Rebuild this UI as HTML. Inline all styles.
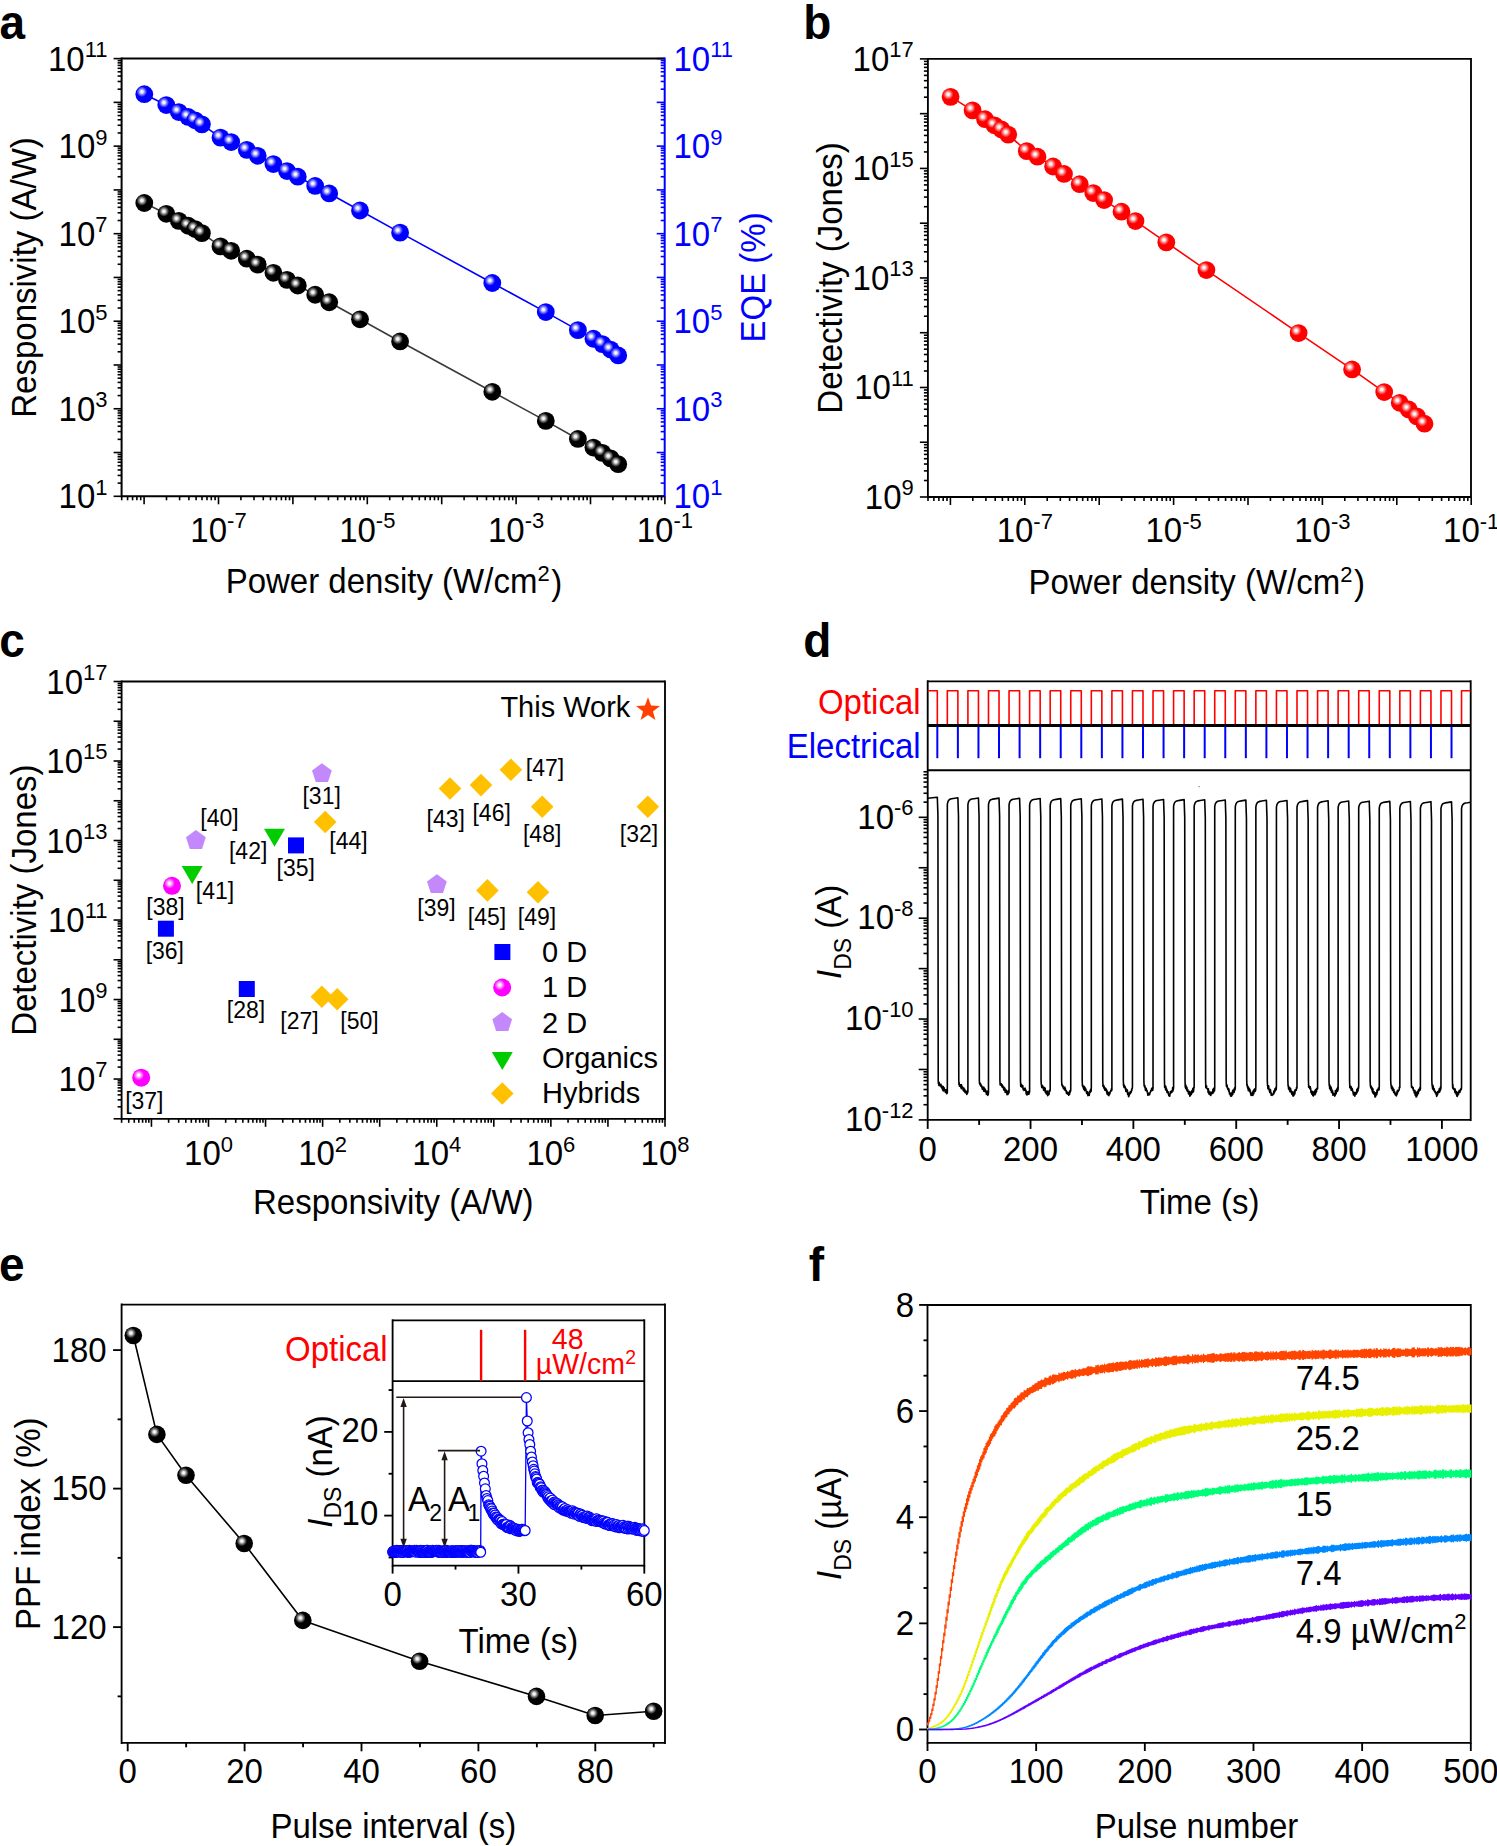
<!DOCTYPE html>
<html><head><meta charset="utf-8"><style>
html,body{margin:0;padding:0;background:#fff;}
svg{display:block;font-family:"Liberation Sans",sans-serif;}
</style></head><body>
<svg width="1497" height="1846" viewBox="0 0 1497 1846" font-size="33">
<defs>
<radialGradient id="hl"><stop offset="0" stop-color="#fff" stop-opacity="1"/><stop offset="0.25" stop-color="#fff" stop-opacity="0.92"/><stop offset="0.6" stop-color="#fff" stop-opacity="0.45"/><stop offset="1" stop-color="#fff" stop-opacity="0"/></radialGradient>
</defs>
<rect width="1497" height="1846" fill="#fff"/>
<text transform="translate(-0.5 38.6) scale(1 1.045)" font-weight="bold" font-size="46">a</text>
<line x1="121.6" y1="496.3" x2="113.6" y2="496.3" stroke="#000" stroke-width="1.6"/>
<line x1="121.6" y1="483.12" x2="117.6" y2="483.12" stroke="#000" stroke-width="1.6"/>
<line x1="121.6" y1="475.42" x2="117.6" y2="475.42" stroke="#000" stroke-width="1.6"/>
<line x1="121.6" y1="469.95" x2="117.6" y2="469.95" stroke="#000" stroke-width="1.6"/>
<line x1="121.6" y1="465.71" x2="117.6" y2="465.71" stroke="#000" stroke-width="1.6"/>
<line x1="121.6" y1="462.24" x2="117.6" y2="462.24" stroke="#000" stroke-width="1.6"/>
<line x1="121.6" y1="459.31" x2="117.6" y2="459.31" stroke="#000" stroke-width="1.6"/>
<line x1="121.6" y1="456.77" x2="117.6" y2="456.77" stroke="#000" stroke-width="1.6"/>
<line x1="121.6" y1="454.53" x2="117.6" y2="454.53" stroke="#000" stroke-width="1.6"/>
<line x1="121.6" y1="452.53" x2="113.6" y2="452.53" stroke="#000" stroke-width="1.6"/>
<line x1="121.6" y1="439.35" x2="117.6" y2="439.35" stroke="#000" stroke-width="1.6"/>
<line x1="121.6" y1="431.65" x2="117.6" y2="431.65" stroke="#000" stroke-width="1.6"/>
<line x1="121.6" y1="426.18" x2="117.6" y2="426.18" stroke="#000" stroke-width="1.6"/>
<line x1="121.6" y1="421.94" x2="117.6" y2="421.94" stroke="#000" stroke-width="1.6"/>
<line x1="121.6" y1="418.47" x2="117.6" y2="418.47" stroke="#000" stroke-width="1.6"/>
<line x1="121.6" y1="415.54" x2="117.6" y2="415.54" stroke="#000" stroke-width="1.6"/>
<line x1="121.6" y1="413" x2="117.6" y2="413" stroke="#000" stroke-width="1.6"/>
<line x1="121.6" y1="410.76" x2="117.6" y2="410.76" stroke="#000" stroke-width="1.6"/>
<line x1="121.6" y1="408.76" x2="113.6" y2="408.76" stroke="#000" stroke-width="1.6"/>
<line x1="121.6" y1="395.58" x2="117.6" y2="395.58" stroke="#000" stroke-width="1.6"/>
<line x1="121.6" y1="387.88" x2="117.6" y2="387.88" stroke="#000" stroke-width="1.6"/>
<line x1="121.6" y1="382.41" x2="117.6" y2="382.41" stroke="#000" stroke-width="1.6"/>
<line x1="121.6" y1="378.17" x2="117.6" y2="378.17" stroke="#000" stroke-width="1.6"/>
<line x1="121.6" y1="374.7" x2="117.6" y2="374.7" stroke="#000" stroke-width="1.6"/>
<line x1="121.6" y1="371.77" x2="117.6" y2="371.77" stroke="#000" stroke-width="1.6"/>
<line x1="121.6" y1="369.23" x2="117.6" y2="369.23" stroke="#000" stroke-width="1.6"/>
<line x1="121.6" y1="366.99" x2="117.6" y2="366.99" stroke="#000" stroke-width="1.6"/>
<line x1="121.6" y1="364.99" x2="113.6" y2="364.99" stroke="#000" stroke-width="1.6"/>
<line x1="121.6" y1="351.81" x2="117.6" y2="351.81" stroke="#000" stroke-width="1.6"/>
<line x1="121.6" y1="344.11" x2="117.6" y2="344.11" stroke="#000" stroke-width="1.6"/>
<line x1="121.6" y1="338.64" x2="117.6" y2="338.64" stroke="#000" stroke-width="1.6"/>
<line x1="121.6" y1="334.4" x2="117.6" y2="334.4" stroke="#000" stroke-width="1.6"/>
<line x1="121.6" y1="330.93" x2="117.6" y2="330.93" stroke="#000" stroke-width="1.6"/>
<line x1="121.6" y1="328" x2="117.6" y2="328" stroke="#000" stroke-width="1.6"/>
<line x1="121.6" y1="325.46" x2="117.6" y2="325.46" stroke="#000" stroke-width="1.6"/>
<line x1="121.6" y1="323.22" x2="117.6" y2="323.22" stroke="#000" stroke-width="1.6"/>
<line x1="121.6" y1="321.22" x2="113.6" y2="321.22" stroke="#000" stroke-width="1.6"/>
<line x1="121.6" y1="308.04" x2="117.6" y2="308.04" stroke="#000" stroke-width="1.6"/>
<line x1="121.6" y1="300.34" x2="117.6" y2="300.34" stroke="#000" stroke-width="1.6"/>
<line x1="121.6" y1="294.87" x2="117.6" y2="294.87" stroke="#000" stroke-width="1.6"/>
<line x1="121.6" y1="290.63" x2="117.6" y2="290.63" stroke="#000" stroke-width="1.6"/>
<line x1="121.6" y1="287.16" x2="117.6" y2="287.16" stroke="#000" stroke-width="1.6"/>
<line x1="121.6" y1="284.23" x2="117.6" y2="284.23" stroke="#000" stroke-width="1.6"/>
<line x1="121.6" y1="281.69" x2="117.6" y2="281.69" stroke="#000" stroke-width="1.6"/>
<line x1="121.6" y1="279.45" x2="117.6" y2="279.45" stroke="#000" stroke-width="1.6"/>
<line x1="121.6" y1="277.45" x2="113.6" y2="277.45" stroke="#000" stroke-width="1.6"/>
<line x1="121.6" y1="264.27" x2="117.6" y2="264.27" stroke="#000" stroke-width="1.6"/>
<line x1="121.6" y1="256.57" x2="117.6" y2="256.57" stroke="#000" stroke-width="1.6"/>
<line x1="121.6" y1="251.1" x2="117.6" y2="251.1" stroke="#000" stroke-width="1.6"/>
<line x1="121.6" y1="246.86" x2="117.6" y2="246.86" stroke="#000" stroke-width="1.6"/>
<line x1="121.6" y1="243.39" x2="117.6" y2="243.39" stroke="#000" stroke-width="1.6"/>
<line x1="121.6" y1="240.46" x2="117.6" y2="240.46" stroke="#000" stroke-width="1.6"/>
<line x1="121.6" y1="237.92" x2="117.6" y2="237.92" stroke="#000" stroke-width="1.6"/>
<line x1="121.6" y1="235.68" x2="117.6" y2="235.68" stroke="#000" stroke-width="1.6"/>
<line x1="121.6" y1="233.68" x2="113.6" y2="233.68" stroke="#000" stroke-width="1.6"/>
<line x1="121.6" y1="220.5" x2="117.6" y2="220.5" stroke="#000" stroke-width="1.6"/>
<line x1="121.6" y1="212.8" x2="117.6" y2="212.8" stroke="#000" stroke-width="1.6"/>
<line x1="121.6" y1="207.33" x2="117.6" y2="207.33" stroke="#000" stroke-width="1.6"/>
<line x1="121.6" y1="203.09" x2="117.6" y2="203.09" stroke="#000" stroke-width="1.6"/>
<line x1="121.6" y1="199.62" x2="117.6" y2="199.62" stroke="#000" stroke-width="1.6"/>
<line x1="121.6" y1="196.69" x2="117.6" y2="196.69" stroke="#000" stroke-width="1.6"/>
<line x1="121.6" y1="194.15" x2="117.6" y2="194.15" stroke="#000" stroke-width="1.6"/>
<line x1="121.6" y1="191.91" x2="117.6" y2="191.91" stroke="#000" stroke-width="1.6"/>
<line x1="121.6" y1="189.91" x2="113.6" y2="189.91" stroke="#000" stroke-width="1.6"/>
<line x1="121.6" y1="176.73" x2="117.6" y2="176.73" stroke="#000" stroke-width="1.6"/>
<line x1="121.6" y1="169.03" x2="117.6" y2="169.03" stroke="#000" stroke-width="1.6"/>
<line x1="121.6" y1="163.56" x2="117.6" y2="163.56" stroke="#000" stroke-width="1.6"/>
<line x1="121.6" y1="159.32" x2="117.6" y2="159.32" stroke="#000" stroke-width="1.6"/>
<line x1="121.6" y1="155.85" x2="117.6" y2="155.85" stroke="#000" stroke-width="1.6"/>
<line x1="121.6" y1="152.92" x2="117.6" y2="152.92" stroke="#000" stroke-width="1.6"/>
<line x1="121.6" y1="150.38" x2="117.6" y2="150.38" stroke="#000" stroke-width="1.6"/>
<line x1="121.6" y1="148.14" x2="117.6" y2="148.14" stroke="#000" stroke-width="1.6"/>
<line x1="121.6" y1="146.14" x2="113.6" y2="146.14" stroke="#000" stroke-width="1.6"/>
<line x1="121.6" y1="132.96" x2="117.6" y2="132.96" stroke="#000" stroke-width="1.6"/>
<line x1="121.6" y1="125.26" x2="117.6" y2="125.26" stroke="#000" stroke-width="1.6"/>
<line x1="121.6" y1="119.79" x2="117.6" y2="119.79" stroke="#000" stroke-width="1.6"/>
<line x1="121.6" y1="115.55" x2="117.6" y2="115.55" stroke="#000" stroke-width="1.6"/>
<line x1="121.6" y1="112.08" x2="117.6" y2="112.08" stroke="#000" stroke-width="1.6"/>
<line x1="121.6" y1="109.15" x2="117.6" y2="109.15" stroke="#000" stroke-width="1.6"/>
<line x1="121.6" y1="106.61" x2="117.6" y2="106.61" stroke="#000" stroke-width="1.6"/>
<line x1="121.6" y1="104.37" x2="117.6" y2="104.37" stroke="#000" stroke-width="1.6"/>
<line x1="121.6" y1="102.37" x2="113.6" y2="102.37" stroke="#000" stroke-width="1.6"/>
<line x1="121.6" y1="89.19" x2="117.6" y2="89.19" stroke="#000" stroke-width="1.6"/>
<line x1="121.6" y1="81.49" x2="117.6" y2="81.49" stroke="#000" stroke-width="1.6"/>
<line x1="121.6" y1="76.02" x2="117.6" y2="76.02" stroke="#000" stroke-width="1.6"/>
<line x1="121.6" y1="71.78" x2="117.6" y2="71.78" stroke="#000" stroke-width="1.6"/>
<line x1="121.6" y1="68.31" x2="117.6" y2="68.31" stroke="#000" stroke-width="1.6"/>
<line x1="121.6" y1="65.38" x2="117.6" y2="65.38" stroke="#000" stroke-width="1.6"/>
<line x1="121.6" y1="62.84" x2="117.6" y2="62.84" stroke="#000" stroke-width="1.6"/>
<line x1="121.6" y1="60.6" x2="117.6" y2="60.6" stroke="#000" stroke-width="1.6"/>
<line x1="121.6" y1="58.6" x2="113.6" y2="58.6" stroke="#000" stroke-width="1.6"/>
<line x1="664.7" y1="496.3" x2="656.7" y2="496.3" stroke="#00f" stroke-width="1.6"/>
<line x1="664.7" y1="483.12" x2="660.7" y2="483.12" stroke="#00f" stroke-width="1.6"/>
<line x1="664.7" y1="475.42" x2="660.7" y2="475.42" stroke="#00f" stroke-width="1.6"/>
<line x1="664.7" y1="469.95" x2="660.7" y2="469.95" stroke="#00f" stroke-width="1.6"/>
<line x1="664.7" y1="465.71" x2="660.7" y2="465.71" stroke="#00f" stroke-width="1.6"/>
<line x1="664.7" y1="462.24" x2="660.7" y2="462.24" stroke="#00f" stroke-width="1.6"/>
<line x1="664.7" y1="459.31" x2="660.7" y2="459.31" stroke="#00f" stroke-width="1.6"/>
<line x1="664.7" y1="456.77" x2="660.7" y2="456.77" stroke="#00f" stroke-width="1.6"/>
<line x1="664.7" y1="454.53" x2="660.7" y2="454.53" stroke="#00f" stroke-width="1.6"/>
<line x1="664.7" y1="452.53" x2="656.7" y2="452.53" stroke="#00f" stroke-width="1.6"/>
<line x1="664.7" y1="439.35" x2="660.7" y2="439.35" stroke="#00f" stroke-width="1.6"/>
<line x1="664.7" y1="431.65" x2="660.7" y2="431.65" stroke="#00f" stroke-width="1.6"/>
<line x1="664.7" y1="426.18" x2="660.7" y2="426.18" stroke="#00f" stroke-width="1.6"/>
<line x1="664.7" y1="421.94" x2="660.7" y2="421.94" stroke="#00f" stroke-width="1.6"/>
<line x1="664.7" y1="418.47" x2="660.7" y2="418.47" stroke="#00f" stroke-width="1.6"/>
<line x1="664.7" y1="415.54" x2="660.7" y2="415.54" stroke="#00f" stroke-width="1.6"/>
<line x1="664.7" y1="413" x2="660.7" y2="413" stroke="#00f" stroke-width="1.6"/>
<line x1="664.7" y1="410.76" x2="660.7" y2="410.76" stroke="#00f" stroke-width="1.6"/>
<line x1="664.7" y1="408.76" x2="656.7" y2="408.76" stroke="#00f" stroke-width="1.6"/>
<line x1="664.7" y1="395.58" x2="660.7" y2="395.58" stroke="#00f" stroke-width="1.6"/>
<line x1="664.7" y1="387.88" x2="660.7" y2="387.88" stroke="#00f" stroke-width="1.6"/>
<line x1="664.7" y1="382.41" x2="660.7" y2="382.41" stroke="#00f" stroke-width="1.6"/>
<line x1="664.7" y1="378.17" x2="660.7" y2="378.17" stroke="#00f" stroke-width="1.6"/>
<line x1="664.7" y1="374.7" x2="660.7" y2="374.7" stroke="#00f" stroke-width="1.6"/>
<line x1="664.7" y1="371.77" x2="660.7" y2="371.77" stroke="#00f" stroke-width="1.6"/>
<line x1="664.7" y1="369.23" x2="660.7" y2="369.23" stroke="#00f" stroke-width="1.6"/>
<line x1="664.7" y1="366.99" x2="660.7" y2="366.99" stroke="#00f" stroke-width="1.6"/>
<line x1="664.7" y1="364.99" x2="656.7" y2="364.99" stroke="#00f" stroke-width="1.6"/>
<line x1="664.7" y1="351.81" x2="660.7" y2="351.81" stroke="#00f" stroke-width="1.6"/>
<line x1="664.7" y1="344.11" x2="660.7" y2="344.11" stroke="#00f" stroke-width="1.6"/>
<line x1="664.7" y1="338.64" x2="660.7" y2="338.64" stroke="#00f" stroke-width="1.6"/>
<line x1="664.7" y1="334.4" x2="660.7" y2="334.4" stroke="#00f" stroke-width="1.6"/>
<line x1="664.7" y1="330.93" x2="660.7" y2="330.93" stroke="#00f" stroke-width="1.6"/>
<line x1="664.7" y1="328" x2="660.7" y2="328" stroke="#00f" stroke-width="1.6"/>
<line x1="664.7" y1="325.46" x2="660.7" y2="325.46" stroke="#00f" stroke-width="1.6"/>
<line x1="664.7" y1="323.22" x2="660.7" y2="323.22" stroke="#00f" stroke-width="1.6"/>
<line x1="664.7" y1="321.22" x2="656.7" y2="321.22" stroke="#00f" stroke-width="1.6"/>
<line x1="664.7" y1="308.04" x2="660.7" y2="308.04" stroke="#00f" stroke-width="1.6"/>
<line x1="664.7" y1="300.34" x2="660.7" y2="300.34" stroke="#00f" stroke-width="1.6"/>
<line x1="664.7" y1="294.87" x2="660.7" y2="294.87" stroke="#00f" stroke-width="1.6"/>
<line x1="664.7" y1="290.63" x2="660.7" y2="290.63" stroke="#00f" stroke-width="1.6"/>
<line x1="664.7" y1="287.16" x2="660.7" y2="287.16" stroke="#00f" stroke-width="1.6"/>
<line x1="664.7" y1="284.23" x2="660.7" y2="284.23" stroke="#00f" stroke-width="1.6"/>
<line x1="664.7" y1="281.69" x2="660.7" y2="281.69" stroke="#00f" stroke-width="1.6"/>
<line x1="664.7" y1="279.45" x2="660.7" y2="279.45" stroke="#00f" stroke-width="1.6"/>
<line x1="664.7" y1="277.45" x2="656.7" y2="277.45" stroke="#00f" stroke-width="1.6"/>
<line x1="664.7" y1="264.27" x2="660.7" y2="264.27" stroke="#00f" stroke-width="1.6"/>
<line x1="664.7" y1="256.57" x2="660.7" y2="256.57" stroke="#00f" stroke-width="1.6"/>
<line x1="664.7" y1="251.1" x2="660.7" y2="251.1" stroke="#00f" stroke-width="1.6"/>
<line x1="664.7" y1="246.86" x2="660.7" y2="246.86" stroke="#00f" stroke-width="1.6"/>
<line x1="664.7" y1="243.39" x2="660.7" y2="243.39" stroke="#00f" stroke-width="1.6"/>
<line x1="664.7" y1="240.46" x2="660.7" y2="240.46" stroke="#00f" stroke-width="1.6"/>
<line x1="664.7" y1="237.92" x2="660.7" y2="237.92" stroke="#00f" stroke-width="1.6"/>
<line x1="664.7" y1="235.68" x2="660.7" y2="235.68" stroke="#00f" stroke-width="1.6"/>
<line x1="664.7" y1="233.68" x2="656.7" y2="233.68" stroke="#00f" stroke-width="1.6"/>
<line x1="664.7" y1="220.5" x2="660.7" y2="220.5" stroke="#00f" stroke-width="1.6"/>
<line x1="664.7" y1="212.8" x2="660.7" y2="212.8" stroke="#00f" stroke-width="1.6"/>
<line x1="664.7" y1="207.33" x2="660.7" y2="207.33" stroke="#00f" stroke-width="1.6"/>
<line x1="664.7" y1="203.09" x2="660.7" y2="203.09" stroke="#00f" stroke-width="1.6"/>
<line x1="664.7" y1="199.62" x2="660.7" y2="199.62" stroke="#00f" stroke-width="1.6"/>
<line x1="664.7" y1="196.69" x2="660.7" y2="196.69" stroke="#00f" stroke-width="1.6"/>
<line x1="664.7" y1="194.15" x2="660.7" y2="194.15" stroke="#00f" stroke-width="1.6"/>
<line x1="664.7" y1="191.91" x2="660.7" y2="191.91" stroke="#00f" stroke-width="1.6"/>
<line x1="664.7" y1="189.91" x2="656.7" y2="189.91" stroke="#00f" stroke-width="1.6"/>
<line x1="664.7" y1="176.73" x2="660.7" y2="176.73" stroke="#00f" stroke-width="1.6"/>
<line x1="664.7" y1="169.03" x2="660.7" y2="169.03" stroke="#00f" stroke-width="1.6"/>
<line x1="664.7" y1="163.56" x2="660.7" y2="163.56" stroke="#00f" stroke-width="1.6"/>
<line x1="664.7" y1="159.32" x2="660.7" y2="159.32" stroke="#00f" stroke-width="1.6"/>
<line x1="664.7" y1="155.85" x2="660.7" y2="155.85" stroke="#00f" stroke-width="1.6"/>
<line x1="664.7" y1="152.92" x2="660.7" y2="152.92" stroke="#00f" stroke-width="1.6"/>
<line x1="664.7" y1="150.38" x2="660.7" y2="150.38" stroke="#00f" stroke-width="1.6"/>
<line x1="664.7" y1="148.14" x2="660.7" y2="148.14" stroke="#00f" stroke-width="1.6"/>
<line x1="664.7" y1="146.14" x2="656.7" y2="146.14" stroke="#00f" stroke-width="1.6"/>
<line x1="664.7" y1="132.96" x2="660.7" y2="132.96" stroke="#00f" stroke-width="1.6"/>
<line x1="664.7" y1="125.26" x2="660.7" y2="125.26" stroke="#00f" stroke-width="1.6"/>
<line x1="664.7" y1="119.79" x2="660.7" y2="119.79" stroke="#00f" stroke-width="1.6"/>
<line x1="664.7" y1="115.55" x2="660.7" y2="115.55" stroke="#00f" stroke-width="1.6"/>
<line x1="664.7" y1="112.08" x2="660.7" y2="112.08" stroke="#00f" stroke-width="1.6"/>
<line x1="664.7" y1="109.15" x2="660.7" y2="109.15" stroke="#00f" stroke-width="1.6"/>
<line x1="664.7" y1="106.61" x2="660.7" y2="106.61" stroke="#00f" stroke-width="1.6"/>
<line x1="664.7" y1="104.37" x2="660.7" y2="104.37" stroke="#00f" stroke-width="1.6"/>
<line x1="664.7" y1="102.37" x2="656.7" y2="102.37" stroke="#00f" stroke-width="1.6"/>
<line x1="664.7" y1="89.19" x2="660.7" y2="89.19" stroke="#00f" stroke-width="1.6"/>
<line x1="664.7" y1="81.49" x2="660.7" y2="81.49" stroke="#00f" stroke-width="1.6"/>
<line x1="664.7" y1="76.02" x2="660.7" y2="76.02" stroke="#00f" stroke-width="1.6"/>
<line x1="664.7" y1="71.78" x2="660.7" y2="71.78" stroke="#00f" stroke-width="1.6"/>
<line x1="664.7" y1="68.31" x2="660.7" y2="68.31" stroke="#00f" stroke-width="1.6"/>
<line x1="664.7" y1="65.38" x2="660.7" y2="65.38" stroke="#00f" stroke-width="1.6"/>
<line x1="664.7" y1="62.84" x2="660.7" y2="62.84" stroke="#00f" stroke-width="1.6"/>
<line x1="664.7" y1="60.6" x2="660.7" y2="60.6" stroke="#00f" stroke-width="1.6"/>
<line x1="664.7" y1="58.6" x2="656.7" y2="58.6" stroke="#00f" stroke-width="1.6"/>
<line x1="121.7" y1="496.3" x2="121.7" y2="500.3" stroke="#000" stroke-width="1.6"/>
<line x1="127.59" y1="496.3" x2="127.59" y2="500.3" stroke="#000" stroke-width="1.6"/>
<line x1="132.58" y1="496.3" x2="132.58" y2="500.3" stroke="#000" stroke-width="1.6"/>
<line x1="136.89" y1="496.3" x2="136.89" y2="500.3" stroke="#000" stroke-width="1.6"/>
<line x1="140.7" y1="496.3" x2="140.7" y2="500.3" stroke="#000" stroke-width="1.6"/>
<line x1="144.1" y1="496.3" x2="144.1" y2="504.3" stroke="#000" stroke-width="1.6"/>
<line x1="166.5" y1="496.3" x2="166.5" y2="500.3" stroke="#000" stroke-width="1.6"/>
<line x1="179.6" y1="496.3" x2="179.6" y2="500.3" stroke="#000" stroke-width="1.6"/>
<line x1="188.89" y1="496.3" x2="188.89" y2="500.3" stroke="#000" stroke-width="1.6"/>
<line x1="196.1" y1="496.3" x2="196.1" y2="500.3" stroke="#000" stroke-width="1.6"/>
<line x1="201.99" y1="496.3" x2="201.99" y2="500.3" stroke="#000" stroke-width="1.6"/>
<line x1="206.98" y1="496.3" x2="206.98" y2="500.3" stroke="#000" stroke-width="1.6"/>
<line x1="211.29" y1="496.3" x2="211.29" y2="500.3" stroke="#000" stroke-width="1.6"/>
<line x1="215.1" y1="496.3" x2="215.1" y2="500.3" stroke="#000" stroke-width="1.6"/>
<line x1="218.5" y1="496.3" x2="218.5" y2="504.3" stroke="#000" stroke-width="1.6"/>
<line x1="240.9" y1="496.3" x2="240.9" y2="500.3" stroke="#000" stroke-width="1.6"/>
<line x1="254" y1="496.3" x2="254" y2="500.3" stroke="#000" stroke-width="1.6"/>
<line x1="263.29" y1="496.3" x2="263.29" y2="500.3" stroke="#000" stroke-width="1.6"/>
<line x1="270.5" y1="496.3" x2="270.5" y2="500.3" stroke="#000" stroke-width="1.6"/>
<line x1="276.39" y1="496.3" x2="276.39" y2="500.3" stroke="#000" stroke-width="1.6"/>
<line x1="281.38" y1="496.3" x2="281.38" y2="500.3" stroke="#000" stroke-width="1.6"/>
<line x1="285.69" y1="496.3" x2="285.69" y2="500.3" stroke="#000" stroke-width="1.6"/>
<line x1="289.5" y1="496.3" x2="289.5" y2="500.3" stroke="#000" stroke-width="1.6"/>
<line x1="292.9" y1="496.3" x2="292.9" y2="504.3" stroke="#000" stroke-width="1.6"/>
<line x1="315.3" y1="496.3" x2="315.3" y2="500.3" stroke="#000" stroke-width="1.6"/>
<line x1="328.4" y1="496.3" x2="328.4" y2="500.3" stroke="#000" stroke-width="1.6"/>
<line x1="337.69" y1="496.3" x2="337.69" y2="500.3" stroke="#000" stroke-width="1.6"/>
<line x1="344.9" y1="496.3" x2="344.9" y2="500.3" stroke="#000" stroke-width="1.6"/>
<line x1="350.79" y1="496.3" x2="350.79" y2="500.3" stroke="#000" stroke-width="1.6"/>
<line x1="355.78" y1="496.3" x2="355.78" y2="500.3" stroke="#000" stroke-width="1.6"/>
<line x1="360.09" y1="496.3" x2="360.09" y2="500.3" stroke="#000" stroke-width="1.6"/>
<line x1="363.9" y1="496.3" x2="363.9" y2="500.3" stroke="#000" stroke-width="1.6"/>
<line x1="367.3" y1="496.3" x2="367.3" y2="504.3" stroke="#000" stroke-width="1.6"/>
<line x1="389.7" y1="496.3" x2="389.7" y2="500.3" stroke="#000" stroke-width="1.6"/>
<line x1="402.8" y1="496.3" x2="402.8" y2="500.3" stroke="#000" stroke-width="1.6"/>
<line x1="412.09" y1="496.3" x2="412.09" y2="500.3" stroke="#000" stroke-width="1.6"/>
<line x1="419.3" y1="496.3" x2="419.3" y2="500.3" stroke="#000" stroke-width="1.6"/>
<line x1="425.19" y1="496.3" x2="425.19" y2="500.3" stroke="#000" stroke-width="1.6"/>
<line x1="430.18" y1="496.3" x2="430.18" y2="500.3" stroke="#000" stroke-width="1.6"/>
<line x1="434.49" y1="496.3" x2="434.49" y2="500.3" stroke="#000" stroke-width="1.6"/>
<line x1="438.3" y1="496.3" x2="438.3" y2="500.3" stroke="#000" stroke-width="1.6"/>
<line x1="441.7" y1="496.3" x2="441.7" y2="504.3" stroke="#000" stroke-width="1.6"/>
<line x1="464.1" y1="496.3" x2="464.1" y2="500.3" stroke="#000" stroke-width="1.6"/>
<line x1="477.2" y1="496.3" x2="477.2" y2="500.3" stroke="#000" stroke-width="1.6"/>
<line x1="486.49" y1="496.3" x2="486.49" y2="500.3" stroke="#000" stroke-width="1.6"/>
<line x1="493.7" y1="496.3" x2="493.7" y2="500.3" stroke="#000" stroke-width="1.6"/>
<line x1="499.59" y1="496.3" x2="499.59" y2="500.3" stroke="#000" stroke-width="1.6"/>
<line x1="504.58" y1="496.3" x2="504.58" y2="500.3" stroke="#000" stroke-width="1.6"/>
<line x1="508.89" y1="496.3" x2="508.89" y2="500.3" stroke="#000" stroke-width="1.6"/>
<line x1="512.7" y1="496.3" x2="512.7" y2="500.3" stroke="#000" stroke-width="1.6"/>
<line x1="516.1" y1="496.3" x2="516.1" y2="504.3" stroke="#000" stroke-width="1.6"/>
<line x1="538.5" y1="496.3" x2="538.5" y2="500.3" stroke="#000" stroke-width="1.6"/>
<line x1="551.6" y1="496.3" x2="551.6" y2="500.3" stroke="#000" stroke-width="1.6"/>
<line x1="560.89" y1="496.3" x2="560.89" y2="500.3" stroke="#000" stroke-width="1.6"/>
<line x1="568.1" y1="496.3" x2="568.1" y2="500.3" stroke="#000" stroke-width="1.6"/>
<line x1="573.99" y1="496.3" x2="573.99" y2="500.3" stroke="#000" stroke-width="1.6"/>
<line x1="578.98" y1="496.3" x2="578.98" y2="500.3" stroke="#000" stroke-width="1.6"/>
<line x1="583.29" y1="496.3" x2="583.29" y2="500.3" stroke="#000" stroke-width="1.6"/>
<line x1="587.1" y1="496.3" x2="587.1" y2="500.3" stroke="#000" stroke-width="1.6"/>
<line x1="590.5" y1="496.3" x2="590.5" y2="504.3" stroke="#000" stroke-width="1.6"/>
<line x1="612.9" y1="496.3" x2="612.9" y2="500.3" stroke="#000" stroke-width="1.6"/>
<line x1="626" y1="496.3" x2="626" y2="500.3" stroke="#000" stroke-width="1.6"/>
<line x1="635.29" y1="496.3" x2="635.29" y2="500.3" stroke="#000" stroke-width="1.6"/>
<line x1="642.5" y1="496.3" x2="642.5" y2="500.3" stroke="#000" stroke-width="1.6"/>
<line x1="648.39" y1="496.3" x2="648.39" y2="500.3" stroke="#000" stroke-width="1.6"/>
<line x1="653.38" y1="496.3" x2="653.38" y2="500.3" stroke="#000" stroke-width="1.6"/>
<line x1="657.69" y1="496.3" x2="657.69" y2="500.3" stroke="#000" stroke-width="1.6"/>
<line x1="661.5" y1="496.3" x2="661.5" y2="500.3" stroke="#000" stroke-width="1.6"/>
<line x1="664.9" y1="496.3" x2="664.9" y2="504.3" stroke="#000" stroke-width="1.6"/>
<line x1="121.6" y1="58.6" x2="664.7" y2="58.6" stroke="#000" stroke-width="2"/>
<line x1="121.6" y1="496.3" x2="664.7" y2="496.3" stroke="#000" stroke-width="2"/>
<line x1="121.6" y1="57.6" x2="121.6" y2="497.3" stroke="#000" stroke-width="2"/>
<line x1="664.7" y1="57.6" x2="664.7" y2="497.3" stroke="#00f" stroke-width="2"/>
<text transform="translate(47.96 70.6) scale(1 1.045)">10</text>
<text transform="translate(84.66 57) scale(1 1.045)" font-size="22">11</text>
<text transform="translate(673.5 70.6) scale(1 1.045)" fill="#00f">10</text>
<text transform="translate(710.21 57) scale(1 1.045)" fill="#00f" font-size="22">11</text>
<text transform="translate(58.56 158.14) scale(1 1.045)">10</text>
<text transform="translate(95.26 144.54) scale(1 1.045)" font-size="22">9</text>
<text transform="translate(673.5 158.14) scale(1 1.045)" fill="#00f">10</text>
<text transform="translate(710.21 144.54) scale(1 1.045)" fill="#00f" font-size="22">9</text>
<text transform="translate(58.56 245.68) scale(1 1.045)">10</text>
<text transform="translate(95.26 232.08) scale(1 1.045)" font-size="22">7</text>
<text transform="translate(673.5 245.68) scale(1 1.045)" fill="#00f">10</text>
<text transform="translate(710.21 232.08) scale(1 1.045)" fill="#00f" font-size="22">7</text>
<text transform="translate(58.56 333.22) scale(1 1.045)">10</text>
<text transform="translate(95.26 319.62) scale(1 1.045)" font-size="22">5</text>
<text transform="translate(673.5 333.22) scale(1 1.045)" fill="#00f">10</text>
<text transform="translate(710.21 319.62) scale(1 1.045)" fill="#00f" font-size="22">5</text>
<text transform="translate(58.56 420.76) scale(1 1.045)">10</text>
<text transform="translate(95.26 407.16) scale(1 1.045)" font-size="22">3</text>
<text transform="translate(673.5 420.76) scale(1 1.045)" fill="#00f">10</text>
<text transform="translate(710.21 407.16) scale(1 1.045)" fill="#00f" font-size="22">3</text>
<text transform="translate(58.56 508.3) scale(1 1.045)">10</text>
<text transform="translate(95.26 494.7) scale(1 1.045)" font-size="22">1</text>
<text transform="translate(673.5 508.3) scale(1 1.045)" fill="#00f">10</text>
<text transform="translate(710.21 494.7) scale(1 1.045)" fill="#00f" font-size="22">1</text>
<text transform="translate(190.37 542) scale(1 1.045)">10</text>
<text transform="translate(227.07 528.4) scale(1 1.045)" font-size="22">-7</text>
<text transform="translate(339.17 542) scale(1 1.045)">10</text>
<text transform="translate(375.87 528.4) scale(1 1.045)" font-size="22">-5</text>
<text transform="translate(487.97 542) scale(1 1.045)">10</text>
<text transform="translate(524.67 528.4) scale(1 1.045)" font-size="22">-3</text>
<text transform="translate(636.77 542) scale(1 1.045)">10</text>
<text transform="translate(673.47 528.4) scale(1 1.045)" font-size="22">-1</text>
<text transform="translate(36.1 277.45) rotate(-90) scale(1 1.045)" text-anchor="middle">Responsivity (A/W)</text>
<text transform="translate(765 277.45) rotate(-90) scale(1 1.045)" text-anchor="middle" fill="#00f">EQE (%)</text>
<text transform="translate(225.67 592.9) scale(1 1.045)">Power density (W/cm</text>
<text transform="translate(537.4 581.2) scale(1 1.045)" font-size="22">2</text>
<text transform="translate(551.14 594.5) scale(1 1.045)">)</text>
<polyline points="144.3,203 166.3,213.83 178.8,220.87 188.2,225.75 195.2,229.08 201.9,233.16 220.5,246.39 231.2,250.83 246.8,258.67 257.7,264.62 273.4,272.83 287,279.87 297.8,285.51 315.2,294.77 329.2,302.27 360,319.29 400.1,341.44 492.3,391.78 545.8,420.88 577.9,438.95 593.4,447.56 602.4,452.9 610.6,458.38 618.2,464.22" fill="none" stroke="#3a3a3a" stroke-width="1.6" stroke-linejoin="round"/>
<polyline points="144.3,94.2 166.3,105.03 178.8,112.07 188.2,116.95 195.2,120.28 201.9,124.36 220.5,137.59 231.2,142.03 246.8,149.87 257.7,155.82 273.4,164.03 287,171.07 297.8,176.71 315.2,185.97 329.2,193.47 360,210.49 400.1,232.64 492.3,282.98 545.8,312.08 577.9,330.15 593.4,338.76 602.4,344.1 610.6,349.58 618.2,355.42" fill="none" stroke="#00f" stroke-width="1.6" stroke-linejoin="round"/>
<circle cx="144.3" cy="94.2" r="8.9" fill="#00f"/>
<circle cx="141.9" cy="91.7" r="5.3" fill="url(#hl)"/>
<circle cx="166.3" cy="105.03" r="8.9" fill="#00f"/>
<circle cx="163.9" cy="102.53" r="5.3" fill="url(#hl)"/>
<circle cx="178.8" cy="112.07" r="8.9" fill="#00f"/>
<circle cx="176.4" cy="109.57" r="5.3" fill="url(#hl)"/>
<circle cx="188.2" cy="116.95" r="8.9" fill="#00f"/>
<circle cx="185.8" cy="114.45" r="5.3" fill="url(#hl)"/>
<circle cx="195.2" cy="120.28" r="8.9" fill="#00f"/>
<circle cx="192.8" cy="117.78" r="5.3" fill="url(#hl)"/>
<circle cx="201.9" cy="124.36" r="8.9" fill="#00f"/>
<circle cx="199.5" cy="121.86" r="5.3" fill="url(#hl)"/>
<circle cx="220.5" cy="137.59" r="8.9" fill="#00f"/>
<circle cx="218.1" cy="135.09" r="5.3" fill="url(#hl)"/>
<circle cx="231.2" cy="142.03" r="8.9" fill="#00f"/>
<circle cx="228.8" cy="139.53" r="5.3" fill="url(#hl)"/>
<circle cx="246.8" cy="149.87" r="8.9" fill="#00f"/>
<circle cx="244.4" cy="147.37" r="5.3" fill="url(#hl)"/>
<circle cx="257.7" cy="155.82" r="8.9" fill="#00f"/>
<circle cx="255.3" cy="153.32" r="5.3" fill="url(#hl)"/>
<circle cx="273.4" cy="164.03" r="8.9" fill="#00f"/>
<circle cx="271" cy="161.53" r="5.3" fill="url(#hl)"/>
<circle cx="287" cy="171.07" r="8.9" fill="#00f"/>
<circle cx="284.6" cy="168.57" r="5.3" fill="url(#hl)"/>
<circle cx="297.8" cy="176.71" r="8.9" fill="#00f"/>
<circle cx="295.4" cy="174.21" r="5.3" fill="url(#hl)"/>
<circle cx="315.2" cy="185.97" r="8.9" fill="#00f"/>
<circle cx="312.8" cy="183.47" r="5.3" fill="url(#hl)"/>
<circle cx="329.2" cy="193.47" r="8.9" fill="#00f"/>
<circle cx="326.8" cy="190.97" r="5.3" fill="url(#hl)"/>
<circle cx="360" cy="210.49" r="8.9" fill="#00f"/>
<circle cx="357.6" cy="207.99" r="5.3" fill="url(#hl)"/>
<circle cx="400.1" cy="232.64" r="8.9" fill="#00f"/>
<circle cx="397.7" cy="230.14" r="5.3" fill="url(#hl)"/>
<circle cx="492.3" cy="282.98" r="8.9" fill="#00f"/>
<circle cx="489.9" cy="280.48" r="5.3" fill="url(#hl)"/>
<circle cx="545.8" cy="312.08" r="8.9" fill="#00f"/>
<circle cx="543.4" cy="309.58" r="5.3" fill="url(#hl)"/>
<circle cx="577.9" cy="330.15" r="8.9" fill="#00f"/>
<circle cx="575.5" cy="327.65" r="5.3" fill="url(#hl)"/>
<circle cx="593.4" cy="338.76" r="8.9" fill="#00f"/>
<circle cx="591" cy="336.26" r="5.3" fill="url(#hl)"/>
<circle cx="602.4" cy="344.1" r="8.9" fill="#00f"/>
<circle cx="600" cy="341.6" r="5.3" fill="url(#hl)"/>
<circle cx="610.6" cy="349.58" r="8.9" fill="#00f"/>
<circle cx="608.2" cy="347.08" r="5.3" fill="url(#hl)"/>
<circle cx="618.2" cy="355.42" r="8.9" fill="#00f"/>
<circle cx="615.8" cy="352.92" r="5.3" fill="url(#hl)"/>
<circle cx="144.3" cy="203" r="8.9" fill="#000"/>
<circle cx="141.9" cy="200.5" r="5.3" fill="url(#hl)"/>
<circle cx="166.3" cy="213.83" r="8.9" fill="#000"/>
<circle cx="163.9" cy="211.33" r="5.3" fill="url(#hl)"/>
<circle cx="178.8" cy="220.87" r="8.9" fill="#000"/>
<circle cx="176.4" cy="218.37" r="5.3" fill="url(#hl)"/>
<circle cx="188.2" cy="225.75" r="8.9" fill="#000"/>
<circle cx="185.8" cy="223.25" r="5.3" fill="url(#hl)"/>
<circle cx="195.2" cy="229.08" r="8.9" fill="#000"/>
<circle cx="192.8" cy="226.58" r="5.3" fill="url(#hl)"/>
<circle cx="201.9" cy="233.16" r="8.9" fill="#000"/>
<circle cx="199.5" cy="230.66" r="5.3" fill="url(#hl)"/>
<circle cx="220.5" cy="246.39" r="8.9" fill="#000"/>
<circle cx="218.1" cy="243.89" r="5.3" fill="url(#hl)"/>
<circle cx="231.2" cy="250.83" r="8.9" fill="#000"/>
<circle cx="228.8" cy="248.33" r="5.3" fill="url(#hl)"/>
<circle cx="246.8" cy="258.67" r="8.9" fill="#000"/>
<circle cx="244.4" cy="256.17" r="5.3" fill="url(#hl)"/>
<circle cx="257.7" cy="264.62" r="8.9" fill="#000"/>
<circle cx="255.3" cy="262.12" r="5.3" fill="url(#hl)"/>
<circle cx="273.4" cy="272.83" r="8.9" fill="#000"/>
<circle cx="271" cy="270.33" r="5.3" fill="url(#hl)"/>
<circle cx="287" cy="279.87" r="8.9" fill="#000"/>
<circle cx="284.6" cy="277.37" r="5.3" fill="url(#hl)"/>
<circle cx="297.8" cy="285.51" r="8.9" fill="#000"/>
<circle cx="295.4" cy="283.01" r="5.3" fill="url(#hl)"/>
<circle cx="315.2" cy="294.77" r="8.9" fill="#000"/>
<circle cx="312.8" cy="292.27" r="5.3" fill="url(#hl)"/>
<circle cx="329.2" cy="302.27" r="8.9" fill="#000"/>
<circle cx="326.8" cy="299.77" r="5.3" fill="url(#hl)"/>
<circle cx="360" cy="319.29" r="8.9" fill="#000"/>
<circle cx="357.6" cy="316.79" r="5.3" fill="url(#hl)"/>
<circle cx="400.1" cy="341.44" r="8.9" fill="#000"/>
<circle cx="397.7" cy="338.94" r="5.3" fill="url(#hl)"/>
<circle cx="492.3" cy="391.78" r="8.9" fill="#000"/>
<circle cx="489.9" cy="389.28" r="5.3" fill="url(#hl)"/>
<circle cx="545.8" cy="420.88" r="8.9" fill="#000"/>
<circle cx="543.4" cy="418.38" r="5.3" fill="url(#hl)"/>
<circle cx="577.9" cy="438.95" r="8.9" fill="#000"/>
<circle cx="575.5" cy="436.45" r="5.3" fill="url(#hl)"/>
<circle cx="593.4" cy="447.56" r="8.9" fill="#000"/>
<circle cx="591" cy="445.06" r="5.3" fill="url(#hl)"/>
<circle cx="602.4" cy="452.9" r="8.9" fill="#000"/>
<circle cx="600" cy="450.4" r="5.3" fill="url(#hl)"/>
<circle cx="610.6" cy="458.38" r="8.9" fill="#000"/>
<circle cx="608.2" cy="455.88" r="5.3" fill="url(#hl)"/>
<circle cx="618.2" cy="464.22" r="8.9" fill="#000"/>
<circle cx="615.8" cy="461.72" r="5.3" fill="url(#hl)"/>
<text transform="translate(803.3 38.8) scale(1 1.045)" font-weight="bold" font-size="46">b</text>
<line x1="927.9" y1="497" x2="919.9" y2="497" stroke="#000" stroke-width="1.6"/>
<line x1="927.9" y1="480.51" x2="923.9" y2="480.51" stroke="#000" stroke-width="1.6"/>
<line x1="927.9" y1="470.87" x2="923.9" y2="470.87" stroke="#000" stroke-width="1.6"/>
<line x1="927.9" y1="464.03" x2="923.9" y2="464.03" stroke="#000" stroke-width="1.6"/>
<line x1="927.9" y1="458.72" x2="923.9" y2="458.72" stroke="#000" stroke-width="1.6"/>
<line x1="927.9" y1="454.39" x2="923.9" y2="454.39" stroke="#000" stroke-width="1.6"/>
<line x1="927.9" y1="450.72" x2="923.9" y2="450.72" stroke="#000" stroke-width="1.6"/>
<line x1="927.9" y1="447.54" x2="923.9" y2="447.54" stroke="#000" stroke-width="1.6"/>
<line x1="927.9" y1="444.74" x2="923.9" y2="444.74" stroke="#000" stroke-width="1.6"/>
<line x1="927.9" y1="442.24" x2="919.9" y2="442.24" stroke="#000" stroke-width="1.6"/>
<line x1="927.9" y1="425.75" x2="923.9" y2="425.75" stroke="#000" stroke-width="1.6"/>
<line x1="927.9" y1="416.11" x2="923.9" y2="416.11" stroke="#000" stroke-width="1.6"/>
<line x1="927.9" y1="409.27" x2="923.9" y2="409.27" stroke="#000" stroke-width="1.6"/>
<line x1="927.9" y1="403.96" x2="923.9" y2="403.96" stroke="#000" stroke-width="1.6"/>
<line x1="927.9" y1="399.62" x2="923.9" y2="399.62" stroke="#000" stroke-width="1.6"/>
<line x1="927.9" y1="395.96" x2="923.9" y2="395.96" stroke="#000" stroke-width="1.6"/>
<line x1="927.9" y1="392.78" x2="923.9" y2="392.78" stroke="#000" stroke-width="1.6"/>
<line x1="927.9" y1="389.98" x2="923.9" y2="389.98" stroke="#000" stroke-width="1.6"/>
<line x1="927.9" y1="387.48" x2="919.9" y2="387.48" stroke="#000" stroke-width="1.6"/>
<line x1="927.9" y1="370.99" x2="923.9" y2="370.99" stroke="#000" stroke-width="1.6"/>
<line x1="927.9" y1="361.35" x2="923.9" y2="361.35" stroke="#000" stroke-width="1.6"/>
<line x1="927.9" y1="354.5" x2="923.9" y2="354.5" stroke="#000" stroke-width="1.6"/>
<line x1="927.9" y1="349.2" x2="923.9" y2="349.2" stroke="#000" stroke-width="1.6"/>
<line x1="927.9" y1="344.86" x2="923.9" y2="344.86" stroke="#000" stroke-width="1.6"/>
<line x1="927.9" y1="341.2" x2="923.9" y2="341.2" stroke="#000" stroke-width="1.6"/>
<line x1="927.9" y1="338.02" x2="923.9" y2="338.02" stroke="#000" stroke-width="1.6"/>
<line x1="927.9" y1="335.22" x2="923.9" y2="335.22" stroke="#000" stroke-width="1.6"/>
<line x1="927.9" y1="332.71" x2="919.9" y2="332.71" stroke="#000" stroke-width="1.6"/>
<line x1="927.9" y1="316.23" x2="923.9" y2="316.23" stroke="#000" stroke-width="1.6"/>
<line x1="927.9" y1="306.58" x2="923.9" y2="306.58" stroke="#000" stroke-width="1.6"/>
<line x1="927.9" y1="299.74" x2="923.9" y2="299.74" stroke="#000" stroke-width="1.6"/>
<line x1="927.9" y1="294.44" x2="923.9" y2="294.44" stroke="#000" stroke-width="1.6"/>
<line x1="927.9" y1="290.1" x2="923.9" y2="290.1" stroke="#000" stroke-width="1.6"/>
<line x1="927.9" y1="286.43" x2="923.9" y2="286.43" stroke="#000" stroke-width="1.6"/>
<line x1="927.9" y1="283.26" x2="923.9" y2="283.26" stroke="#000" stroke-width="1.6"/>
<line x1="927.9" y1="280.46" x2="923.9" y2="280.46" stroke="#000" stroke-width="1.6"/>
<line x1="927.9" y1="277.95" x2="919.9" y2="277.95" stroke="#000" stroke-width="1.6"/>
<line x1="927.9" y1="261.46" x2="923.9" y2="261.46" stroke="#000" stroke-width="1.6"/>
<line x1="927.9" y1="251.82" x2="923.9" y2="251.82" stroke="#000" stroke-width="1.6"/>
<line x1="927.9" y1="244.98" x2="923.9" y2="244.98" stroke="#000" stroke-width="1.6"/>
<line x1="927.9" y1="239.67" x2="923.9" y2="239.67" stroke="#000" stroke-width="1.6"/>
<line x1="927.9" y1="235.34" x2="923.9" y2="235.34" stroke="#000" stroke-width="1.6"/>
<line x1="927.9" y1="231.67" x2="923.9" y2="231.67" stroke="#000" stroke-width="1.6"/>
<line x1="927.9" y1="228.49" x2="923.9" y2="228.49" stroke="#000" stroke-width="1.6"/>
<line x1="927.9" y1="225.69" x2="923.9" y2="225.69" stroke="#000" stroke-width="1.6"/>
<line x1="927.9" y1="223.19" x2="919.9" y2="223.19" stroke="#000" stroke-width="1.6"/>
<line x1="927.9" y1="206.7" x2="923.9" y2="206.7" stroke="#000" stroke-width="1.6"/>
<line x1="927.9" y1="197.06" x2="923.9" y2="197.06" stroke="#000" stroke-width="1.6"/>
<line x1="927.9" y1="190.22" x2="923.9" y2="190.22" stroke="#000" stroke-width="1.6"/>
<line x1="927.9" y1="184.91" x2="923.9" y2="184.91" stroke="#000" stroke-width="1.6"/>
<line x1="927.9" y1="180.57" x2="923.9" y2="180.57" stroke="#000" stroke-width="1.6"/>
<line x1="927.9" y1="176.91" x2="923.9" y2="176.91" stroke="#000" stroke-width="1.6"/>
<line x1="927.9" y1="173.73" x2="923.9" y2="173.73" stroke="#000" stroke-width="1.6"/>
<line x1="927.9" y1="170.93" x2="923.9" y2="170.93" stroke="#000" stroke-width="1.6"/>
<line x1="927.9" y1="168.42" x2="919.9" y2="168.42" stroke="#000" stroke-width="1.6"/>
<line x1="927.9" y1="151.94" x2="923.9" y2="151.94" stroke="#000" stroke-width="1.6"/>
<line x1="927.9" y1="142.3" x2="923.9" y2="142.3" stroke="#000" stroke-width="1.6"/>
<line x1="927.9" y1="135.45" x2="923.9" y2="135.45" stroke="#000" stroke-width="1.6"/>
<line x1="927.9" y1="130.15" x2="923.9" y2="130.15" stroke="#000" stroke-width="1.6"/>
<line x1="927.9" y1="125.81" x2="923.9" y2="125.81" stroke="#000" stroke-width="1.6"/>
<line x1="927.9" y1="122.15" x2="923.9" y2="122.15" stroke="#000" stroke-width="1.6"/>
<line x1="927.9" y1="118.97" x2="923.9" y2="118.97" stroke="#000" stroke-width="1.6"/>
<line x1="927.9" y1="116.17" x2="923.9" y2="116.17" stroke="#000" stroke-width="1.6"/>
<line x1="927.9" y1="113.66" x2="919.9" y2="113.66" stroke="#000" stroke-width="1.6"/>
<line x1="927.9" y1="97.18" x2="923.9" y2="97.18" stroke="#000" stroke-width="1.6"/>
<line x1="927.9" y1="87.53" x2="923.9" y2="87.53" stroke="#000" stroke-width="1.6"/>
<line x1="927.9" y1="80.69" x2="923.9" y2="80.69" stroke="#000" stroke-width="1.6"/>
<line x1="927.9" y1="75.39" x2="923.9" y2="75.39" stroke="#000" stroke-width="1.6"/>
<line x1="927.9" y1="71.05" x2="923.9" y2="71.05" stroke="#000" stroke-width="1.6"/>
<line x1="927.9" y1="67.38" x2="923.9" y2="67.38" stroke="#000" stroke-width="1.6"/>
<line x1="927.9" y1="64.21" x2="923.9" y2="64.21" stroke="#000" stroke-width="1.6"/>
<line x1="927.9" y1="61.41" x2="923.9" y2="61.41" stroke="#000" stroke-width="1.6"/>
<line x1="927.9" y1="58.9" x2="919.9" y2="58.9" stroke="#000" stroke-width="1.6"/>
<line x1="928" y1="497" x2="928" y2="501" stroke="#000" stroke-width="1.6"/>
<line x1="933.89" y1="497" x2="933.89" y2="501" stroke="#000" stroke-width="1.6"/>
<line x1="938.88" y1="497" x2="938.88" y2="501" stroke="#000" stroke-width="1.6"/>
<line x1="943.19" y1="497" x2="943.19" y2="501" stroke="#000" stroke-width="1.6"/>
<line x1="947" y1="497" x2="947" y2="501" stroke="#000" stroke-width="1.6"/>
<line x1="950.4" y1="497" x2="950.4" y2="505" stroke="#000" stroke-width="1.6"/>
<line x1="972.8" y1="497" x2="972.8" y2="501" stroke="#000" stroke-width="1.6"/>
<line x1="985.9" y1="497" x2="985.9" y2="501" stroke="#000" stroke-width="1.6"/>
<line x1="995.19" y1="497" x2="995.19" y2="501" stroke="#000" stroke-width="1.6"/>
<line x1="1002.4" y1="497" x2="1002.4" y2="501" stroke="#000" stroke-width="1.6"/>
<line x1="1008.29" y1="497" x2="1008.29" y2="501" stroke="#000" stroke-width="1.6"/>
<line x1="1013.28" y1="497" x2="1013.28" y2="501" stroke="#000" stroke-width="1.6"/>
<line x1="1017.59" y1="497" x2="1017.59" y2="501" stroke="#000" stroke-width="1.6"/>
<line x1="1021.4" y1="497" x2="1021.4" y2="501" stroke="#000" stroke-width="1.6"/>
<line x1="1024.8" y1="497" x2="1024.8" y2="505" stroke="#000" stroke-width="1.6"/>
<line x1="1047.2" y1="497" x2="1047.2" y2="501" stroke="#000" stroke-width="1.6"/>
<line x1="1060.3" y1="497" x2="1060.3" y2="501" stroke="#000" stroke-width="1.6"/>
<line x1="1069.59" y1="497" x2="1069.59" y2="501" stroke="#000" stroke-width="1.6"/>
<line x1="1076.8" y1="497" x2="1076.8" y2="501" stroke="#000" stroke-width="1.6"/>
<line x1="1082.69" y1="497" x2="1082.69" y2="501" stroke="#000" stroke-width="1.6"/>
<line x1="1087.68" y1="497" x2="1087.68" y2="501" stroke="#000" stroke-width="1.6"/>
<line x1="1091.99" y1="497" x2="1091.99" y2="501" stroke="#000" stroke-width="1.6"/>
<line x1="1095.8" y1="497" x2="1095.8" y2="501" stroke="#000" stroke-width="1.6"/>
<line x1="1099.2" y1="497" x2="1099.2" y2="505" stroke="#000" stroke-width="1.6"/>
<line x1="1121.6" y1="497" x2="1121.6" y2="501" stroke="#000" stroke-width="1.6"/>
<line x1="1134.7" y1="497" x2="1134.7" y2="501" stroke="#000" stroke-width="1.6"/>
<line x1="1143.99" y1="497" x2="1143.99" y2="501" stroke="#000" stroke-width="1.6"/>
<line x1="1151.2" y1="497" x2="1151.2" y2="501" stroke="#000" stroke-width="1.6"/>
<line x1="1157.09" y1="497" x2="1157.09" y2="501" stroke="#000" stroke-width="1.6"/>
<line x1="1162.08" y1="497" x2="1162.08" y2="501" stroke="#000" stroke-width="1.6"/>
<line x1="1166.39" y1="497" x2="1166.39" y2="501" stroke="#000" stroke-width="1.6"/>
<line x1="1170.2" y1="497" x2="1170.2" y2="501" stroke="#000" stroke-width="1.6"/>
<line x1="1173.6" y1="497" x2="1173.6" y2="505" stroke="#000" stroke-width="1.6"/>
<line x1="1196" y1="497" x2="1196" y2="501" stroke="#000" stroke-width="1.6"/>
<line x1="1209.1" y1="497" x2="1209.1" y2="501" stroke="#000" stroke-width="1.6"/>
<line x1="1218.39" y1="497" x2="1218.39" y2="501" stroke="#000" stroke-width="1.6"/>
<line x1="1225.6" y1="497" x2="1225.6" y2="501" stroke="#000" stroke-width="1.6"/>
<line x1="1231.49" y1="497" x2="1231.49" y2="501" stroke="#000" stroke-width="1.6"/>
<line x1="1236.48" y1="497" x2="1236.48" y2="501" stroke="#000" stroke-width="1.6"/>
<line x1="1240.79" y1="497" x2="1240.79" y2="501" stroke="#000" stroke-width="1.6"/>
<line x1="1244.6" y1="497" x2="1244.6" y2="501" stroke="#000" stroke-width="1.6"/>
<line x1="1248" y1="497" x2="1248" y2="505" stroke="#000" stroke-width="1.6"/>
<line x1="1270.4" y1="497" x2="1270.4" y2="501" stroke="#000" stroke-width="1.6"/>
<line x1="1283.5" y1="497" x2="1283.5" y2="501" stroke="#000" stroke-width="1.6"/>
<line x1="1292.79" y1="497" x2="1292.79" y2="501" stroke="#000" stroke-width="1.6"/>
<line x1="1300" y1="497" x2="1300" y2="501" stroke="#000" stroke-width="1.6"/>
<line x1="1305.89" y1="497" x2="1305.89" y2="501" stroke="#000" stroke-width="1.6"/>
<line x1="1310.88" y1="497" x2="1310.88" y2="501" stroke="#000" stroke-width="1.6"/>
<line x1="1315.19" y1="497" x2="1315.19" y2="501" stroke="#000" stroke-width="1.6"/>
<line x1="1319" y1="497" x2="1319" y2="501" stroke="#000" stroke-width="1.6"/>
<line x1="1322.4" y1="497" x2="1322.4" y2="505" stroke="#000" stroke-width="1.6"/>
<line x1="1344.8" y1="497" x2="1344.8" y2="501" stroke="#000" stroke-width="1.6"/>
<line x1="1357.9" y1="497" x2="1357.9" y2="501" stroke="#000" stroke-width="1.6"/>
<line x1="1367.19" y1="497" x2="1367.19" y2="501" stroke="#000" stroke-width="1.6"/>
<line x1="1374.4" y1="497" x2="1374.4" y2="501" stroke="#000" stroke-width="1.6"/>
<line x1="1380.29" y1="497" x2="1380.29" y2="501" stroke="#000" stroke-width="1.6"/>
<line x1="1385.28" y1="497" x2="1385.28" y2="501" stroke="#000" stroke-width="1.6"/>
<line x1="1389.59" y1="497" x2="1389.59" y2="501" stroke="#000" stroke-width="1.6"/>
<line x1="1393.4" y1="497" x2="1393.4" y2="501" stroke="#000" stroke-width="1.6"/>
<line x1="1396.8" y1="497" x2="1396.8" y2="505" stroke="#000" stroke-width="1.6"/>
<line x1="1419.2" y1="497" x2="1419.2" y2="501" stroke="#000" stroke-width="1.6"/>
<line x1="1432.3" y1="497" x2="1432.3" y2="501" stroke="#000" stroke-width="1.6"/>
<line x1="1441.59" y1="497" x2="1441.59" y2="501" stroke="#000" stroke-width="1.6"/>
<line x1="1448.8" y1="497" x2="1448.8" y2="501" stroke="#000" stroke-width="1.6"/>
<line x1="1454.69" y1="497" x2="1454.69" y2="501" stroke="#000" stroke-width="1.6"/>
<line x1="1459.68" y1="497" x2="1459.68" y2="501" stroke="#000" stroke-width="1.6"/>
<line x1="1463.99" y1="497" x2="1463.99" y2="501" stroke="#000" stroke-width="1.6"/>
<line x1="1467.8" y1="497" x2="1467.8" y2="501" stroke="#000" stroke-width="1.6"/>
<line x1="1471.2" y1="497" x2="1471.2" y2="505" stroke="#000" stroke-width="1.6"/>
<line x1="927.9" y1="58.9" x2="1471" y2="58.9" stroke="#000" stroke-width="1.85"/>
<line x1="927.9" y1="497" x2="1471" y2="497" stroke="#000" stroke-width="1.85"/>
<line x1="927.9" y1="57.9" x2="927.9" y2="498" stroke="#000" stroke-width="1.85"/>
<line x1="1471" y1="57.9" x2="1471" y2="498" stroke="#000" stroke-width="1.85"/>
<text transform="translate(852.62 70.9) scale(1 1.045)">10</text>
<text transform="translate(889.33 57.3) scale(1 1.045)" font-size="22">17</text>
<text transform="translate(852.62 180.42) scale(1 1.045)">10</text>
<text transform="translate(889.33 166.82) scale(1 1.045)" font-size="22">15</text>
<text transform="translate(852.62 289.95) scale(1 1.045)">10</text>
<text transform="translate(889.33 276.35) scale(1 1.045)" font-size="22">13</text>
<text transform="translate(854.26 399.48) scale(1 1.045)">10</text>
<text transform="translate(890.96 385.88) scale(1 1.045)" font-size="22">11</text>
<text transform="translate(864.86 509) scale(1 1.045)">10</text>
<text transform="translate(901.56 495.4) scale(1 1.045)" font-size="22">9</text>
<text transform="translate(996.67 542.4) scale(1 1.045)">10</text>
<text transform="translate(1033.37 528.8) scale(1 1.045)" font-size="22">-7</text>
<text transform="translate(1145.47 542.4) scale(1 1.045)">10</text>
<text transform="translate(1182.17 528.8) scale(1 1.045)" font-size="22">-5</text>
<text transform="translate(1294.27 542.4) scale(1 1.045)">10</text>
<text transform="translate(1330.97 528.8) scale(1 1.045)" font-size="22">-3</text>
<text transform="translate(1443.07 542.4) scale(1 1.045)">10</text>
<text transform="translate(1479.77 528.8) scale(1 1.045)" font-size="22">-1</text>
<text transform="translate(842.4 277.95) rotate(-90) scale(1 1.045)" text-anchor="middle">Detectivity (Jones)</text>
<text transform="translate(1028.47 593.6) scale(1 1.045)">Power density (W/cm</text>
<text transform="translate(1340.2 581.9) scale(1 1.045)" font-size="22">2</text>
<text transform="translate(1353.94 595.2) scale(1 1.045)">)</text>
<polyline points="950.6,96.86 972.6,110.4 985.1,119.22 994.5,125.32 1001.5,129.48 1008.2,134.59 1026.8,151.14 1037.5,156.69 1053.1,166.51 1064,173.95 1079.7,184.22 1093.3,193.03 1104.1,200.08 1121.5,211.68 1135.5,221.06 1166.3,242.35 1206.4,270.06 1298.6,333.05 1352.1,369.45 1384.2,392.05 1399.7,402.83 1408.7,409.51 1416.9,416.38 1424.5,423.68" fill="none" stroke="#f00" stroke-width="1.6" stroke-linejoin="round"/>
<circle cx="950.6" cy="96.86" r="8.9" fill="#f00"/>
<circle cx="948.2" cy="94.36" r="5.3" fill="url(#hl)"/>
<circle cx="972.6" cy="110.4" r="8.9" fill="#f00"/>
<circle cx="970.2" cy="107.9" r="5.3" fill="url(#hl)"/>
<circle cx="985.1" cy="119.22" r="8.9" fill="#f00"/>
<circle cx="982.7" cy="116.72" r="5.3" fill="url(#hl)"/>
<circle cx="994.5" cy="125.32" r="8.9" fill="#f00"/>
<circle cx="992.1" cy="122.82" r="5.3" fill="url(#hl)"/>
<circle cx="1001.5" cy="129.48" r="8.9" fill="#f00"/>
<circle cx="999.1" cy="126.98" r="5.3" fill="url(#hl)"/>
<circle cx="1008.2" cy="134.59" r="8.9" fill="#f00"/>
<circle cx="1005.8" cy="132.09" r="5.3" fill="url(#hl)"/>
<circle cx="1026.8" cy="151.14" r="8.9" fill="#f00"/>
<circle cx="1024.4" cy="148.64" r="5.3" fill="url(#hl)"/>
<circle cx="1037.5" cy="156.69" r="8.9" fill="#f00"/>
<circle cx="1035.1" cy="154.19" r="5.3" fill="url(#hl)"/>
<circle cx="1053.1" cy="166.51" r="8.9" fill="#f00"/>
<circle cx="1050.7" cy="164.01" r="5.3" fill="url(#hl)"/>
<circle cx="1064" cy="173.95" r="8.9" fill="#f00"/>
<circle cx="1061.6" cy="171.45" r="5.3" fill="url(#hl)"/>
<circle cx="1079.7" cy="184.22" r="8.9" fill="#f00"/>
<circle cx="1077.3" cy="181.72" r="5.3" fill="url(#hl)"/>
<circle cx="1093.3" cy="193.03" r="8.9" fill="#f00"/>
<circle cx="1090.9" cy="190.53" r="5.3" fill="url(#hl)"/>
<circle cx="1104.1" cy="200.08" r="8.9" fill="#f00"/>
<circle cx="1101.7" cy="197.58" r="5.3" fill="url(#hl)"/>
<circle cx="1121.5" cy="211.68" r="8.9" fill="#f00"/>
<circle cx="1119.1" cy="209.18" r="5.3" fill="url(#hl)"/>
<circle cx="1135.5" cy="221.06" r="8.9" fill="#f00"/>
<circle cx="1133.1" cy="218.56" r="5.3" fill="url(#hl)"/>
<circle cx="1166.3" cy="242.35" r="8.9" fill="#f00"/>
<circle cx="1163.9" cy="239.85" r="5.3" fill="url(#hl)"/>
<circle cx="1206.4" cy="270.06" r="8.9" fill="#f00"/>
<circle cx="1204" cy="267.56" r="5.3" fill="url(#hl)"/>
<circle cx="1298.6" cy="333.05" r="8.9" fill="#f00"/>
<circle cx="1296.2" cy="330.55" r="5.3" fill="url(#hl)"/>
<circle cx="1352.1" cy="369.45" r="8.9" fill="#f00"/>
<circle cx="1349.7" cy="366.95" r="5.3" fill="url(#hl)"/>
<circle cx="1384.2" cy="392.05" r="8.9" fill="#f00"/>
<circle cx="1381.8" cy="389.55" r="5.3" fill="url(#hl)"/>
<circle cx="1399.7" cy="402.83" r="8.9" fill="#f00"/>
<circle cx="1397.3" cy="400.33" r="5.3" fill="url(#hl)"/>
<circle cx="1408.7" cy="409.51" r="8.9" fill="#f00"/>
<circle cx="1406.3" cy="407.01" r="5.3" fill="url(#hl)"/>
<circle cx="1416.9" cy="416.38" r="8.9" fill="#f00"/>
<circle cx="1414.5" cy="413.88" r="5.3" fill="url(#hl)"/>
<circle cx="1424.5" cy="423.68" r="8.9" fill="#f00"/>
<circle cx="1422.1" cy="421.18" r="5.3" fill="url(#hl)"/>
<text transform="translate(-0.8 657.2) scale(1 1.045)" font-weight="bold" font-size="46">c</text>
<line x1="121.6" y1="1118.8" x2="113.6" y2="1118.8" stroke="#000" stroke-width="1.6"/>
<line x1="121.6" y1="1106.83" x2="117.6" y2="1106.83" stroke="#000" stroke-width="1.6"/>
<line x1="121.6" y1="1099.83" x2="117.6" y2="1099.83" stroke="#000" stroke-width="1.6"/>
<line x1="121.6" y1="1094.87" x2="117.6" y2="1094.87" stroke="#000" stroke-width="1.6"/>
<line x1="121.6" y1="1091.01" x2="117.6" y2="1091.01" stroke="#000" stroke-width="1.6"/>
<line x1="121.6" y1="1087.86" x2="117.6" y2="1087.86" stroke="#000" stroke-width="1.6"/>
<line x1="121.6" y1="1085.2" x2="117.6" y2="1085.2" stroke="#000" stroke-width="1.6"/>
<line x1="121.6" y1="1082.9" x2="117.6" y2="1082.9" stroke="#000" stroke-width="1.6"/>
<line x1="121.6" y1="1080.86" x2="117.6" y2="1080.86" stroke="#000" stroke-width="1.6"/>
<line x1="121.6" y1="1079.05" x2="113.6" y2="1079.05" stroke="#000" stroke-width="1.6"/>
<line x1="121.6" y1="1067.08" x2="117.6" y2="1067.08" stroke="#000" stroke-width="1.6"/>
<line x1="121.6" y1="1060.08" x2="117.6" y2="1060.08" stroke="#000" stroke-width="1.6"/>
<line x1="121.6" y1="1055.11" x2="117.6" y2="1055.11" stroke="#000" stroke-width="1.6"/>
<line x1="121.6" y1="1051.26" x2="117.6" y2="1051.26" stroke="#000" stroke-width="1.6"/>
<line x1="121.6" y1="1048.11" x2="117.6" y2="1048.11" stroke="#000" stroke-width="1.6"/>
<line x1="121.6" y1="1045.45" x2="117.6" y2="1045.45" stroke="#000" stroke-width="1.6"/>
<line x1="121.6" y1="1043.14" x2="117.6" y2="1043.14" stroke="#000" stroke-width="1.6"/>
<line x1="121.6" y1="1041.11" x2="117.6" y2="1041.11" stroke="#000" stroke-width="1.6"/>
<line x1="121.6" y1="1039.29" x2="113.6" y2="1039.29" stroke="#000" stroke-width="1.6"/>
<line x1="121.6" y1="1027.32" x2="117.6" y2="1027.32" stroke="#000" stroke-width="1.6"/>
<line x1="121.6" y1="1020.32" x2="117.6" y2="1020.32" stroke="#000" stroke-width="1.6"/>
<line x1="121.6" y1="1015.36" x2="117.6" y2="1015.36" stroke="#000" stroke-width="1.6"/>
<line x1="121.6" y1="1011.5" x2="117.6" y2="1011.5" stroke="#000" stroke-width="1.6"/>
<line x1="121.6" y1="1008.36" x2="117.6" y2="1008.36" stroke="#000" stroke-width="1.6"/>
<line x1="121.6" y1="1005.69" x2="117.6" y2="1005.69" stroke="#000" stroke-width="1.6"/>
<line x1="121.6" y1="1003.39" x2="117.6" y2="1003.39" stroke="#000" stroke-width="1.6"/>
<line x1="121.6" y1="1001.36" x2="117.6" y2="1001.36" stroke="#000" stroke-width="1.6"/>
<line x1="121.6" y1="999.54" x2="113.6" y2="999.54" stroke="#000" stroke-width="1.6"/>
<line x1="121.6" y1="987.57" x2="117.6" y2="987.57" stroke="#000" stroke-width="1.6"/>
<line x1="121.6" y1="980.57" x2="117.6" y2="980.57" stroke="#000" stroke-width="1.6"/>
<line x1="121.6" y1="975.6" x2="117.6" y2="975.6" stroke="#000" stroke-width="1.6"/>
<line x1="121.6" y1="971.75" x2="117.6" y2="971.75" stroke="#000" stroke-width="1.6"/>
<line x1="121.6" y1="968.6" x2="117.6" y2="968.6" stroke="#000" stroke-width="1.6"/>
<line x1="121.6" y1="965.94" x2="117.6" y2="965.94" stroke="#000" stroke-width="1.6"/>
<line x1="121.6" y1="963.63" x2="117.6" y2="963.63" stroke="#000" stroke-width="1.6"/>
<line x1="121.6" y1="961.6" x2="117.6" y2="961.6" stroke="#000" stroke-width="1.6"/>
<line x1="121.6" y1="959.78" x2="113.6" y2="959.78" stroke="#000" stroke-width="1.6"/>
<line x1="121.6" y1="947.81" x2="117.6" y2="947.81" stroke="#000" stroke-width="1.6"/>
<line x1="121.6" y1="940.81" x2="117.6" y2="940.81" stroke="#000" stroke-width="1.6"/>
<line x1="121.6" y1="935.85" x2="117.6" y2="935.85" stroke="#000" stroke-width="1.6"/>
<line x1="121.6" y1="931.99" x2="117.6" y2="931.99" stroke="#000" stroke-width="1.6"/>
<line x1="121.6" y1="928.85" x2="117.6" y2="928.85" stroke="#000" stroke-width="1.6"/>
<line x1="121.6" y1="926.19" x2="117.6" y2="926.19" stroke="#000" stroke-width="1.6"/>
<line x1="121.6" y1="923.88" x2="117.6" y2="923.88" stroke="#000" stroke-width="1.6"/>
<line x1="121.6" y1="921.85" x2="117.6" y2="921.85" stroke="#000" stroke-width="1.6"/>
<line x1="121.6" y1="920.03" x2="113.6" y2="920.03" stroke="#000" stroke-width="1.6"/>
<line x1="121.6" y1="908.06" x2="117.6" y2="908.06" stroke="#000" stroke-width="1.6"/>
<line x1="121.6" y1="901.06" x2="117.6" y2="901.06" stroke="#000" stroke-width="1.6"/>
<line x1="121.6" y1="896.09" x2="117.6" y2="896.09" stroke="#000" stroke-width="1.6"/>
<line x1="121.6" y1="892.24" x2="117.6" y2="892.24" stroke="#000" stroke-width="1.6"/>
<line x1="121.6" y1="889.09" x2="117.6" y2="889.09" stroke="#000" stroke-width="1.6"/>
<line x1="121.6" y1="886.43" x2="117.6" y2="886.43" stroke="#000" stroke-width="1.6"/>
<line x1="121.6" y1="884.13" x2="117.6" y2="884.13" stroke="#000" stroke-width="1.6"/>
<line x1="121.6" y1="882.09" x2="117.6" y2="882.09" stroke="#000" stroke-width="1.6"/>
<line x1="121.6" y1="880.27" x2="113.6" y2="880.27" stroke="#000" stroke-width="1.6"/>
<line x1="121.6" y1="868.31" x2="117.6" y2="868.31" stroke="#000" stroke-width="1.6"/>
<line x1="121.6" y1="861.3" x2="117.6" y2="861.3" stroke="#000" stroke-width="1.6"/>
<line x1="121.6" y1="856.34" x2="117.6" y2="856.34" stroke="#000" stroke-width="1.6"/>
<line x1="121.6" y1="852.49" x2="117.6" y2="852.49" stroke="#000" stroke-width="1.6"/>
<line x1="121.6" y1="849.34" x2="117.6" y2="849.34" stroke="#000" stroke-width="1.6"/>
<line x1="121.6" y1="846.68" x2="117.6" y2="846.68" stroke="#000" stroke-width="1.6"/>
<line x1="121.6" y1="844.37" x2="117.6" y2="844.37" stroke="#000" stroke-width="1.6"/>
<line x1="121.6" y1="842.34" x2="117.6" y2="842.34" stroke="#000" stroke-width="1.6"/>
<line x1="121.6" y1="840.52" x2="113.6" y2="840.52" stroke="#000" stroke-width="1.6"/>
<line x1="121.6" y1="828.55" x2="117.6" y2="828.55" stroke="#000" stroke-width="1.6"/>
<line x1="121.6" y1="821.55" x2="117.6" y2="821.55" stroke="#000" stroke-width="1.6"/>
<line x1="121.6" y1="816.58" x2="117.6" y2="816.58" stroke="#000" stroke-width="1.6"/>
<line x1="121.6" y1="812.73" x2="117.6" y2="812.73" stroke="#000" stroke-width="1.6"/>
<line x1="121.6" y1="809.58" x2="117.6" y2="809.58" stroke="#000" stroke-width="1.6"/>
<line x1="121.6" y1="806.92" x2="117.6" y2="806.92" stroke="#000" stroke-width="1.6"/>
<line x1="121.6" y1="804.62" x2="117.6" y2="804.62" stroke="#000" stroke-width="1.6"/>
<line x1="121.6" y1="802.58" x2="117.6" y2="802.58" stroke="#000" stroke-width="1.6"/>
<line x1="121.6" y1="800.76" x2="113.6" y2="800.76" stroke="#000" stroke-width="1.6"/>
<line x1="121.6" y1="788.8" x2="117.6" y2="788.8" stroke="#000" stroke-width="1.6"/>
<line x1="121.6" y1="781.8" x2="117.6" y2="781.8" stroke="#000" stroke-width="1.6"/>
<line x1="121.6" y1="776.83" x2="117.6" y2="776.83" stroke="#000" stroke-width="1.6"/>
<line x1="121.6" y1="772.98" x2="117.6" y2="772.98" stroke="#000" stroke-width="1.6"/>
<line x1="121.6" y1="769.83" x2="117.6" y2="769.83" stroke="#000" stroke-width="1.6"/>
<line x1="121.6" y1="767.17" x2="117.6" y2="767.17" stroke="#000" stroke-width="1.6"/>
<line x1="121.6" y1="764.86" x2="117.6" y2="764.86" stroke="#000" stroke-width="1.6"/>
<line x1="121.6" y1="762.83" x2="117.6" y2="762.83" stroke="#000" stroke-width="1.6"/>
<line x1="121.6" y1="761.01" x2="113.6" y2="761.01" stroke="#000" stroke-width="1.6"/>
<line x1="121.6" y1="749.04" x2="117.6" y2="749.04" stroke="#000" stroke-width="1.6"/>
<line x1="121.6" y1="742.04" x2="117.6" y2="742.04" stroke="#000" stroke-width="1.6"/>
<line x1="121.6" y1="737.07" x2="117.6" y2="737.07" stroke="#000" stroke-width="1.6"/>
<line x1="121.6" y1="733.22" x2="117.6" y2="733.22" stroke="#000" stroke-width="1.6"/>
<line x1="121.6" y1="730.07" x2="117.6" y2="730.07" stroke="#000" stroke-width="1.6"/>
<line x1="121.6" y1="727.41" x2="117.6" y2="727.41" stroke="#000" stroke-width="1.6"/>
<line x1="121.6" y1="725.11" x2="117.6" y2="725.11" stroke="#000" stroke-width="1.6"/>
<line x1="121.6" y1="723.07" x2="117.6" y2="723.07" stroke="#000" stroke-width="1.6"/>
<line x1="121.6" y1="721.25" x2="113.6" y2="721.25" stroke="#000" stroke-width="1.6"/>
<line x1="121.6" y1="709.29" x2="117.6" y2="709.29" stroke="#000" stroke-width="1.6"/>
<line x1="121.6" y1="702.29" x2="117.6" y2="702.29" stroke="#000" stroke-width="1.6"/>
<line x1="121.6" y1="697.32" x2="117.6" y2="697.32" stroke="#000" stroke-width="1.6"/>
<line x1="121.6" y1="693.47" x2="117.6" y2="693.47" stroke="#000" stroke-width="1.6"/>
<line x1="121.6" y1="690.32" x2="117.6" y2="690.32" stroke="#000" stroke-width="1.6"/>
<line x1="121.6" y1="687.66" x2="117.6" y2="687.66" stroke="#000" stroke-width="1.6"/>
<line x1="121.6" y1="685.35" x2="117.6" y2="685.35" stroke="#000" stroke-width="1.6"/>
<line x1="121.6" y1="683.32" x2="117.6" y2="683.32" stroke="#000" stroke-width="1.6"/>
<line x1="121.6" y1="681.5" x2="113.6" y2="681.5" stroke="#000" stroke-width="1.6"/>
<line x1="121.6" y1="1118.8" x2="121.6" y2="1122.8" stroke="#000" stroke-width="1.6"/>
<line x1="128.73" y1="1118.8" x2="128.73" y2="1122.8" stroke="#000" stroke-width="1.6"/>
<line x1="134.26" y1="1118.8" x2="134.26" y2="1122.8" stroke="#000" stroke-width="1.6"/>
<line x1="138.78" y1="1118.8" x2="138.78" y2="1122.8" stroke="#000" stroke-width="1.6"/>
<line x1="142.6" y1="1118.8" x2="142.6" y2="1122.8" stroke="#000" stroke-width="1.6"/>
<line x1="145.91" y1="1118.8" x2="145.91" y2="1122.8" stroke="#000" stroke-width="1.6"/>
<line x1="148.83" y1="1118.8" x2="148.83" y2="1122.8" stroke="#000" stroke-width="1.6"/>
<line x1="151.44" y1="1118.8" x2="151.44" y2="1126.8" stroke="#000" stroke-width="1.6"/>
<line x1="168.61" y1="1118.8" x2="168.61" y2="1122.8" stroke="#000" stroke-width="1.6"/>
<line x1="178.66" y1="1118.8" x2="178.66" y2="1122.8" stroke="#000" stroke-width="1.6"/>
<line x1="185.79" y1="1118.8" x2="185.79" y2="1122.8" stroke="#000" stroke-width="1.6"/>
<line x1="191.32" y1="1118.8" x2="191.32" y2="1122.8" stroke="#000" stroke-width="1.6"/>
<line x1="195.84" y1="1118.8" x2="195.84" y2="1122.8" stroke="#000" stroke-width="1.6"/>
<line x1="199.66" y1="1118.8" x2="199.66" y2="1122.8" stroke="#000" stroke-width="1.6"/>
<line x1="202.97" y1="1118.8" x2="202.97" y2="1122.8" stroke="#000" stroke-width="1.6"/>
<line x1="205.89" y1="1118.8" x2="205.89" y2="1122.8" stroke="#000" stroke-width="1.6"/>
<line x1="208.5" y1="1118.8" x2="208.5" y2="1126.8" stroke="#000" stroke-width="1.6"/>
<line x1="225.68" y1="1118.8" x2="225.68" y2="1122.8" stroke="#000" stroke-width="1.6"/>
<line x1="235.73" y1="1118.8" x2="235.73" y2="1122.8" stroke="#000" stroke-width="1.6"/>
<line x1="242.85" y1="1118.8" x2="242.85" y2="1122.8" stroke="#000" stroke-width="1.6"/>
<line x1="248.38" y1="1118.8" x2="248.38" y2="1122.8" stroke="#000" stroke-width="1.6"/>
<line x1="252.9" y1="1118.8" x2="252.9" y2="1122.8" stroke="#000" stroke-width="1.6"/>
<line x1="256.72" y1="1118.8" x2="256.72" y2="1122.8" stroke="#000" stroke-width="1.6"/>
<line x1="260.03" y1="1118.8" x2="260.03" y2="1122.8" stroke="#000" stroke-width="1.6"/>
<line x1="262.95" y1="1118.8" x2="262.95" y2="1122.8" stroke="#000" stroke-width="1.6"/>
<line x1="265.56" y1="1118.8" x2="265.56" y2="1126.8" stroke="#000" stroke-width="1.6"/>
<line x1="282.74" y1="1118.8" x2="282.74" y2="1122.8" stroke="#000" stroke-width="1.6"/>
<line x1="292.79" y1="1118.8" x2="292.79" y2="1122.8" stroke="#000" stroke-width="1.6"/>
<line x1="299.92" y1="1118.8" x2="299.92" y2="1122.8" stroke="#000" stroke-width="1.6"/>
<line x1="305.45" y1="1118.8" x2="305.45" y2="1122.8" stroke="#000" stroke-width="1.6"/>
<line x1="309.97" y1="1118.8" x2="309.97" y2="1122.8" stroke="#000" stroke-width="1.6"/>
<line x1="313.79" y1="1118.8" x2="313.79" y2="1122.8" stroke="#000" stroke-width="1.6"/>
<line x1="317.09" y1="1118.8" x2="317.09" y2="1122.8" stroke="#000" stroke-width="1.6"/>
<line x1="320.01" y1="1118.8" x2="320.01" y2="1122.8" stroke="#000" stroke-width="1.6"/>
<line x1="322.62" y1="1118.8" x2="322.62" y2="1126.8" stroke="#000" stroke-width="1.6"/>
<line x1="339.8" y1="1118.8" x2="339.8" y2="1122.8" stroke="#000" stroke-width="1.6"/>
<line x1="349.85" y1="1118.8" x2="349.85" y2="1122.8" stroke="#000" stroke-width="1.6"/>
<line x1="356.98" y1="1118.8" x2="356.98" y2="1122.8" stroke="#000" stroke-width="1.6"/>
<line x1="362.51" y1="1118.8" x2="362.51" y2="1122.8" stroke="#000" stroke-width="1.6"/>
<line x1="367.03" y1="1118.8" x2="367.03" y2="1122.8" stroke="#000" stroke-width="1.6"/>
<line x1="370.85" y1="1118.8" x2="370.85" y2="1122.8" stroke="#000" stroke-width="1.6"/>
<line x1="374.16" y1="1118.8" x2="374.16" y2="1122.8" stroke="#000" stroke-width="1.6"/>
<line x1="377.08" y1="1118.8" x2="377.08" y2="1122.8" stroke="#000" stroke-width="1.6"/>
<line x1="379.69" y1="1118.8" x2="379.69" y2="1126.8" stroke="#000" stroke-width="1.6"/>
<line x1="396.86" y1="1118.8" x2="396.86" y2="1122.8" stroke="#000" stroke-width="1.6"/>
<line x1="406.91" y1="1118.8" x2="406.91" y2="1122.8" stroke="#000" stroke-width="1.6"/>
<line x1="414.04" y1="1118.8" x2="414.04" y2="1122.8" stroke="#000" stroke-width="1.6"/>
<line x1="419.57" y1="1118.8" x2="419.57" y2="1122.8" stroke="#000" stroke-width="1.6"/>
<line x1="424.09" y1="1118.8" x2="424.09" y2="1122.8" stroke="#000" stroke-width="1.6"/>
<line x1="427.91" y1="1118.8" x2="427.91" y2="1122.8" stroke="#000" stroke-width="1.6"/>
<line x1="431.22" y1="1118.8" x2="431.22" y2="1122.8" stroke="#000" stroke-width="1.6"/>
<line x1="434.14" y1="1118.8" x2="434.14" y2="1122.8" stroke="#000" stroke-width="1.6"/>
<line x1="436.75" y1="1118.8" x2="436.75" y2="1126.8" stroke="#000" stroke-width="1.6"/>
<line x1="453.93" y1="1118.8" x2="453.93" y2="1122.8" stroke="#000" stroke-width="1.6"/>
<line x1="463.98" y1="1118.8" x2="463.98" y2="1122.8" stroke="#000" stroke-width="1.6"/>
<line x1="471.1" y1="1118.8" x2="471.1" y2="1122.8" stroke="#000" stroke-width="1.6"/>
<line x1="476.63" y1="1118.8" x2="476.63" y2="1122.8" stroke="#000" stroke-width="1.6"/>
<line x1="481.15" y1="1118.8" x2="481.15" y2="1122.8" stroke="#000" stroke-width="1.6"/>
<line x1="484.97" y1="1118.8" x2="484.97" y2="1122.8" stroke="#000" stroke-width="1.6"/>
<line x1="488.28" y1="1118.8" x2="488.28" y2="1122.8" stroke="#000" stroke-width="1.6"/>
<line x1="491.2" y1="1118.8" x2="491.2" y2="1122.8" stroke="#000" stroke-width="1.6"/>
<line x1="493.81" y1="1118.8" x2="493.81" y2="1126.8" stroke="#000" stroke-width="1.6"/>
<line x1="510.99" y1="1118.8" x2="510.99" y2="1122.8" stroke="#000" stroke-width="1.6"/>
<line x1="521.04" y1="1118.8" x2="521.04" y2="1122.8" stroke="#000" stroke-width="1.6"/>
<line x1="528.17" y1="1118.8" x2="528.17" y2="1122.8" stroke="#000" stroke-width="1.6"/>
<line x1="533.7" y1="1118.8" x2="533.7" y2="1122.8" stroke="#000" stroke-width="1.6"/>
<line x1="538.22" y1="1118.8" x2="538.22" y2="1122.8" stroke="#000" stroke-width="1.6"/>
<line x1="542.04" y1="1118.8" x2="542.04" y2="1122.8" stroke="#000" stroke-width="1.6"/>
<line x1="545.34" y1="1118.8" x2="545.34" y2="1122.8" stroke="#000" stroke-width="1.6"/>
<line x1="548.26" y1="1118.8" x2="548.26" y2="1122.8" stroke="#000" stroke-width="1.6"/>
<line x1="550.87" y1="1118.8" x2="550.87" y2="1126.8" stroke="#000" stroke-width="1.6"/>
<line x1="568.05" y1="1118.8" x2="568.05" y2="1122.8" stroke="#000" stroke-width="1.6"/>
<line x1="578.1" y1="1118.8" x2="578.1" y2="1122.8" stroke="#000" stroke-width="1.6"/>
<line x1="585.23" y1="1118.8" x2="585.23" y2="1122.8" stroke="#000" stroke-width="1.6"/>
<line x1="590.76" y1="1118.8" x2="590.76" y2="1122.8" stroke="#000" stroke-width="1.6"/>
<line x1="595.28" y1="1118.8" x2="595.28" y2="1122.8" stroke="#000" stroke-width="1.6"/>
<line x1="599.1" y1="1118.8" x2="599.1" y2="1122.8" stroke="#000" stroke-width="1.6"/>
<line x1="602.41" y1="1118.8" x2="602.41" y2="1122.8" stroke="#000" stroke-width="1.6"/>
<line x1="605.33" y1="1118.8" x2="605.33" y2="1122.8" stroke="#000" stroke-width="1.6"/>
<line x1="607.94" y1="1118.8" x2="607.94" y2="1126.8" stroke="#000" stroke-width="1.6"/>
<line x1="625.11" y1="1118.8" x2="625.11" y2="1122.8" stroke="#000" stroke-width="1.6"/>
<line x1="635.16" y1="1118.8" x2="635.16" y2="1122.8" stroke="#000" stroke-width="1.6"/>
<line x1="642.29" y1="1118.8" x2="642.29" y2="1122.8" stroke="#000" stroke-width="1.6"/>
<line x1="647.82" y1="1118.8" x2="647.82" y2="1122.8" stroke="#000" stroke-width="1.6"/>
<line x1="652.34" y1="1118.8" x2="652.34" y2="1122.8" stroke="#000" stroke-width="1.6"/>
<line x1="656.16" y1="1118.8" x2="656.16" y2="1122.8" stroke="#000" stroke-width="1.6"/>
<line x1="659.47" y1="1118.8" x2="659.47" y2="1122.8" stroke="#000" stroke-width="1.6"/>
<line x1="662.39" y1="1118.8" x2="662.39" y2="1122.8" stroke="#000" stroke-width="1.6"/>
<line x1="665" y1="1118.8" x2="665" y2="1126.8" stroke="#000" stroke-width="1.6"/>
<line x1="121.6" y1="681.5" x2="665" y2="681.5" stroke="#000" stroke-width="1.85"/>
<line x1="121.6" y1="1118.8" x2="665" y2="1118.8" stroke="#000" stroke-width="1.85"/>
<line x1="121.6" y1="680.5" x2="121.6" y2="1119.8" stroke="#000" stroke-width="1.85"/>
<line x1="665" y1="680.5" x2="665" y2="1119.8" stroke="#000" stroke-width="1.85"/>
<text transform="translate(46.32 693.5) scale(1 1.045)">10</text>
<text transform="translate(83.03 679.9) scale(1 1.045)" font-size="22">17</text>
<text transform="translate(46.32 773.01) scale(1 1.045)">10</text>
<text transform="translate(83.03 759.41) scale(1 1.045)" font-size="22">15</text>
<text transform="translate(46.32 852.52) scale(1 1.045)">10</text>
<text transform="translate(83.03 838.92) scale(1 1.045)" font-size="22">13</text>
<text transform="translate(47.96 932.03) scale(1 1.045)">10</text>
<text transform="translate(84.66 918.43) scale(1 1.045)" font-size="22">11</text>
<text transform="translate(58.56 1011.54) scale(1 1.045)">10</text>
<text transform="translate(95.26 997.94) scale(1 1.045)" font-size="22">9</text>
<text transform="translate(58.56 1091.05) scale(1 1.045)">10</text>
<text transform="translate(95.26 1077.45) scale(1 1.045)" font-size="22">7</text>
<text transform="translate(184.03 1165.1) scale(1 1.045)">10</text>
<text transform="translate(220.73 1151.5) scale(1 1.045)" font-size="22">0</text>
<text transform="translate(298.15 1165.1) scale(1 1.045)">10</text>
<text transform="translate(334.86 1151.5) scale(1 1.045)" font-size="22">2</text>
<text transform="translate(412.28 1165.1) scale(1 1.045)">10</text>
<text transform="translate(448.99 1151.5) scale(1 1.045)" font-size="22">4</text>
<text transform="translate(526.4 1165.1) scale(1 1.045)">10</text>
<text transform="translate(563.11 1151.5) scale(1 1.045)" font-size="22">6</text>
<text transform="translate(640.53 1165.1) scale(1 1.045)">10</text>
<text transform="translate(677.24 1151.5) scale(1 1.045)" font-size="22">8</text>
<text transform="translate(36.1 900.15) rotate(-90) scale(1 1.045)" text-anchor="middle">Detectivity (Jones)</text>
<text transform="translate(393.3 1213.5) scale(1 1.045)" text-anchor="middle">Responsivity (A/W)</text>
<rect x="157.9" y="920.7" width="16" height="16" fill="#0000ff"/>
<rect x="288" y="837.4" width="16" height="16" fill="#0000ff"/>
<rect x="238.8" y="981" width="16" height="16" fill="#0000ff"/>
<rect x="494.4" y="944" width="16" height="16" fill="#0000ff"/>
<polygon points="321.9,763.3 331.79,770.49 328.01,782.11 315.79,782.11 312.01,770.49" fill="#c388fc"/>
<polygon points="195.9,830.1 205.79,837.29 202.01,848.91 189.79,848.91 186.01,837.29" fill="#c388fc"/>
<polygon points="436.9,874.3 446.79,881.49 443.01,893.11 430.79,893.11 427.01,881.49" fill="#c388fc"/>
<polygon points="502.2,1012.1 512.09,1019.29 508.31,1030.91 496.09,1030.91 492.31,1019.29" fill="#c388fc"/>
<polygon points="264,828.7 285,828.7 274.5,846.7" fill="#00cc00"/>
<polygon points="181.7,866.1 202.7,866.1 192.2,884.1" fill="#00cc00"/>
<polygon points="491.8,1052.1 512.8,1052.1 502.3,1070.1" fill="#00cc00"/>
<polygon points="510.9,758.5 522.2,769.8 510.9,781.1 499.6,769.8" fill="#ffc000"/>
<polygon points="450,777.2 461.3,788.5 450,799.8 438.7,788.5" fill="#ffc000"/>
<polygon points="481,773.8 492.3,785.1 481,796.4 469.7,785.1" fill="#ffc000"/>
<polygon points="542.2,795.5 553.5,806.8 542.2,818.1 530.9,806.8" fill="#ffc000"/>
<polygon points="647.8,795.5 659.1,806.8 647.8,818.1 636.5,806.8" fill="#ffc000"/>
<polygon points="325.2,810.7 336.5,822 325.2,833.3 313.9,822" fill="#ffc000"/>
<polygon points="487.4,879.1 498.7,890.4 487.4,901.7 476.1,890.4" fill="#ffc000"/>
<polygon points="538,881 549.3,892.3 538,903.6 526.7,892.3" fill="#ffc000"/>
<polygon points="321.8,985.4 333.1,996.7 321.8,1008 310.5,996.7" fill="#ffc000"/>
<polygon points="337.2,988 348.5,999.3 337.2,1010.6 325.9,999.3" fill="#ffc000"/>
<polygon points="502.3,1082.2 513.6,1093.5 502.3,1104.8 491,1093.5" fill="#ffc000"/>
<circle cx="172" cy="885.8" r="9" fill="#ff00ff"/>
<circle cx="169.57" cy="883.27" r="5.36" fill="url(#hl)"/>
<circle cx="141.2" cy="1077.7" r="9" fill="#ff00ff"/>
<circle cx="138.77" cy="1075.17" r="5.36" fill="url(#hl)"/>
<circle cx="502.2" cy="987.5" r="9" fill="#ff00ff"/>
<circle cx="499.77" cy="984.97" r="5.36" fill="url(#hl)"/>
<polygon points="648,697.2 651.06,705.59 659.98,705.91 652.95,711.41 655.41,719.99 648,715 640.59,719.99 643.05,711.41 636.02,705.91 644.94,705.59" fill="#ff4000"/>
<text transform="translate(302.45 803.6) scale(1 1.045)" font-size="23">[31]</text>
<text transform="translate(200.25 826.4) scale(1 1.045)" font-size="23">[40]</text>
<text transform="translate(228.95 858.8) scale(1 1.045)" font-size="23">[42]</text>
<text transform="translate(276.55 875.6) scale(1 1.045)" font-size="23">[35]</text>
<text transform="translate(329.35 849.4) scale(1 1.045)" font-size="23">[44]</text>
<text transform="translate(195.85 899) scale(1 1.045)" font-size="23">[41]</text>
<text transform="translate(146.25 914.9) scale(1 1.045)" font-size="23">[38]</text>
<text transform="translate(145.65 958.8) scale(1 1.045)" font-size="23">[36]</text>
<text transform="translate(525.75 775.9) scale(1 1.045)" font-size="23">[47]</text>
<text transform="translate(426.55 826.8) scale(1 1.045)" font-size="23">[43]</text>
<text transform="translate(472.45 820.7) scale(1 1.045)" font-size="23">[46]</text>
<text transform="translate(522.95 841.8) scale(1 1.045)" font-size="23">[48]</text>
<text transform="translate(619.85 841.8) scale(1 1.045)" font-size="23">[32]</text>
<text transform="translate(417.25 916.2) scale(1 1.045)" font-size="23">[39]</text>
<text transform="translate(467.75 924.7) scale(1 1.045)" font-size="23">[45]</text>
<text transform="translate(517.85 924.7) scale(1 1.045)" font-size="23">[49]</text>
<text transform="translate(226.75 1018.2) scale(1 1.045)" font-size="23">[28]</text>
<text transform="translate(280.35 1028.8) scale(1 1.045)" font-size="23">[27]</text>
<text transform="translate(340.25 1029.4) scale(1 1.045)" font-size="23">[50]</text>
<text transform="translate(125.15 1108.5) scale(1 1.045)" font-size="23">[37]</text>
<text transform="translate(500.4 716.8) scale(1 1.045)" font-size="29">This Work</text>
<text transform="translate(542 962) scale(1 1.045)" font-size="29">0 D</text>
<text transform="translate(542 997.3) scale(1 1.045)" font-size="29">1 D</text>
<text transform="translate(542 1032.5) scale(1 1.045)" font-size="29">2 D</text>
<text transform="translate(542 1067.7) scale(1 1.045)" font-size="29">Organics</text>
<text transform="translate(542 1103.2) scale(1 1.045)" font-size="29">Hybrids</text>
<text transform="translate(803.3 657.3) scale(1 1.045)" font-weight="bold" font-size="46">d</text>
<line x1="927.7" y1="681.3" x2="1470.7" y2="681.3" stroke="#000" stroke-width="1.85"/>
<line x1="927.7" y1="680.3" x2="927.7" y2="1120.9" stroke="#000" stroke-width="1.85"/>
<line x1="1470.7" y1="680.3" x2="1470.7" y2="1120.9" stroke="#000" stroke-width="1.85"/>
<line x1="927.7" y1="770.2" x2="1470.7" y2="770.2" stroke="#000" stroke-width="1.85"/>
<polyline points="927.7,690.8 937.32,690.8 937.32,725.5 947.34,725.5 947.34,690.8 957.88,690.8 957.88,725.5 967.91,725.5 967.91,690.8 978.45,690.8 978.45,725.5 988.48,725.5 988.48,690.8 999.02,690.8 999.02,725.5 1009.05,725.5 1009.05,690.8 1019.59,690.8 1019.59,725.5 1029.61,725.5 1029.61,690.8 1040.16,690.8 1040.16,725.5 1050.18,725.5 1050.18,690.8 1060.72,690.8 1060.72,725.5 1070.75,725.5 1070.75,690.8 1081.29,690.8 1081.29,725.5 1091.32,725.5 1091.32,690.8 1101.86,690.8 1101.86,725.5 1111.89,725.5 1111.89,690.8 1122.43,690.8 1122.43,725.5 1132.45,725.5 1132.45,690.8 1143,690.8 1143,725.5 1153.02,725.5 1153.02,690.8 1163.56,690.8 1163.56,725.5 1173.59,725.5 1173.59,690.8 1184.13,690.8 1184.13,725.5 1194.16,725.5 1194.16,690.8 1204.7,690.8 1204.7,725.5 1214.73,725.5 1214.73,690.8 1225.27,690.8 1225.27,725.5 1235.29,725.5 1235.29,690.8 1245.84,690.8 1245.84,725.5 1255.86,725.5 1255.86,690.8 1266.4,690.8 1266.4,725.5 1276.43,725.5 1276.43,690.8 1286.97,690.8 1286.97,725.5 1297,725.5 1297,690.8 1307.54,690.8 1307.54,725.5 1317.57,725.5 1317.57,690.8 1328.11,690.8 1328.11,725.5 1338.13,725.5 1338.13,690.8 1348.68,690.8 1348.68,725.5 1358.7,725.5 1358.7,690.8 1369.24,690.8 1369.24,725.5 1379.27,725.5 1379.27,690.8 1389.81,690.8 1389.81,725.5 1399.84,725.5 1399.84,690.8 1410.38,690.8 1410.38,725.5 1420.41,725.5 1420.41,690.8 1430.95,690.8 1430.95,725.5 1440.97,725.5 1440.97,690.8 1451.52,690.8 1451.52,725.5 1461.54,725.5 1461.54,690.8 1470.7,690.8" fill="none" stroke="#ff0000" stroke-width="1.6" stroke-linejoin="round" stroke-linejoin="miter"/>
<line x1="927.7" y1="725.5" x2="1470.7" y2="725.5" stroke="#000" stroke-width="3"/>
<line x1="937.32" y1="726.5" x2="937.32" y2="758.2" stroke="#0000ff" stroke-width="2"/>
<line x1="957.88" y1="726.5" x2="957.88" y2="758.2" stroke="#0000ff" stroke-width="2"/>
<line x1="978.45" y1="726.5" x2="978.45" y2="758.2" stroke="#0000ff" stroke-width="2"/>
<line x1="999.02" y1="726.5" x2="999.02" y2="758.2" stroke="#0000ff" stroke-width="2"/>
<line x1="1019.59" y1="726.5" x2="1019.59" y2="758.2" stroke="#0000ff" stroke-width="2"/>
<line x1="1040.16" y1="726.5" x2="1040.16" y2="758.2" stroke="#0000ff" stroke-width="2"/>
<line x1="1060.72" y1="726.5" x2="1060.72" y2="758.2" stroke="#0000ff" stroke-width="2"/>
<line x1="1081.29" y1="726.5" x2="1081.29" y2="758.2" stroke="#0000ff" stroke-width="2"/>
<line x1="1101.86" y1="726.5" x2="1101.86" y2="758.2" stroke="#0000ff" stroke-width="2"/>
<line x1="1122.43" y1="726.5" x2="1122.43" y2="758.2" stroke="#0000ff" stroke-width="2"/>
<line x1="1143" y1="726.5" x2="1143" y2="758.2" stroke="#0000ff" stroke-width="2"/>
<line x1="1163.56" y1="726.5" x2="1163.56" y2="758.2" stroke="#0000ff" stroke-width="2"/>
<line x1="1184.13" y1="726.5" x2="1184.13" y2="758.2" stroke="#0000ff" stroke-width="2"/>
<line x1="1204.7" y1="726.5" x2="1204.7" y2="758.2" stroke="#0000ff" stroke-width="2"/>
<line x1="1225.27" y1="726.5" x2="1225.27" y2="758.2" stroke="#0000ff" stroke-width="2"/>
<line x1="1245.84" y1="726.5" x2="1245.84" y2="758.2" stroke="#0000ff" stroke-width="2"/>
<line x1="1266.4" y1="726.5" x2="1266.4" y2="758.2" stroke="#0000ff" stroke-width="2"/>
<line x1="1286.97" y1="726.5" x2="1286.97" y2="758.2" stroke="#0000ff" stroke-width="2"/>
<line x1="1307.54" y1="726.5" x2="1307.54" y2="758.2" stroke="#0000ff" stroke-width="2"/>
<line x1="1328.11" y1="726.5" x2="1328.11" y2="758.2" stroke="#0000ff" stroke-width="2"/>
<line x1="1348.68" y1="726.5" x2="1348.68" y2="758.2" stroke="#0000ff" stroke-width="2"/>
<line x1="1369.24" y1="726.5" x2="1369.24" y2="758.2" stroke="#0000ff" stroke-width="2"/>
<line x1="1389.81" y1="726.5" x2="1389.81" y2="758.2" stroke="#0000ff" stroke-width="2"/>
<line x1="1410.38" y1="726.5" x2="1410.38" y2="758.2" stroke="#0000ff" stroke-width="2"/>
<line x1="1430.95" y1="726.5" x2="1430.95" y2="758.2" stroke="#0000ff" stroke-width="2"/>
<line x1="1451.52" y1="726.5" x2="1451.52" y2="758.2" stroke="#0000ff" stroke-width="2"/>
<text transform="translate(920.6 713.8) scale(1 1.045)" text-anchor="end" fill="#ff0000">Optical</text>
<text transform="translate(920.6 757.8) scale(1 1.045)" text-anchor="end" fill="#0000ff">Electrical</text>
<line x1="927.7" y1="1119.9" x2="918.7" y2="1119.9" stroke="#000" stroke-width="1.6"/>
<line x1="927.7" y1="1104.72" x2="923.5" y2="1104.72" stroke="#000" stroke-width="1.6"/>
<line x1="927.7" y1="1095.84" x2="923.5" y2="1095.84" stroke="#000" stroke-width="1.6"/>
<line x1="927.7" y1="1089.54" x2="923.5" y2="1089.54" stroke="#000" stroke-width="1.6"/>
<line x1="927.7" y1="1084.65" x2="923.5" y2="1084.65" stroke="#000" stroke-width="1.6"/>
<line x1="927.7" y1="1080.66" x2="923.5" y2="1080.66" stroke="#000" stroke-width="1.6"/>
<line x1="927.7" y1="1077.28" x2="923.5" y2="1077.28" stroke="#000" stroke-width="1.6"/>
<line x1="927.7" y1="1074.36" x2="923.5" y2="1074.36" stroke="#000" stroke-width="1.6"/>
<line x1="927.7" y1="1071.78" x2="923.5" y2="1071.78" stroke="#000" stroke-width="1.6"/>
<line x1="927.7" y1="1069.47" x2="918.7" y2="1069.47" stroke="#000" stroke-width="1.6"/>
<line x1="927.7" y1="1054.29" x2="923.5" y2="1054.29" stroke="#000" stroke-width="1.6"/>
<line x1="927.7" y1="1045.41" x2="923.5" y2="1045.41" stroke="#000" stroke-width="1.6"/>
<line x1="927.7" y1="1039.11" x2="923.5" y2="1039.11" stroke="#000" stroke-width="1.6"/>
<line x1="927.7" y1="1034.22" x2="923.5" y2="1034.22" stroke="#000" stroke-width="1.6"/>
<line x1="927.7" y1="1030.23" x2="923.5" y2="1030.23" stroke="#000" stroke-width="1.6"/>
<line x1="927.7" y1="1026.85" x2="923.5" y2="1026.85" stroke="#000" stroke-width="1.6"/>
<line x1="927.7" y1="1023.93" x2="923.5" y2="1023.93" stroke="#000" stroke-width="1.6"/>
<line x1="927.7" y1="1021.35" x2="923.5" y2="1021.35" stroke="#000" stroke-width="1.6"/>
<line x1="927.7" y1="1019.04" x2="918.7" y2="1019.04" stroke="#000" stroke-width="1.6"/>
<line x1="927.7" y1="1003.86" x2="923.5" y2="1003.86" stroke="#000" stroke-width="1.6"/>
<line x1="927.7" y1="994.98" x2="923.5" y2="994.98" stroke="#000" stroke-width="1.6"/>
<line x1="927.7" y1="988.68" x2="923.5" y2="988.68" stroke="#000" stroke-width="1.6"/>
<line x1="927.7" y1="983.79" x2="923.5" y2="983.79" stroke="#000" stroke-width="1.6"/>
<line x1="927.7" y1="979.8" x2="923.5" y2="979.8" stroke="#000" stroke-width="1.6"/>
<line x1="927.7" y1="976.42" x2="923.5" y2="976.42" stroke="#000" stroke-width="1.6"/>
<line x1="927.7" y1="973.5" x2="923.5" y2="973.5" stroke="#000" stroke-width="1.6"/>
<line x1="927.7" y1="970.92" x2="923.5" y2="970.92" stroke="#000" stroke-width="1.6"/>
<line x1="927.7" y1="968.61" x2="918.7" y2="968.61" stroke="#000" stroke-width="1.6"/>
<line x1="927.7" y1="953.43" x2="923.5" y2="953.43" stroke="#000" stroke-width="1.6"/>
<line x1="927.7" y1="944.55" x2="923.5" y2="944.55" stroke="#000" stroke-width="1.6"/>
<line x1="927.7" y1="938.25" x2="923.5" y2="938.25" stroke="#000" stroke-width="1.6"/>
<line x1="927.7" y1="933.36" x2="923.5" y2="933.36" stroke="#000" stroke-width="1.6"/>
<line x1="927.7" y1="929.37" x2="923.5" y2="929.37" stroke="#000" stroke-width="1.6"/>
<line x1="927.7" y1="925.99" x2="923.5" y2="925.99" stroke="#000" stroke-width="1.6"/>
<line x1="927.7" y1="923.07" x2="923.5" y2="923.07" stroke="#000" stroke-width="1.6"/>
<line x1="927.7" y1="920.49" x2="923.5" y2="920.49" stroke="#000" stroke-width="1.6"/>
<line x1="927.7" y1="918.18" x2="918.7" y2="918.18" stroke="#000" stroke-width="1.6"/>
<line x1="927.7" y1="903" x2="923.5" y2="903" stroke="#000" stroke-width="1.6"/>
<line x1="927.7" y1="894.12" x2="923.5" y2="894.12" stroke="#000" stroke-width="1.6"/>
<line x1="927.7" y1="887.82" x2="923.5" y2="887.82" stroke="#000" stroke-width="1.6"/>
<line x1="927.7" y1="882.93" x2="923.5" y2="882.93" stroke="#000" stroke-width="1.6"/>
<line x1="927.7" y1="878.94" x2="923.5" y2="878.94" stroke="#000" stroke-width="1.6"/>
<line x1="927.7" y1="875.56" x2="923.5" y2="875.56" stroke="#000" stroke-width="1.6"/>
<line x1="927.7" y1="872.64" x2="923.5" y2="872.64" stroke="#000" stroke-width="1.6"/>
<line x1="927.7" y1="870.06" x2="923.5" y2="870.06" stroke="#000" stroke-width="1.6"/>
<line x1="927.7" y1="867.75" x2="918.7" y2="867.75" stroke="#000" stroke-width="1.6"/>
<line x1="927.7" y1="852.57" x2="923.5" y2="852.57" stroke="#000" stroke-width="1.6"/>
<line x1="927.7" y1="843.69" x2="923.5" y2="843.69" stroke="#000" stroke-width="1.6"/>
<line x1="927.7" y1="837.39" x2="923.5" y2="837.39" stroke="#000" stroke-width="1.6"/>
<line x1="927.7" y1="832.5" x2="923.5" y2="832.5" stroke="#000" stroke-width="1.6"/>
<line x1="927.7" y1="828.51" x2="923.5" y2="828.51" stroke="#000" stroke-width="1.6"/>
<line x1="927.7" y1="825.13" x2="923.5" y2="825.13" stroke="#000" stroke-width="1.6"/>
<line x1="927.7" y1="822.21" x2="923.5" y2="822.21" stroke="#000" stroke-width="1.6"/>
<line x1="927.7" y1="819.63" x2="923.5" y2="819.63" stroke="#000" stroke-width="1.6"/>
<line x1="927.7" y1="817.32" x2="918.7" y2="817.32" stroke="#000" stroke-width="1.6"/>
<line x1="927.7" y1="802.14" x2="923.5" y2="802.14" stroke="#000" stroke-width="1.6"/>
<line x1="927.7" y1="793.26" x2="923.5" y2="793.26" stroke="#000" stroke-width="1.6"/>
<line x1="927.7" y1="786.96" x2="923.5" y2="786.96" stroke="#000" stroke-width="1.6"/>
<line x1="927.7" y1="782.07" x2="923.5" y2="782.07" stroke="#000" stroke-width="1.6"/>
<line x1="927.7" y1="778.08" x2="923.5" y2="778.08" stroke="#000" stroke-width="1.6"/>
<line x1="927.7" y1="774.7" x2="923.5" y2="774.7" stroke="#000" stroke-width="1.6"/>
<line x1="927.7" y1="771.78" x2="923.5" y2="771.78" stroke="#000" stroke-width="1.6"/>
<line x1="927.7" y1="1119.9" x2="1470.7" y2="1119.9" stroke="#000" stroke-width="1.85"/>
<line x1="927.7" y1="1119.9" x2="927.7" y2="1128.9" stroke="#000" stroke-width="1.85"/>
<line x1="979.12" y1="1119.9" x2="979.12" y2="1124.9" stroke="#000" stroke-width="1.85"/>
<line x1="1030.54" y1="1119.9" x2="1030.54" y2="1128.9" stroke="#000" stroke-width="1.85"/>
<line x1="1081.96" y1="1119.9" x2="1081.96" y2="1124.9" stroke="#000" stroke-width="1.85"/>
<line x1="1133.38" y1="1119.9" x2="1133.38" y2="1128.9" stroke="#000" stroke-width="1.85"/>
<line x1="1184.8" y1="1119.9" x2="1184.8" y2="1124.9" stroke="#000" stroke-width="1.85"/>
<line x1="1236.22" y1="1119.9" x2="1236.22" y2="1128.9" stroke="#000" stroke-width="1.85"/>
<line x1="1287.64" y1="1119.9" x2="1287.64" y2="1124.9" stroke="#000" stroke-width="1.85"/>
<line x1="1339.06" y1="1119.9" x2="1339.06" y2="1128.9" stroke="#000" stroke-width="1.85"/>
<line x1="1390.48" y1="1119.9" x2="1390.48" y2="1124.9" stroke="#000" stroke-width="1.85"/>
<line x1="1441.9" y1="1119.9" x2="1441.9" y2="1128.9" stroke="#000" stroke-width="1.85"/>
<text transform="translate(857.33 828.52) scale(1 1.045)">10</text>
<text transform="translate(894.04 814.92) scale(1 1.045)" font-size="22">-6</text>
<text transform="translate(857.33 929.38) scale(1 1.045)">10</text>
<text transform="translate(894.04 915.78) scale(1 1.045)" font-size="22">-8</text>
<text transform="translate(845.1 1030.24) scale(1 1.045)">10</text>
<text transform="translate(881.8 1016.64) scale(1 1.045)" font-size="22">-10</text>
<text transform="translate(845.1 1131.1) scale(1 1.045)">10</text>
<text transform="translate(881.8 1117.5) scale(1 1.045)" font-size="22">-12</text>
<text transform="translate(927.7 1160.8) scale(1 1.045)" text-anchor="middle">0</text>
<text transform="translate(1030.54 1160.8) scale(1 1.045)" text-anchor="middle">200</text>
<text transform="translate(1133.38 1160.8) scale(1 1.045)" text-anchor="middle">400</text>
<text transform="translate(1236.22 1160.8) scale(1 1.045)" text-anchor="middle">600</text>
<text transform="translate(1339.06 1160.8) scale(1 1.045)" text-anchor="middle">800</text>
<text transform="translate(1441.9 1160.8) scale(1 1.045)" text-anchor="middle">1000</text>
<text transform="translate(1199.7 1213.8) scale(1 1.045)" text-anchor="middle">Time (s)</text>
<text transform="translate(841.2 979) rotate(-90) scale(1 1.045)"><tspan font-style="italic">I</tspan><tspan font-size="23" dy="9.2">DS</tspan><tspan dy="-9.2"> (A)</tspan></text>
<polyline points="927.7,798.2 937.32,797.3 937.92,815.3 938.22,1080.5 938.44,1084.01 938.67,1082.14 938.9,1085.48 939.13,1082.39 939.36,1085.62 939.58,1083.75 939.81,1084.67 940.04,1084.66 940.27,1085.09 940.5,1084.93 940.73,1085.68 940.95,1084.38 941.18,1087.23 941.41,1087.08 941.64,1086.81 941.87,1085.75 942.09,1088.8 942.32,1088.41 942.55,1089.14 942.78,1087.24 943.01,1090.82 943.24,1086.67 943.46,1090.95 943.69,1087.89 943.92,1089.3 944.15,1087.86 944.38,1090.27 944.6,1090.44 944.83,1090.37 945.06,1090.22 945.29,1092.23 945.52,1090.08 945.75,1092.45 945.97,1089.63 946.2,1091.47 946.43,1090.55 946.66,1093.81 946.89,1091.7 947.11,1093.2 947.34,1092.66 947.34,804.37 947.84,801.97 948.64,800.37 949.74,799.37 951.34,798.82 953.34,798.52 957.88,797.77 958.48,815.77 958.78,1080.5 959.01,1084.61 959.24,1082.81 959.47,1086.14 959.7,1084.51 959.92,1085 960.15,1084.65 960.38,1086.35 960.61,1086.06 960.84,1087.47 961.07,1084.8 961.29,1088.73 961.52,1084.8 961.75,1087.56 961.98,1087.23 962.21,1087.26 962.43,1086.93 962.66,1087.43 962.89,1087.98 963.12,1090.12 963.35,1088.2 963.58,1090.96 963.8,1087.93 964.03,1090.93 964.26,1089.28 964.49,1091.09 964.72,1089.37 964.94,1092.38 965.17,1091.34 965.4,1091.79 965.63,1091.01 965.86,1091.05 966.09,1091.63 966.31,1093.32 966.54,1093.01 966.77,1094.35 967,1091.4 967.23,1093.55 967.45,1093.06 967.68,1092.46 967.91,1091.79 967.91,804.54 968.41,802.14 969.21,800.54 970.31,799.54 971.91,798.99 973.91,798.69 978.45,797.94 979.05,815.94 979.35,1080.5 979.58,1083.97 979.81,1082.48 980.04,1084.18 980.26,1084.97 980.49,1084.92 980.72,1083.94 980.95,1086.24 981.18,1086.35 981.41,1085.84 981.63,1085.61 981.86,1087.78 982.09,1087.45 982.32,1089.12 982.55,1087.92 982.77,1088.03 983,1087.11 983.23,1088.81 983.46,1089.05 983.69,1091.14 983.91,1087.38 984.14,1089.32 984.37,1088.16 984.6,1090.03 984.83,1089.45 985.06,1091.63 985.28,1089.32 985.51,1090.41 985.74,1090.32 985.97,1092.04 986.2,1091.29 986.42,1094.32 986.65,1092.2 986.88,1093.54 987.11,1092.51 987.34,1094.56 987.57,1091.36 987.79,1095.37 988.02,1093.02 988.25,1094.51 988.48,1092.29 988.48,804.71 988.98,802.31 989.78,800.71 990.88,799.71 992.48,799.16 994.48,798.86 999.02,798.11 999.62,816.11 999.92,1080.5 1000.15,1084.86 1000.38,1083.56 1000.6,1084.55 1000.83,1084.82 1001.06,1084.99 1001.29,1083.68 1001.52,1085.99 1001.74,1084.53 1001.97,1086.94 1002.2,1084.76 1002.43,1086.48 1002.66,1085.62 1002.89,1087.35 1003.11,1086.82 1003.34,1087.68 1003.57,1088.91 1003.8,1090.01 1004.03,1087.29 1004.25,1089.48 1004.48,1088.45 1004.71,1090.38 1004.94,1088.34 1005.17,1092.39 1005.4,1091.51 1005.62,1091.81 1005.85,1090.54 1006.08,1091.23 1006.31,1089.96 1006.54,1092.56 1006.76,1091 1006.99,1094.58 1007.22,1091.26 1007.45,1092.72 1007.68,1094.18 1007.91,1094.53 1008.13,1091.4 1008.36,1093.8 1008.59,1090.26 1008.82,1092.97 1009.05,1092.34 1009.05,804.88 1009.55,802.48 1010.35,800.88 1011.45,799.88 1013.05,799.33 1015.05,799.03 1019.59,798.28 1020.19,816.28 1020.49,1080.5 1020.72,1086.49 1020.94,1084.68 1021.17,1085.27 1021.4,1084.28 1021.63,1085.58 1021.86,1086.09 1022.08,1087.27 1022.31,1086.7 1022.54,1087.25 1022.77,1085.63 1023,1089.29 1023.23,1088.5 1023.45,1090 1023.68,1088.56 1023.91,1090.49 1024.14,1088.95 1024.37,1089.31 1024.59,1088.88 1024.82,1090.29 1025.05,1088 1025.28,1089.89 1025.51,1089.34 1025.74,1091.18 1025.96,1091.18 1026.19,1093.86 1026.42,1091.03 1026.65,1094.4 1026.88,1093.24 1027.1,1095.04 1027.33,1091.97 1027.56,1093.43 1027.79,1092.14 1028.02,1093.81 1028.25,1091.85 1028.47,1094.32 1028.7,1093.16 1028.93,1094.19 1029.16,1091.12 1029.39,1092.85 1029.61,1091.3 1029.61,805.05 1030.11,802.65 1030.91,801.05 1032.01,800.05 1033.61,799.5 1035.61,799.2 1040.16,798.45 1040.76,816.45 1041.06,1080.5 1041.28,1084.37 1041.51,1084.81 1041.74,1087.47 1041.97,1085.8 1042.2,1087.61 1042.42,1085.51 1042.65,1086.53 1042.88,1087.07 1043.11,1087.61 1043.34,1087.73 1043.57,1090.16 1043.79,1087.14 1044.02,1089.07 1044.25,1089.42 1044.48,1090.67 1044.71,1087.72 1044.93,1089.5 1045.16,1088.29 1045.39,1092.46 1045.62,1090.88 1045.85,1090.81 1046.08,1091.56 1046.3,1093.94 1046.53,1091.68 1046.76,1092.67 1046.99,1091.98 1047.22,1092.64 1047.44,1091 1047.67,1095.79 1047.9,1093.54 1048.13,1095.08 1048.36,1094.31 1048.59,1094.02 1048.81,1093.35 1049.04,1094.42 1049.27,1090.59 1049.5,1091.92 1049.73,1090.06 1049.95,1091.11 1050.18,1090.16 1050.18,805.22 1050.68,802.82 1051.48,801.22 1052.58,800.22 1054.18,799.67 1056.18,799.37 1060.72,798.62 1061.32,816.62 1061.62,1080.5 1061.85,1085.11 1062.08,1084.32 1062.31,1085.39 1062.54,1086.46 1062.76,1086.72 1062.99,1085.77 1063.22,1088.08 1063.45,1087.77 1063.68,1088.25 1063.91,1088.48 1064.13,1089.16 1064.36,1087.98 1064.59,1089.89 1064.82,1087.11 1065.05,1090.3 1065.27,1088.26 1065.5,1089.66 1065.73,1090.78 1065.96,1090.83 1066.19,1090.46 1066.42,1093.15 1066.64,1091.38 1066.87,1092.62 1067.1,1091.93 1067.33,1093.97 1067.56,1093.39 1067.78,1093.29 1068.01,1093.38 1068.24,1094.38 1068.47,1092.62 1068.7,1095.32 1068.93,1092.53 1069.15,1093.91 1069.38,1092.51 1069.61,1094.18 1069.84,1090.79 1070.07,1092.5 1070.29,1090.19 1070.52,1091.43 1070.75,1089.98 1070.75,805.39 1071.25,802.99 1072.05,801.39 1073.15,800.39 1074.75,799.84 1076.75,799.54 1081.29,798.79 1081.89,816.79 1082.19,1080.5 1082.42,1085.91 1082.65,1084.91 1082.88,1086.7 1083.1,1086.84 1083.33,1088.07 1083.56,1087.35 1083.79,1089.5 1084.02,1086.21 1084.25,1089.06 1084.47,1088.97 1084.7,1090.61 1084.93,1087.26 1085.16,1089.17 1085.39,1088.88 1085.61,1089.73 1085.84,1088.99 1086.07,1090.44 1086.3,1090.98 1086.53,1093.28 1086.75,1092.37 1086.98,1092.1 1087.21,1092.54 1087.44,1094.32 1087.67,1091.53 1087.9,1095.7 1088.12,1094.71 1088.35,1094.42 1088.58,1094.92 1088.81,1094.47 1089.04,1092.75 1089.26,1095.47 1089.49,1093.01 1089.72,1092.21 1089.95,1091.03 1090.18,1092.49 1090.41,1089.97 1090.63,1090.75 1090.86,1089.13 1091.09,1091.56 1091.32,1087.46 1091.32,805.56 1091.82,803.16 1092.62,801.56 1093.72,800.56 1095.32,800.01 1097.32,799.71 1101.86,798.96 1102.46,816.96 1102.76,1080.5 1102.99,1086.44 1103.22,1084.88 1103.44,1085.59 1103.67,1085.31 1103.9,1088.17 1104.13,1086.61 1104.36,1087.25 1104.58,1088.79 1104.81,1090.18 1105.04,1089.5 1105.27,1088.88 1105.5,1088.14 1105.73,1089.44 1105.95,1090.44 1106.18,1090.89 1106.41,1089.25 1106.64,1092.11 1106.87,1092.35 1107.09,1094.06 1107.32,1091.15 1107.55,1092.81 1107.78,1093.89 1108.01,1094.83 1108.24,1094 1108.46,1094.14 1108.69,1092.52 1108.92,1095.62 1109.15,1092.84 1109.38,1093 1109.6,1093.6 1109.83,1093.9 1110.06,1092.42 1110.29,1091.47 1110.52,1091.8 1110.75,1090.64 1110.97,1091.04 1111.2,1091.03 1111.43,1088.7 1111.66,1090.55 1111.89,1089.68 1111.89,805.73 1112.39,803.33 1113.19,801.73 1114.29,800.73 1115.89,800.18 1117.89,799.88 1122.43,799.13 1123.03,817.13 1123.33,1080.5 1123.56,1085.81 1123.78,1084.2 1124.01,1087.4 1124.24,1085.35 1124.47,1086.97 1124.7,1085.93 1124.92,1087.6 1125.15,1086.87 1125.38,1089.2 1125.61,1087.99 1125.84,1091.36 1126.07,1088.76 1126.29,1091.4 1126.52,1089.24 1126.75,1091.75 1126.98,1089.58 1127.21,1092.28 1127.43,1090.38 1127.66,1094.54 1127.89,1092.8 1128.12,1093.73 1128.35,1093.39 1128.58,1096.78 1128.8,1092.94 1129.03,1096.29 1129.26,1093.14 1129.49,1094.54 1129.72,1093.57 1129.94,1093.46 1130.17,1091.81 1130.4,1093.56 1130.63,1092.46 1130.86,1091.75 1131.09,1091.23 1131.31,1092.06 1131.54,1089.86 1131.77,1090.38 1132,1088.22 1132.23,1088.55 1132.45,1086.79 1132.45,805.9 1132.95,803.5 1133.75,801.9 1134.85,800.9 1136.45,800.35 1138.45,800.05 1143,799.3 1143.6,817.3 1143.9,1080.5 1144.12,1085.45 1144.35,1086.3 1144.58,1086.89 1144.81,1085.45 1145.04,1087.26 1145.26,1088.37 1145.49,1090.5 1145.72,1088.74 1145.95,1089.61 1146.18,1088.34 1146.41,1090.53 1146.63,1089.87 1146.86,1091 1147.09,1090.71 1147.32,1092.2 1147.55,1093.14 1147.77,1095.21 1148,1092.78 1148.23,1093.91 1148.46,1094.92 1148.69,1094.99 1148.92,1093.97 1149.14,1094.11 1149.37,1093.27 1149.6,1094.76 1149.83,1092.85 1150.06,1093.16 1150.28,1092.08 1150.51,1091.79 1150.74,1090.58 1150.97,1091.27 1151.2,1090.21 1151.43,1090.35 1151.65,1088.3 1151.88,1090.36 1152.11,1088.15 1152.34,1090.42 1152.57,1088.27 1152.79,1090.14 1153.02,1087.87 1153.02,806.07 1153.52,803.67 1154.32,802.07 1155.42,801.07 1157.02,800.52 1159.02,800.22 1163.56,799.47 1164.16,817.47 1164.46,1080.5 1164.69,1087.39 1164.92,1086.72 1165.15,1087.29 1165.38,1085.94 1165.6,1089.96 1165.83,1086.29 1166.06,1090.06 1166.29,1088.66 1166.52,1088.9 1166.75,1090.11 1166.97,1092.33 1167.2,1090.37 1167.43,1092.73 1167.66,1091.81 1167.89,1091.83 1168.11,1091.83 1168.34,1093.81 1168.57,1093.64 1168.8,1095.59 1169.03,1094.5 1169.26,1095.81 1169.48,1095.58 1169.71,1096.16 1169.94,1094.2 1170.17,1094.02 1170.4,1091.44 1170.62,1092.95 1170.85,1091.65 1171.08,1092.09 1171.31,1092.3 1171.54,1092.68 1171.77,1090.89 1171.99,1092.1 1172.22,1090.28 1172.45,1090.91 1172.68,1087.47 1172.91,1091.06 1173.13,1088.92 1173.36,1089.4 1173.59,1087.51 1173.59,806.24 1174.09,803.84 1174.89,802.24 1175.99,801.24 1177.59,800.69 1179.59,800.39 1184.13,799.64 1184.73,817.64 1185.03,1080.5 1185.26,1087.22 1185.49,1084.28 1185.72,1088.33 1185.94,1085.72 1186.17,1087.23 1186.4,1086.64 1186.63,1090.07 1186.86,1087.34 1187.09,1090.99 1187.31,1090.54 1187.54,1091.13 1187.77,1089.64 1188,1091.97 1188.23,1091.42 1188.45,1093.71 1188.68,1092.11 1188.91,1094.22 1189.14,1091.37 1189.37,1093.62 1189.59,1092.78 1189.82,1096.29 1190.05,1093.81 1190.28,1095.81 1190.51,1092.16 1190.74,1093.52 1190.96,1092.15 1191.19,1094.57 1191.42,1092.64 1191.65,1093.8 1191.88,1090.66 1192.1,1092.55 1192.33,1090.41 1192.56,1091.62 1192.79,1088.59 1193.02,1092.13 1193.25,1088.05 1193.47,1091.6 1193.7,1089.49 1193.93,1087.94 1194.16,1087.28 1194.16,806.41 1194.66,804.01 1195.46,802.41 1196.56,801.41 1198.16,800.86 1200.16,800.56 1204.7,799.81 1205.3,817.81 1205.6,1080.5 1205.83,1087.7 1206.06,1086.99 1206.28,1087.47 1206.51,1085.77 1206.74,1087.63 1206.97,1088.68 1207.2,1088.52 1207.42,1088.47 1207.65,1089.19 1207.88,1089.18 1208.11,1092.51 1208.34,1088.89 1208.57,1092.99 1208.79,1090.9 1209.02,1094.07 1209.25,1092.36 1209.48,1092.99 1209.71,1093.83 1209.93,1094.64 1210.16,1092.09 1210.39,1094.07 1210.62,1094.38 1210.85,1095.46 1211.08,1093.03 1211.3,1093.76 1211.53,1092.38 1211.76,1093.5 1211.99,1093.09 1212.22,1091.78 1212.44,1092.04 1212.67,1093.52 1212.9,1089.37 1213.13,1093 1213.36,1090.37 1213.59,1092.15 1213.81,1088.33 1214.04,1089.78 1214.27,1087.86 1214.5,1090.89 1214.73,1087.67 1214.73,806.58 1215.23,804.18 1216.03,802.58 1217.13,801.58 1218.73,801.03 1220.73,800.73 1225.27,799.98 1225.87,817.98 1226.17,1080.5 1226.4,1086.32 1226.62,1085.37 1226.85,1086.95 1227.08,1085.11 1227.31,1087.31 1227.54,1088.35 1227.76,1088.74 1227.99,1089.53 1228.22,1089.52 1228.45,1088.41 1228.68,1091.18 1228.91,1089.06 1229.13,1091.65 1229.36,1092.24 1229.59,1094.07 1229.82,1092.69 1230.05,1094.19 1230.27,1093.88 1230.5,1096 1230.73,1093.67 1230.96,1096.22 1231.19,1093.05 1231.42,1096.31 1231.64,1093.47 1231.87,1095.59 1232.1,1093.28 1232.33,1093.41 1232.56,1090.71 1232.78,1094.56 1233.01,1090.17 1233.24,1092.42 1233.47,1090.04 1233.7,1091.12 1233.93,1090.45 1234.15,1092.37 1234.38,1088.24 1234.61,1090.63 1234.84,1087.58 1235.07,1089.56 1235.29,1087.08 1235.29,806.75 1235.79,804.35 1236.59,802.75 1237.69,801.75 1239.29,801.2 1241.29,800.9 1245.84,800.15 1246.44,818.15 1246.74,1080.5 1246.96,1085.74 1247.19,1084.57 1247.42,1086.75 1247.65,1087.68 1247.88,1088.5 1248.1,1086.51 1248.33,1090.61 1248.56,1089.72 1248.79,1090.12 1249.02,1088.03 1249.25,1090.23 1249.47,1088.76 1249.7,1091.56 1249.93,1089.65 1250.16,1092.13 1250.39,1091.03 1250.61,1094 1250.84,1093.8 1251.07,1095.43 1251.3,1093.26 1251.53,1095.3 1251.76,1094.47 1251.98,1095.24 1252.21,1093.14 1252.44,1093.52 1252.67,1092.18 1252.9,1095.46 1253.12,1090.94 1253.35,1093.29 1253.58,1091.68 1253.81,1093.59 1254.04,1089.66 1254.27,1091.04 1254.49,1088.98 1254.72,1090.64 1254.95,1088.79 1255.18,1091.53 1255.41,1089.22 1255.63,1090.51 1255.86,1085.97 1255.86,806.92 1256.36,804.52 1257.16,802.92 1258.26,801.92 1259.86,801.37 1261.86,801.07 1266.4,800.32 1267,818.32 1267.3,1080.5 1267.53,1085.34 1267.76,1086.21 1267.99,1088.81 1268.22,1086.38 1268.44,1088.77 1268.67,1085.85 1268.9,1089.06 1269.13,1089.51 1269.36,1091.24 1269.59,1090.18 1269.81,1092.57 1270.04,1089.24 1270.27,1090.86 1270.5,1089.84 1270.73,1092.98 1270.95,1092.3 1271.18,1095.12 1271.41,1093.3 1271.64,1095.12 1271.87,1094.31 1272.1,1095.43 1272.32,1094.55 1272.55,1094.23 1272.78,1094.47 1273.01,1094.03 1273.24,1094.1 1273.46,1094.49 1273.69,1091.48 1273.92,1092.16 1274.15,1090.54 1274.38,1092.91 1274.61,1091.11 1274.83,1090.56 1275.06,1088.44 1275.29,1091.02 1275.52,1089.2 1275.75,1089.83 1275.97,1087.35 1276.2,1089.69 1276.43,1085.93 1276.43,807.09 1276.93,804.69 1277.73,803.09 1278.83,802.09 1280.43,801.54 1282.43,801.24 1286.97,800.49 1287.57,818.49 1287.87,1080.5 1288.1,1086.15 1288.33,1085.46 1288.56,1089 1288.78,1086.9 1289.01,1089.66 1289.24,1087.27 1289.47,1088.59 1289.7,1087.47 1289.93,1091.65 1290.15,1089.72 1290.38,1090.57 1290.61,1088.56 1290.84,1092.03 1291.07,1091.4 1291.29,1092.67 1291.52,1091.03 1291.75,1094.3 1291.98,1093.91 1292.21,1093.86 1292.43,1092.12 1292.66,1095.07 1292.89,1094.16 1293.12,1096.16 1293.35,1092.72 1293.58,1095.72 1293.8,1093.56 1294.03,1094.07 1294.26,1091.18 1294.49,1094.69 1294.72,1090.72 1294.94,1093.46 1295.17,1089.7 1295.4,1090.89 1295.63,1090.51 1295.86,1090.33 1296.09,1090.31 1296.31,1090.15 1296.54,1087.24 1296.77,1088.56 1297,1087.15 1297,807.26 1297.5,804.86 1298.3,803.26 1299.4,802.26 1301,801.71 1303,801.41 1307.54,800.66 1308.14,818.66 1308.44,1080.5 1308.67,1087.24 1308.9,1086.93 1309.12,1086.56 1309.35,1086.14 1309.58,1087.64 1309.81,1088.77 1310.04,1088.31 1310.26,1086.88 1310.49,1088.95 1310.72,1088.79 1310.95,1092.34 1311.18,1091.14 1311.41,1092.73 1311.63,1092.37 1311.86,1094.21 1312.09,1091.24 1312.32,1092.85 1312.55,1093.94 1312.77,1095.42 1313,1092.11 1313.23,1096.05 1313.46,1094.04 1313.69,1095.23 1313.92,1093.12 1314.14,1093.84 1314.37,1091.35 1314.6,1093.39 1314.83,1091.62 1315.06,1094.64 1315.28,1090.16 1315.51,1093.89 1315.74,1089.63 1315.97,1091.29 1316.2,1090.7 1316.43,1091.91 1316.65,1088.75 1316.88,1088.81 1317.11,1088.1 1317.34,1089.01 1317.57,1088.66 1317.57,807.43 1318.07,805.03 1318.87,803.43 1319.97,802.43 1321.57,801.88 1323.57,801.58 1328.11,800.83 1328.71,818.83 1329.01,1080.5 1329.24,1085.82 1329.46,1085.17 1329.69,1088.81 1329.92,1085.05 1330.15,1088.24 1330.38,1088.28 1330.6,1090.19 1330.83,1086.85 1331.06,1088.87 1331.29,1087.8 1331.52,1092.41 1331.75,1089.26 1331.97,1092.77 1332.2,1092.07 1332.43,1092.43 1332.66,1091.07 1332.89,1095.17 1333.11,1092.99 1333.34,1093.96 1333.57,1094.17 1333.8,1095.01 1334.03,1093.73 1334.26,1094.12 1334.48,1094.39 1334.71,1096.08 1334.94,1093.25 1335.17,1095.39 1335.4,1090.64 1335.62,1092.48 1335.85,1091.21 1336.08,1093.87 1336.31,1091.87 1336.54,1091.38 1336.77,1088.99 1336.99,1090.73 1337.22,1088.94 1337.45,1091.45 1337.68,1087.23 1337.91,1090.3 1338.13,1088.12 1338.13,807.6 1338.63,805.2 1339.43,803.6 1340.53,802.6 1342.13,802.05 1344.13,801.75 1348.68,801 1349.28,819 1349.58,1080.5 1349.8,1087.71 1350.03,1086.4 1350.26,1087.94 1350.49,1085.95 1350.72,1087.96 1350.94,1086.93 1351.17,1090.23 1351.4,1086.96 1351.63,1089.36 1351.86,1089.87 1352.09,1090.39 1352.31,1088.69 1352.54,1090.63 1352.77,1091.03 1353,1092.39 1353.23,1093.2 1353.45,1094.95 1353.68,1094.1 1353.91,1093.97 1354.14,1092.27 1354.37,1094.35 1354.6,1094.4 1354.82,1096.24 1355.05,1093.46 1355.28,1094.04 1355.51,1092.59 1355.74,1094.42 1355.96,1092.59 1356.19,1094.02 1356.42,1092.33 1356.65,1092.99 1356.88,1089.37 1357.11,1092.74 1357.33,1089.11 1357.56,1091.15 1357.79,1088.57 1358.02,1090.88 1358.25,1087.28 1358.47,1088.63 1358.7,1086.64 1358.7,807.77 1359.2,805.37 1360,803.77 1361.1,802.77 1362.7,802.22 1364.7,801.92 1369.24,801.17 1369.84,819.17 1370.14,1080.5 1370.37,1085.7 1370.6,1086.73 1370.83,1087.86 1371.06,1085.94 1371.28,1088.19 1371.51,1088.82 1371.74,1089.41 1371.97,1087.42 1372.2,1091.19 1372.43,1089.57 1372.65,1092.62 1372.88,1088.8 1373.11,1091.96 1373.34,1091.83 1373.57,1093.94 1373.79,1093 1374.02,1092.42 1374.25,1092.02 1374.48,1093.53 1374.71,1092.59 1374.94,1096.98 1375.16,1094.65 1375.39,1096.9 1375.62,1093.24 1375.85,1095.93 1376.08,1092.69 1376.3,1093.34 1376.53,1092.9 1376.76,1094.61 1376.99,1090.11 1377.22,1092.79 1377.45,1090.87 1377.67,1090.88 1377.9,1089.34 1378.13,1089.87 1378.36,1088.07 1378.59,1089.43 1378.81,1088.48 1379.04,1089.84 1379.27,1086.51 1379.27,807.94 1379.77,805.54 1380.57,803.94 1381.67,802.94 1383.27,802.39 1385.27,802.09 1389.81,801.34 1390.41,819.34 1390.71,1080.5 1390.94,1085.28 1391.17,1085.06 1391.4,1088.16 1391.62,1085.52 1391.85,1087.94 1392.08,1086.46 1392.31,1090.27 1392.54,1088.37 1392.77,1088.96 1392.99,1087.91 1393.22,1090.84 1393.45,1090.14 1393.68,1092.45 1393.91,1089.65 1394.13,1091.9 1394.36,1092.34 1394.59,1093.52 1394.82,1091.99 1395.05,1094.1 1395.27,1094.88 1395.5,1095 1395.73,1094.6 1395.96,1095.18 1396.19,1093.37 1396.42,1095.93 1396.64,1094.33 1396.87,1093.65 1397.1,1091.16 1397.33,1093.96 1397.56,1090.4 1397.78,1091.02 1398.01,1091.72 1398.24,1091.49 1398.47,1090.69 1398.7,1090.66 1398.93,1090.1 1399.15,1090.05 1399.38,1087.17 1399.61,1087.93 1399.84,1087.55 1399.84,808.11 1400.34,805.71 1401.14,804.11 1402.24,803.11 1403.84,802.56 1405.84,802.26 1410.38,801.51 1410.98,819.51 1411.28,1080.5 1411.51,1087.16 1411.74,1086.81 1411.96,1086.39 1412.19,1086.83 1412.42,1088.12 1412.65,1087.36 1412.88,1088.32 1413.1,1087.58 1413.33,1090.33 1413.56,1090.39 1413.79,1089.98 1414.02,1089.96 1414.25,1092.95 1414.47,1092.27 1414.7,1092.01 1414.93,1090.63 1415.16,1095.12 1415.39,1094.06 1415.61,1094.63 1415.84,1092.18 1416.07,1096.84 1416.3,1094.06 1416.53,1096.82 1416.76,1093.98 1416.98,1095.81 1417.21,1091.83 1417.44,1094.91 1417.67,1091.23 1417.9,1092.99 1418.12,1092.33 1418.35,1093.49 1418.58,1089.56 1418.81,1090.88 1419.04,1089.43 1419.27,1091 1419.49,1088.61 1419.72,1089.04 1419.95,1087.42 1420.18,1090.06 1420.41,1088.59 1420.41,808.28 1420.91,805.88 1421.71,804.28 1422.81,803.28 1424.41,802.73 1426.41,802.43 1430.95,801.68 1431.55,819.68 1431.85,1080.5 1432.08,1085.36 1432.3,1085.77 1432.53,1088.4 1432.76,1085.08 1432.99,1089.52 1433.22,1086.2 1433.44,1089.68 1433.67,1088.38 1433.9,1090.65 1434.13,1088.53 1434.36,1090.91 1434.59,1090.24 1434.81,1091.81 1435.04,1091.35 1435.27,1092.75 1435.5,1091.57 1435.73,1092.37 1435.95,1092.99 1436.18,1094.65 1436.41,1092.72 1436.64,1096.35 1436.87,1095.24 1437.1,1095.49 1437.32,1092.66 1437.55,1094.75 1437.78,1091.67 1438.01,1092.94 1438.24,1091.86 1438.46,1092.05 1438.69,1091.11 1438.92,1092.53 1439.15,1089.13 1439.38,1092.13 1439.61,1088.48 1439.83,1091.64 1440.06,1089.79 1440.29,1090.2 1440.52,1086.84 1440.75,1089.4 1440.97,1087.03 1440.97,808.45 1441.47,806.05 1442.27,804.45 1443.37,803.45 1444.97,802.9 1446.97,802.6 1451.52,801.85 1452.12,819.85 1452.42,1080.5 1452.64,1088.09 1452.87,1084.49 1453.1,1088.69 1453.33,1087.95 1453.56,1089.2 1453.78,1088.29 1454.01,1088.47 1454.24,1089.67 1454.47,1090.24 1454.7,1090.48 1454.93,1092.4 1455.15,1088.99 1455.38,1092.9 1455.61,1092.16 1455.84,1091.61 1456.07,1091.31 1456.29,1094.56 1456.52,1091.61 1456.75,1095.87 1456.98,1092.84 1457.21,1096.51 1457.44,1093.33 1457.66,1095.62 1457.89,1094.88 1458.12,1093.96 1458.35,1092.13 1458.58,1094.07 1458.8,1091.52 1459.03,1091.89 1459.26,1090.34 1459.49,1091.48 1459.72,1091.82 1459.95,1092.26 1460.17,1090.92 1460.4,1089.95 1460.63,1089.81 1460.86,1089.01 1461.09,1088.27 1461.31,1089.8 1461.54,1086.98 1461.54,808.62 1462.04,806.22 1462.84,804.62 1463.94,803.62 1465.54,803.07 1467.54,802.77 1470.7,802.22" fill="none" stroke="#000" stroke-width="1.6" stroke-linejoin="round"/>
<rect x="1198.5" y="786" width="1.2" height="1.2" fill="#777"/>
<text transform="translate(-1 1281) scale(1 1.045)" font-weight="bold" font-size="46">e</text>
<line x1="121.6" y1="1304.6" x2="665" y2="1304.6" stroke="#000" stroke-width="1.85"/>
<line x1="121.6" y1="1742.9" x2="665" y2="1742.9" stroke="#000" stroke-width="1.85"/>
<line x1="121.6" y1="1303.6" x2="121.6" y2="1743.9" stroke="#000" stroke-width="1.85"/>
<line x1="665" y1="1303.6" x2="665" y2="1743.9" stroke="#000" stroke-width="1.85"/>
<line x1="121.6" y1="1696.38" x2="117.6" y2="1696.38" stroke="#000" stroke-width="1.85"/>
<line x1="121.6" y1="1627.12" x2="113.1" y2="1627.12" stroke="#000" stroke-width="1.85"/>
<line x1="121.6" y1="1557.86" x2="117.6" y2="1557.86" stroke="#000" stroke-width="1.85"/>
<line x1="121.6" y1="1488.61" x2="113.1" y2="1488.61" stroke="#000" stroke-width="1.85"/>
<line x1="121.6" y1="1419.36" x2="117.6" y2="1419.36" stroke="#000" stroke-width="1.85"/>
<line x1="121.6" y1="1350.1" x2="113.1" y2="1350.1" stroke="#000" stroke-width="1.85"/>
<line x1="127.7" y1="1742.9" x2="127.7" y2="1751.3" stroke="#000" stroke-width="1.85"/>
<line x1="186.15" y1="1742.9" x2="186.15" y2="1747.3" stroke="#000" stroke-width="1.85"/>
<line x1="244.6" y1="1742.9" x2="244.6" y2="1751.3" stroke="#000" stroke-width="1.85"/>
<line x1="303.05" y1="1742.9" x2="303.05" y2="1747.3" stroke="#000" stroke-width="1.85"/>
<line x1="361.5" y1="1742.9" x2="361.5" y2="1751.3" stroke="#000" stroke-width="1.85"/>
<line x1="419.95" y1="1742.9" x2="419.95" y2="1747.3" stroke="#000" stroke-width="1.85"/>
<line x1="478.4" y1="1742.9" x2="478.4" y2="1751.3" stroke="#000" stroke-width="1.85"/>
<line x1="536.85" y1="1742.9" x2="536.85" y2="1747.3" stroke="#000" stroke-width="1.85"/>
<line x1="595.3" y1="1742.9" x2="595.3" y2="1751.3" stroke="#000" stroke-width="1.85"/>
<line x1="653.75" y1="1742.9" x2="653.75" y2="1747.3" stroke="#000" stroke-width="1.85"/>
<text transform="translate(106.6 1361.7) scale(1 1.045)" text-anchor="end">180</text>
<text transform="translate(106.6 1500.21) scale(1 1.045)" text-anchor="end">150</text>
<text transform="translate(106.6 1638.72) scale(1 1.045)" text-anchor="end">120</text>
<text transform="translate(127.7 1783.2) scale(1 1.045)" text-anchor="middle">0</text>
<text transform="translate(244.6 1783.2) scale(1 1.045)" text-anchor="middle">20</text>
<text transform="translate(361.5 1783.2) scale(1 1.045)" text-anchor="middle">40</text>
<text transform="translate(478.4 1783.2) scale(1 1.045)" text-anchor="middle">60</text>
<text transform="translate(595.3 1783.2) scale(1 1.045)" text-anchor="middle">80</text>
<text transform="translate(40 1523.75) rotate(-90) scale(1 1.045)" text-anchor="middle">PPF index (%)</text>
<text transform="translate(393.3 1838) scale(1 1.045)" text-anchor="middle">Pulse interval (s)</text>
<polyline points="133.3,1335.5 156.9,1434.4 186,1475.3 244.2,1543.5 302.8,1620.4 419.6,1661.3 536.5,1696.4 595.2,1715.5 653.6,1711.3" fill="none" stroke="#000" stroke-width="1.6" stroke-linejoin="round"/>
<circle cx="133.3" cy="1335.5" r="8.8" fill="#000"/>
<circle cx="130.93" cy="1333.03" r="5.24" fill="url(#hl)"/>
<circle cx="156.9" cy="1434.4" r="8.8" fill="#000"/>
<circle cx="154.53" cy="1431.93" r="5.24" fill="url(#hl)"/>
<circle cx="186" cy="1475.3" r="8.8" fill="#000"/>
<circle cx="183.63" cy="1472.83" r="5.24" fill="url(#hl)"/>
<circle cx="244.2" cy="1543.5" r="8.8" fill="#000"/>
<circle cx="241.83" cy="1541.03" r="5.24" fill="url(#hl)"/>
<circle cx="302.8" cy="1620.4" r="8.8" fill="#000"/>
<circle cx="300.43" cy="1617.93" r="5.24" fill="url(#hl)"/>
<circle cx="419.6" cy="1661.3" r="8.8" fill="#000"/>
<circle cx="417.23" cy="1658.83" r="5.24" fill="url(#hl)"/>
<circle cx="536.5" cy="1696.4" r="8.8" fill="#000"/>
<circle cx="534.13" cy="1693.93" r="5.24" fill="url(#hl)"/>
<circle cx="595.2" cy="1715.5" r="8.8" fill="#000"/>
<circle cx="592.83" cy="1713.03" r="5.24" fill="url(#hl)"/>
<circle cx="653.6" cy="1711.3" r="8.8" fill="#000"/>
<circle cx="651.23" cy="1708.83" r="5.24" fill="url(#hl)"/>
<rect x="392.6" y="1320.3" width="251.69999999999993" height="245.29999999999995" fill="#fff"/>
<line x1="392.6" y1="1320.3" x2="644.3" y2="1320.3" stroke="#000" stroke-width="1.85"/>
<line x1="392.6" y1="1381.1" x2="644.3" y2="1381.1" stroke="#000" stroke-width="1.85"/>
<line x1="392.6" y1="1565.6" x2="644.3" y2="1565.6" stroke="#000" stroke-width="1.85"/>
<line x1="392.6" y1="1319.3" x2="392.6" y2="1566.6" stroke="#000" stroke-width="1.85"/>
<line x1="644.3" y1="1319.3" x2="644.3" y2="1566.6" stroke="#000" stroke-width="1.85"/>
<line x1="392.6" y1="1557.45" x2="388.6" y2="1557.45" stroke="#000" stroke-width="1.85"/>
<line x1="392.6" y1="1515.6" x2="384.2" y2="1515.6" stroke="#000" stroke-width="1.85"/>
<line x1="392.6" y1="1473.75" x2="388.6" y2="1473.75" stroke="#000" stroke-width="1.85"/>
<line x1="392.6" y1="1431.9" x2="384.2" y2="1431.9" stroke="#000" stroke-width="1.85"/>
<line x1="392.6" y1="1390.05" x2="388.6" y2="1390.05" stroke="#000" stroke-width="1.85"/>
<line x1="392.6" y1="1565.6" x2="392.6" y2="1573.6" stroke="#000" stroke-width="1.85"/>
<line x1="455.52" y1="1565.6" x2="455.52" y2="1569.6" stroke="#000" stroke-width="1.85"/>
<line x1="518.45" y1="1565.6" x2="518.45" y2="1573.6" stroke="#000" stroke-width="1.85"/>
<line x1="581.38" y1="1565.6" x2="581.38" y2="1569.6" stroke="#000" stroke-width="1.85"/>
<line x1="644.3" y1="1565.6" x2="644.3" y2="1573.6" stroke="#000" stroke-width="1.85"/>
<text transform="translate(378.3 1441.5) scale(1 1.045)" text-anchor="end">20</text>
<text transform="translate(378.3 1525.2) scale(1 1.045)" text-anchor="end">10</text>
<text transform="translate(392.6 1606.1) scale(1 1.045)" text-anchor="middle">0</text>
<text transform="translate(518.45 1606.1) scale(1 1.045)" text-anchor="middle">30</text>
<text transform="translate(644.3 1606.1) scale(1 1.045)" text-anchor="middle">60</text>
<text transform="translate(518.45 1652.6) scale(1 1.045)" text-anchor="middle">Time (s)</text>
<text transform="translate(331.8 1527.8) rotate(-90) scale(1 1.045)"><tspan font-style="italic">I</tspan><tspan font-size="23" dy="9.2">DS</tspan><tspan dy="-9.2"> (nA)</tspan></text>
<line x1="481.1" y1="1329.8" x2="481.1" y2="1381.1" stroke="#ff0000" stroke-width="2.4"/>
<line x1="525.1" y1="1329.8" x2="525.1" y2="1381.1" stroke="#ff0000" stroke-width="2.4"/>
<text transform="translate(387.7 1361) scale(1 1.045)" text-anchor="end" fill="#ff0000">Optical</text>
<text transform="translate(551.8 1348.6) scale(1 1.045)" fill="#ff0000" font-size="28.5">48</text>
<text transform="translate(535.8 1374.3) scale(1 1.045)" fill="#ff0000" font-size="28.5">µW/cm</text>
<text transform="translate(625.33 1364.3) scale(1 1.045)" fill="#ff0000" font-size="19.5">2</text>
<polyline points="392.6,1552.04 393.02,1551.32 393.44,1551.73 393.86,1551.18 394.28,1551.13 394.7,1552.44 395.12,1552.56 395.54,1550.63 395.96,1551.99 396.38,1552.05 396.8,1550.26 397.21,1551.49 397.63,1550.64 398.05,1551.48 398.47,1551.1 398.89,1552.24 399.31,1551.11 399.73,1550.56 400.15,1551.37 400.57,1550.86 400.99,1551.02 401.41,1552.45 401.83,1550.82 402.25,1551.21 402.67,1551.89 403.09,1552.52 403.51,1550.57 403.93,1551.49 404.35,1550.91 404.77,1550.54 405.19,1550.92 405.6,1550.44 406.02,1551.67 406.44,1550.72 406.86,1551.55 407.28,1550.4 407.7,1550.54 408.12,1552.37 408.54,1552.28 408.96,1552.09 409.38,1550.33 409.8,1551.57 410.22,1551.13 410.64,1551.89 411.06,1551.41 411.48,1551.69 411.9,1551.77 412.32,1551.22 412.74,1551.23 413.16,1550.48 413.57,1551 413.99,1550.42 414.41,1550.59 414.83,1550.27 415.25,1551.02 415.67,1552.21 416.09,1550.58 416.51,1550.33 416.93,1550.48 417.35,1551.26 417.77,1550.92 418.19,1552.1 418.61,1550.65 419.03,1551.25 419.45,1551.93 419.87,1552.45 420.29,1550.59 420.71,1550.28 421.13,1552.39 421.55,1550.72 421.96,1551.63 422.38,1552.24 422.8,1551.91 423.22,1550.79 423.64,1550.55 424.06,1552.49 424.48,1551.16 424.9,1552.49 425.32,1550.91 425.74,1551.82 426.16,1550.53 426.58,1550.3 427,1551.41 427.42,1550.26 427.84,1551.87 428.26,1552.42 428.68,1551.19 429.1,1552.52 429.52,1552.13 429.94,1551.64 430.35,1551.16 430.77,1552.23 431.19,1552.5 431.61,1550.56 432.03,1551.86 432.45,1550.35 432.87,1550.49 433.29,1551.71 433.71,1551.52 434.13,1551.38 434.55,1551.09 434.97,1551.2 435.39,1551.28 435.81,1551.14 436.23,1550.39 436.65,1551.41 437.07,1551.58 437.49,1550.91 437.91,1552.04 438.33,1551.89 438.74,1550.3 439.16,1551.37 439.58,1551.31 440,1552.57 440.42,1551.62 440.84,1551.24 441.26,1552.55 441.68,1551.15 442.1,1551.11 442.52,1552.45 442.94,1551.13 443.36,1551.5 443.78,1551 444.2,1551.77 444.62,1550.94 445.04,1550.87 445.46,1552.54 445.88,1552.45 446.3,1551.01 446.72,1550.34 447.13,1552.01 447.55,1551.53 447.97,1551.21 448.39,1551.85 448.81,1551.74 449.23,1551.86 449.65,1551.73 450.07,1551.2 450.49,1551.89 450.91,1551.71 451.33,1550.79 451.75,1552.53 452.17,1551.26 452.59,1550.87 453.01,1551.87 453.43,1552.07 453.85,1550.71 454.27,1552.04 454.69,1552.16 455.11,1551.58 455.52,1550.96 455.94,1552.36 456.36,1551.84 456.78,1551.81 457.2,1550.64 457.62,1551.57 458.04,1550.59 458.46,1552.2 458.88,1551.81 459.3,1551.07 459.72,1550.52 460.14,1551.54 460.56,1552.07 460.98,1552.31 461.4,1551.35 461.82,1552.15 462.24,1550.7 462.66,1550.63 463.08,1552.17 463.5,1551.94 463.91,1550.7 464.33,1551.09 464.75,1550.71 465.17,1551.79 465.59,1552.29 466.01,1551.91 466.43,1550.73 466.85,1551.96 467.27,1551.78 467.69,1551.62 468.11,1551.61 468.53,1551.64 468.95,1550.44 469.37,1552.23 469.79,1552.58 470.21,1550.38 470.63,1550.53 471.05,1550.28 471.47,1551.58 471.89,1550.37 472.31,1550.42 472.72,1552.07 473.14,1550.85 473.56,1550.63 473.98,1551.04 474.4,1551.38 474.82,1551.92 475.24,1551.8 475.66,1552.06 476.08,1552.44 476.5,1551.22 476.92,1551.92 477.34,1550.7 477.76,1552.49 478.18,1550.48 478.6,1550.97 479.02,1550.43 479.44,1550.49 479.86,1550.49 480.28,1551.24 480.69,1552.26 481.11,1451.15 481.95,1463.71 482.79,1470.4 483.63,1476.26 484.47,1482.96 485.31,1488.82 486.15,1495.51 486.99,1498.44 487.83,1500.55 488.67,1504.7 489.25,1505.84 489.84,1506.18 490.43,1508.13 491.01,1509.55 491.6,1508.83 492.19,1510.97 492.78,1512.91 493.36,1514.25 493.95,1513.25 494.54,1515.33 495.13,1514.99 495.71,1517.11 496.3,1518.32 496.89,1517.87 497.48,1517.61 498.06,1520.45 498.65,1519.06 499.24,1519.27 499.82,1520.04 500.41,1520.38 501,1523.5 501.59,1521.81 502.17,1521.42 502.76,1524.53 503.35,1524.18 503.94,1524.58 504.52,1524.1 505.11,1524.84 505.7,1525.07 506.28,1524.44 506.87,1527.38 507.46,1527.44 508.05,1527.43 508.63,1527.67 509.22,1528.09 509.81,1525.29 510.4,1525.93 510.98,1528.74 511.57,1527.58 512.16,1528.44 512.74,1528.68 513.33,1528.79 513.92,1528.03 514.51,1528.47 515.09,1529.46 515.68,1530.26 516.27,1530.03 516.86,1530.95 517.44,1529.66 518.03,1529.17 518.62,1530.33 519.21,1531.38 519.79,1531.1 520.38,1530.49 520.97,1529.76 521.55,1529.2 522.14,1530.59 522.73,1529.23 523.32,1529.87 523.9,1530.55 524.49,1530.79 525.16,1530.41 526.42,1397.58 527.26,1421.02 528.1,1432.74 528.94,1439.43 529.78,1444.46 530.62,1451.15 531.45,1457.01 532.29,1462.03 533.13,1465.75 533.72,1469.33 534.31,1471.05 534.89,1473.88 535.48,1476.56 536.07,1477.54 536.66,1478.96 537.24,1482.55 537.83,1482.54 538.42,1483.71 539.01,1483.36 539.59,1484.34 540.18,1487.4 540.77,1486.75 541.35,1487.81 541.94,1490.28 542.53,1490.31 543.12,1492.15 543.7,1490.55 544.29,1491.75 544.88,1491.7 545.47,1492.72 546.05,1493.85 546.64,1494.33 547.23,1495.56 547.82,1497.73 548.4,1496.72 548.99,1499.3 549.58,1499.45 550.16,1497.96 550.75,1501.03 551.34,1501.49 551.93,1502.08 552.51,1500.09 553.1,1503.06 553.69,1504.2 554.28,1502.01 554.86,1504.78 555.45,1502.73 556.04,1503.67 556.62,1503.49 557.21,1503.47 557.8,1505.08 558.39,1504.71 558.97,1507.63 559.56,1505.55 560.15,1506.77 560.74,1506.46 561.32,1508.86 561.91,1507.08 562.5,1506.82 563.08,1510.11 563.67,1509.6 564.26,1509.14 564.85,1508.47 565.43,1510.65 566.02,1511.07 566.61,1511.05 567.2,1510.04 567.78,1509.8 568.37,1511.22 568.96,1511.52 569.55,1511.64 570.13,1512.01 570.72,1511.99 571.31,1513.33 571.89,1512.15 572.48,1510.78 573.07,1512.87 573.66,1511.97 574.24,1514.15 574.83,1512.59 575.42,1512.59 576.01,1513.08 576.59,1513.82 577.18,1514.14 577.77,1513.82 578.35,1513.19 578.94,1515.91 579.53,1516.3 580.12,1514.33 580.7,1513.98 581.29,1515.54 581.88,1516 582.47,1515.29 583.05,1517.29 583.64,1517.23 584.23,1517.68 584.81,1516.59 585.4,1517.68 585.99,1518.13 586.58,1516.77 587.16,1516.07 587.75,1518.45 588.34,1517.26 588.93,1518.42 589.51,1517.12 590.1,1518.2 590.69,1519.44 591.28,1519.78 591.86,1520.61 592.45,1519.26 593.04,1519.76 593.62,1520.64 594.21,1520.19 594.8,1520.5 595.39,1519.16 595.97,1521.45 596.56,1518.79 597.15,1520.68 597.74,1520.46 598.32,1521.08 598.91,1520.03 599.5,1520.25 600.08,1521.31 600.67,1521.74 601.26,1521.12 601.85,1520.84 602.43,1522.55 603.02,1521.61 603.61,1521.03 604.2,1522.85 604.78,1523.83 605.37,1523.99 605.96,1522.55 606.55,1522.87 607.13,1522.1 607.72,1522.63 608.31,1524.85 608.89,1525.21 609.48,1525.15 610.07,1525.55 610.66,1523.92 611.24,1523.5 611.83,1523.47 612.42,1525.73 613.01,1523.79 613.59,1525.73 614.18,1525.47 614.77,1524.55 615.35,1526.8 615.94,1526.88 616.53,1524.5 617.12,1526.42 617.7,1526.3 618.29,1525.65 618.88,1525.44 619.47,1527.78 620.05,1526.78 620.64,1526.54 621.23,1526.48 621.81,1527.5 622.4,1526.35 622.99,1525.21 623.58,1527.2 624.16,1526.79 624.75,1528.31 625.34,1527.89 625.93,1526.69 626.51,1528.64 627.1,1526.15 627.69,1526.18 628.28,1529 628.86,1526.27 629.45,1528.27 630.04,1527.04 630.62,1527.19 631.21,1528.84 631.8,1527.67 632.39,1527.84 632.97,1527.43 633.56,1529.34 634.15,1527.81 634.74,1527.22 635.32,1528.29 635.91,1528.84 636.5,1530.36 637.08,1529.19 637.67,1529.76 638.26,1528.64 638.85,1528.87 639.43,1529.35 640.02,1530.74 640.61,1529.29 641.2,1529.44 641.78,1531.05 642.37,1528.78 642.96,1529.66 643.54,1531.55 644.3,1530.41" fill="none" stroke="#0000ff" stroke-width="1.3" stroke-linejoin="round"/>
<g fill="#fff" stroke="#0000ff" stroke-width="1.25"><circle cx="392.6" cy="1552.04" r="4.9"/><circle cx="393.02" cy="1551.32" r="4.9"/><circle cx="393.44" cy="1551.73" r="4.9"/><circle cx="393.86" cy="1551.18" r="4.9"/><circle cx="394.28" cy="1551.13" r="4.9"/><circle cx="394.7" cy="1552.44" r="4.9"/><circle cx="395.12" cy="1552.56" r="4.9"/><circle cx="395.54" cy="1550.63" r="4.9"/><circle cx="395.96" cy="1551.99" r="4.9"/><circle cx="396.38" cy="1552.05" r="4.9"/><circle cx="396.8" cy="1550.26" r="4.9"/><circle cx="397.21" cy="1551.49" r="4.9"/><circle cx="397.63" cy="1550.64" r="4.9"/><circle cx="398.05" cy="1551.48" r="4.9"/><circle cx="398.47" cy="1551.1" r="4.9"/><circle cx="398.89" cy="1552.24" r="4.9"/><circle cx="399.31" cy="1551.11" r="4.9"/><circle cx="399.73" cy="1550.56" r="4.9"/><circle cx="400.15" cy="1551.37" r="4.9"/><circle cx="400.57" cy="1550.86" r="4.9"/><circle cx="400.99" cy="1551.02" r="4.9"/><circle cx="401.41" cy="1552.45" r="4.9"/><circle cx="401.83" cy="1550.82" r="4.9"/><circle cx="402.25" cy="1551.21" r="4.9"/><circle cx="402.67" cy="1551.89" r="4.9"/><circle cx="403.09" cy="1552.52" r="4.9"/><circle cx="403.51" cy="1550.57" r="4.9"/><circle cx="403.93" cy="1551.49" r="4.9"/><circle cx="404.35" cy="1550.91" r="4.9"/><circle cx="404.77" cy="1550.54" r="4.9"/><circle cx="405.19" cy="1550.92" r="4.9"/><circle cx="405.6" cy="1550.44" r="4.9"/><circle cx="406.02" cy="1551.67" r="4.9"/><circle cx="406.44" cy="1550.72" r="4.9"/><circle cx="406.86" cy="1551.55" r="4.9"/><circle cx="407.28" cy="1550.4" r="4.9"/><circle cx="407.7" cy="1550.54" r="4.9"/><circle cx="408.12" cy="1552.37" r="4.9"/><circle cx="408.54" cy="1552.28" r="4.9"/><circle cx="408.96" cy="1552.09" r="4.9"/><circle cx="409.38" cy="1550.33" r="4.9"/><circle cx="409.8" cy="1551.57" r="4.9"/><circle cx="410.22" cy="1551.13" r="4.9"/><circle cx="410.64" cy="1551.89" r="4.9"/><circle cx="411.06" cy="1551.41" r="4.9"/><circle cx="411.48" cy="1551.69" r="4.9"/><circle cx="411.9" cy="1551.77" r="4.9"/><circle cx="412.32" cy="1551.22" r="4.9"/><circle cx="412.74" cy="1551.23" r="4.9"/><circle cx="413.16" cy="1550.48" r="4.9"/><circle cx="413.57" cy="1551" r="4.9"/><circle cx="413.99" cy="1550.42" r="4.9"/><circle cx="414.41" cy="1550.59" r="4.9"/><circle cx="414.83" cy="1550.27" r="4.9"/><circle cx="415.25" cy="1551.02" r="4.9"/><circle cx="415.67" cy="1552.21" r="4.9"/><circle cx="416.09" cy="1550.58" r="4.9"/><circle cx="416.51" cy="1550.33" r="4.9"/><circle cx="416.93" cy="1550.48" r="4.9"/><circle cx="417.35" cy="1551.26" r="4.9"/><circle cx="417.77" cy="1550.92" r="4.9"/><circle cx="418.19" cy="1552.1" r="4.9"/><circle cx="418.61" cy="1550.65" r="4.9"/><circle cx="419.03" cy="1551.25" r="4.9"/><circle cx="419.45" cy="1551.93" r="4.9"/><circle cx="419.87" cy="1552.45" r="4.9"/><circle cx="420.29" cy="1550.59" r="4.9"/><circle cx="420.71" cy="1550.28" r="4.9"/><circle cx="421.13" cy="1552.39" r="4.9"/><circle cx="421.55" cy="1550.72" r="4.9"/><circle cx="421.96" cy="1551.63" r="4.9"/><circle cx="422.38" cy="1552.24" r="4.9"/><circle cx="422.8" cy="1551.91" r="4.9"/><circle cx="423.22" cy="1550.79" r="4.9"/><circle cx="423.64" cy="1550.55" r="4.9"/><circle cx="424.06" cy="1552.49" r="4.9"/><circle cx="424.48" cy="1551.16" r="4.9"/><circle cx="424.9" cy="1552.49" r="4.9"/><circle cx="425.32" cy="1550.91" r="4.9"/><circle cx="425.74" cy="1551.82" r="4.9"/><circle cx="426.16" cy="1550.53" r="4.9"/><circle cx="426.58" cy="1550.3" r="4.9"/><circle cx="427" cy="1551.41" r="4.9"/><circle cx="427.42" cy="1550.26" r="4.9"/><circle cx="427.84" cy="1551.87" r="4.9"/><circle cx="428.26" cy="1552.42" r="4.9"/><circle cx="428.68" cy="1551.19" r="4.9"/><circle cx="429.1" cy="1552.52" r="4.9"/><circle cx="429.52" cy="1552.13" r="4.9"/><circle cx="429.94" cy="1551.64" r="4.9"/><circle cx="430.35" cy="1551.16" r="4.9"/><circle cx="430.77" cy="1552.23" r="4.9"/><circle cx="431.19" cy="1552.5" r="4.9"/><circle cx="431.61" cy="1550.56" r="4.9"/><circle cx="432.03" cy="1551.86" r="4.9"/><circle cx="432.45" cy="1550.35" r="4.9"/><circle cx="432.87" cy="1550.49" r="4.9"/><circle cx="433.29" cy="1551.71" r="4.9"/><circle cx="433.71" cy="1551.52" r="4.9"/><circle cx="434.13" cy="1551.38" r="4.9"/><circle cx="434.55" cy="1551.09" r="4.9"/><circle cx="434.97" cy="1551.2" r="4.9"/><circle cx="435.39" cy="1551.28" r="4.9"/><circle cx="435.81" cy="1551.14" r="4.9"/><circle cx="436.23" cy="1550.39" r="4.9"/><circle cx="436.65" cy="1551.41" r="4.9"/><circle cx="437.07" cy="1551.58" r="4.9"/><circle cx="437.49" cy="1550.91" r="4.9"/><circle cx="437.91" cy="1552.04" r="4.9"/><circle cx="438.33" cy="1551.89" r="4.9"/><circle cx="438.74" cy="1550.3" r="4.9"/><circle cx="439.16" cy="1551.37" r="4.9"/><circle cx="439.58" cy="1551.31" r="4.9"/><circle cx="440" cy="1552.57" r="4.9"/><circle cx="440.42" cy="1551.62" r="4.9"/><circle cx="440.84" cy="1551.24" r="4.9"/><circle cx="441.26" cy="1552.55" r="4.9"/><circle cx="441.68" cy="1551.15" r="4.9"/><circle cx="442.1" cy="1551.11" r="4.9"/><circle cx="442.52" cy="1552.45" r="4.9"/><circle cx="442.94" cy="1551.13" r="4.9"/><circle cx="443.36" cy="1551.5" r="4.9"/><circle cx="443.78" cy="1551" r="4.9"/><circle cx="444.2" cy="1551.77" r="4.9"/><circle cx="444.62" cy="1550.94" r="4.9"/><circle cx="445.04" cy="1550.87" r="4.9"/><circle cx="445.46" cy="1552.54" r="4.9"/><circle cx="445.88" cy="1552.45" r="4.9"/><circle cx="446.3" cy="1551.01" r="4.9"/><circle cx="446.72" cy="1550.34" r="4.9"/><circle cx="447.13" cy="1552.01" r="4.9"/><circle cx="447.55" cy="1551.53" r="4.9"/><circle cx="447.97" cy="1551.21" r="4.9"/><circle cx="448.39" cy="1551.85" r="4.9"/><circle cx="448.81" cy="1551.74" r="4.9"/><circle cx="449.23" cy="1551.86" r="4.9"/><circle cx="449.65" cy="1551.73" r="4.9"/><circle cx="450.07" cy="1551.2" r="4.9"/><circle cx="450.49" cy="1551.89" r="4.9"/><circle cx="450.91" cy="1551.71" r="4.9"/><circle cx="451.33" cy="1550.79" r="4.9"/><circle cx="451.75" cy="1552.53" r="4.9"/><circle cx="452.17" cy="1551.26" r="4.9"/><circle cx="452.59" cy="1550.87" r="4.9"/><circle cx="453.01" cy="1551.87" r="4.9"/><circle cx="453.43" cy="1552.07" r="4.9"/><circle cx="453.85" cy="1550.71" r="4.9"/><circle cx="454.27" cy="1552.04" r="4.9"/><circle cx="454.69" cy="1552.16" r="4.9"/><circle cx="455.11" cy="1551.58" r="4.9"/><circle cx="455.52" cy="1550.96" r="4.9"/><circle cx="455.94" cy="1552.36" r="4.9"/><circle cx="456.36" cy="1551.84" r="4.9"/><circle cx="456.78" cy="1551.81" r="4.9"/><circle cx="457.2" cy="1550.64" r="4.9"/><circle cx="457.62" cy="1551.57" r="4.9"/><circle cx="458.04" cy="1550.59" r="4.9"/><circle cx="458.46" cy="1552.2" r="4.9"/><circle cx="458.88" cy="1551.81" r="4.9"/><circle cx="459.3" cy="1551.07" r="4.9"/><circle cx="459.72" cy="1550.52" r="4.9"/><circle cx="460.14" cy="1551.54" r="4.9"/><circle cx="460.56" cy="1552.07" r="4.9"/><circle cx="460.98" cy="1552.31" r="4.9"/><circle cx="461.4" cy="1551.35" r="4.9"/><circle cx="461.82" cy="1552.15" r="4.9"/><circle cx="462.24" cy="1550.7" r="4.9"/><circle cx="462.66" cy="1550.63" r="4.9"/><circle cx="463.08" cy="1552.17" r="4.9"/><circle cx="463.5" cy="1551.94" r="4.9"/><circle cx="463.91" cy="1550.7" r="4.9"/><circle cx="464.33" cy="1551.09" r="4.9"/><circle cx="464.75" cy="1550.71" r="4.9"/><circle cx="465.17" cy="1551.79" r="4.9"/><circle cx="465.59" cy="1552.29" r="4.9"/><circle cx="466.01" cy="1551.91" r="4.9"/><circle cx="466.43" cy="1550.73" r="4.9"/><circle cx="466.85" cy="1551.96" r="4.9"/><circle cx="467.27" cy="1551.78" r="4.9"/><circle cx="467.69" cy="1551.62" r="4.9"/><circle cx="468.11" cy="1551.61" r="4.9"/><circle cx="468.53" cy="1551.64" r="4.9"/><circle cx="468.95" cy="1550.44" r="4.9"/><circle cx="469.37" cy="1552.23" r="4.9"/><circle cx="469.79" cy="1552.58" r="4.9"/><circle cx="470.21" cy="1550.38" r="4.9"/><circle cx="470.63" cy="1550.53" r="4.9"/><circle cx="471.05" cy="1550.28" r="4.9"/><circle cx="471.47" cy="1551.58" r="4.9"/><circle cx="471.89" cy="1550.37" r="4.9"/><circle cx="472.31" cy="1550.42" r="4.9"/><circle cx="472.72" cy="1552.07" r="4.9"/><circle cx="473.14" cy="1550.85" r="4.9"/><circle cx="473.56" cy="1550.63" r="4.9"/><circle cx="473.98" cy="1551.04" r="4.9"/><circle cx="474.4" cy="1551.38" r="4.9"/><circle cx="474.82" cy="1551.92" r="4.9"/><circle cx="475.24" cy="1551.8" r="4.9"/><circle cx="475.66" cy="1552.06" r="4.9"/><circle cx="476.08" cy="1552.44" r="4.9"/><circle cx="476.5" cy="1551.22" r="4.9"/><circle cx="476.92" cy="1551.92" r="4.9"/><circle cx="477.34" cy="1550.7" r="4.9"/><circle cx="477.76" cy="1552.49" r="4.9"/><circle cx="478.18" cy="1550.48" r="4.9"/><circle cx="478.6" cy="1550.97" r="4.9"/><circle cx="479.02" cy="1550.43" r="4.9"/><circle cx="479.44" cy="1550.49" r="4.9"/><circle cx="479.86" cy="1550.49" r="4.9"/><circle cx="480.28" cy="1551.24" r="4.9"/><circle cx="480.69" cy="1552.26" r="4.9"/><circle cx="481.11" cy="1451.15" r="4.9"/><circle cx="481.95" cy="1463.71" r="4.9"/><circle cx="482.79" cy="1470.4" r="4.9"/><circle cx="483.63" cy="1476.26" r="4.9"/><circle cx="484.47" cy="1482.96" r="4.9"/><circle cx="485.31" cy="1488.82" r="4.9"/><circle cx="486.15" cy="1495.51" r="4.9"/><circle cx="486.99" cy="1498.44" r="4.9"/><circle cx="487.83" cy="1500.55" r="4.9"/><circle cx="488.67" cy="1504.7" r="4.9"/><circle cx="489.25" cy="1505.84" r="4.9"/><circle cx="489.84" cy="1506.18" r="4.9"/><circle cx="490.43" cy="1508.13" r="4.9"/><circle cx="491.01" cy="1509.55" r="4.9"/><circle cx="491.6" cy="1508.83" r="4.9"/><circle cx="492.19" cy="1510.97" r="4.9"/><circle cx="492.78" cy="1512.91" r="4.9"/><circle cx="493.36" cy="1514.25" r="4.9"/><circle cx="493.95" cy="1513.25" r="4.9"/><circle cx="494.54" cy="1515.33" r="4.9"/><circle cx="495.13" cy="1514.99" r="4.9"/><circle cx="495.71" cy="1517.11" r="4.9"/><circle cx="496.3" cy="1518.32" r="4.9"/><circle cx="496.89" cy="1517.87" r="4.9"/><circle cx="497.48" cy="1517.61" r="4.9"/><circle cx="498.06" cy="1520.45" r="4.9"/><circle cx="498.65" cy="1519.06" r="4.9"/><circle cx="499.24" cy="1519.27" r="4.9"/><circle cx="499.82" cy="1520.04" r="4.9"/><circle cx="500.41" cy="1520.38" r="4.9"/><circle cx="501" cy="1523.5" r="4.9"/><circle cx="501.59" cy="1521.81" r="4.9"/><circle cx="502.17" cy="1521.42" r="4.9"/><circle cx="502.76" cy="1524.53" r="4.9"/><circle cx="503.35" cy="1524.18" r="4.9"/><circle cx="503.94" cy="1524.58" r="4.9"/><circle cx="504.52" cy="1524.1" r="4.9"/><circle cx="505.11" cy="1524.84" r="4.9"/><circle cx="505.7" cy="1525.07" r="4.9"/><circle cx="506.28" cy="1524.44" r="4.9"/><circle cx="506.87" cy="1527.38" r="4.9"/><circle cx="507.46" cy="1527.44" r="4.9"/><circle cx="508.05" cy="1527.43" r="4.9"/><circle cx="508.63" cy="1527.67" r="4.9"/><circle cx="509.22" cy="1528.09" r="4.9"/><circle cx="509.81" cy="1525.29" r="4.9"/><circle cx="510.4" cy="1525.93" r="4.9"/><circle cx="510.98" cy="1528.74" r="4.9"/><circle cx="511.57" cy="1527.58" r="4.9"/><circle cx="512.16" cy="1528.44" r="4.9"/><circle cx="512.74" cy="1528.68" r="4.9"/><circle cx="513.33" cy="1528.79" r="4.9"/><circle cx="513.92" cy="1528.03" r="4.9"/><circle cx="514.51" cy="1528.47" r="4.9"/><circle cx="515.09" cy="1529.46" r="4.9"/><circle cx="515.68" cy="1530.26" r="4.9"/><circle cx="516.27" cy="1530.03" r="4.9"/><circle cx="516.86" cy="1530.95" r="4.9"/><circle cx="517.44" cy="1529.66" r="4.9"/><circle cx="518.03" cy="1529.17" r="4.9"/><circle cx="518.62" cy="1530.33" r="4.9"/><circle cx="519.21" cy="1531.38" r="4.9"/><circle cx="519.79" cy="1531.1" r="4.9"/><circle cx="520.38" cy="1530.49" r="4.9"/><circle cx="520.97" cy="1529.76" r="4.9"/><circle cx="521.55" cy="1529.2" r="4.9"/><circle cx="522.14" cy="1530.59" r="4.9"/><circle cx="522.73" cy="1529.23" r="4.9"/><circle cx="523.32" cy="1529.87" r="4.9"/><circle cx="523.9" cy="1530.55" r="4.9"/><circle cx="524.49" cy="1530.79" r="4.9"/><circle cx="525.16" cy="1530.41" r="4.9"/><circle cx="526.42" cy="1397.58" r="4.9"/><circle cx="527.26" cy="1421.02" r="4.9"/><circle cx="528.1" cy="1432.74" r="4.9"/><circle cx="528.94" cy="1439.43" r="4.9"/><circle cx="529.78" cy="1444.46" r="4.9"/><circle cx="530.62" cy="1451.15" r="4.9"/><circle cx="531.45" cy="1457.01" r="4.9"/><circle cx="532.29" cy="1462.03" r="4.9"/><circle cx="533.13" cy="1465.75" r="4.9"/><circle cx="533.72" cy="1469.33" r="4.9"/><circle cx="534.31" cy="1471.05" r="4.9"/><circle cx="534.89" cy="1473.88" r="4.9"/><circle cx="535.48" cy="1476.56" r="4.9"/><circle cx="536.07" cy="1477.54" r="4.9"/><circle cx="536.66" cy="1478.96" r="4.9"/><circle cx="537.24" cy="1482.55" r="4.9"/><circle cx="537.83" cy="1482.54" r="4.9"/><circle cx="538.42" cy="1483.71" r="4.9"/><circle cx="539.01" cy="1483.36" r="4.9"/><circle cx="539.59" cy="1484.34" r="4.9"/><circle cx="540.18" cy="1487.4" r="4.9"/><circle cx="540.77" cy="1486.75" r="4.9"/><circle cx="541.35" cy="1487.81" r="4.9"/><circle cx="541.94" cy="1490.28" r="4.9"/><circle cx="542.53" cy="1490.31" r="4.9"/><circle cx="543.12" cy="1492.15" r="4.9"/><circle cx="543.7" cy="1490.55" r="4.9"/><circle cx="544.29" cy="1491.75" r="4.9"/><circle cx="544.88" cy="1491.7" r="4.9"/><circle cx="545.47" cy="1492.72" r="4.9"/><circle cx="546.05" cy="1493.85" r="4.9"/><circle cx="546.64" cy="1494.33" r="4.9"/><circle cx="547.23" cy="1495.56" r="4.9"/><circle cx="547.82" cy="1497.73" r="4.9"/><circle cx="548.4" cy="1496.72" r="4.9"/><circle cx="548.99" cy="1499.3" r="4.9"/><circle cx="549.58" cy="1499.45" r="4.9"/><circle cx="550.16" cy="1497.96" r="4.9"/><circle cx="550.75" cy="1501.03" r="4.9"/><circle cx="551.34" cy="1501.49" r="4.9"/><circle cx="551.93" cy="1502.08" r="4.9"/><circle cx="552.51" cy="1500.09" r="4.9"/><circle cx="553.1" cy="1503.06" r="4.9"/><circle cx="553.69" cy="1504.2" r="4.9"/><circle cx="554.28" cy="1502.01" r="4.9"/><circle cx="554.86" cy="1504.78" r="4.9"/><circle cx="555.45" cy="1502.73" r="4.9"/><circle cx="556.04" cy="1503.67" r="4.9"/><circle cx="556.62" cy="1503.49" r="4.9"/><circle cx="557.21" cy="1503.47" r="4.9"/><circle cx="557.8" cy="1505.08" r="4.9"/><circle cx="558.39" cy="1504.71" r="4.9"/><circle cx="558.97" cy="1507.63" r="4.9"/><circle cx="559.56" cy="1505.55" r="4.9"/><circle cx="560.15" cy="1506.77" r="4.9"/><circle cx="560.74" cy="1506.46" r="4.9"/><circle cx="561.32" cy="1508.86" r="4.9"/><circle cx="561.91" cy="1507.08" r="4.9"/><circle cx="562.5" cy="1506.82" r="4.9"/><circle cx="563.08" cy="1510.11" r="4.9"/><circle cx="563.67" cy="1509.6" r="4.9"/><circle cx="564.26" cy="1509.14" r="4.9"/><circle cx="564.85" cy="1508.47" r="4.9"/><circle cx="565.43" cy="1510.65" r="4.9"/><circle cx="566.02" cy="1511.07" r="4.9"/><circle cx="566.61" cy="1511.05" r="4.9"/><circle cx="567.2" cy="1510.04" r="4.9"/><circle cx="567.78" cy="1509.8" r="4.9"/><circle cx="568.37" cy="1511.22" r="4.9"/><circle cx="568.96" cy="1511.52" r="4.9"/><circle cx="569.55" cy="1511.64" r="4.9"/><circle cx="570.13" cy="1512.01" r="4.9"/><circle cx="570.72" cy="1511.99" r="4.9"/><circle cx="571.31" cy="1513.33" r="4.9"/><circle cx="571.89" cy="1512.15" r="4.9"/><circle cx="572.48" cy="1510.78" r="4.9"/><circle cx="573.07" cy="1512.87" r="4.9"/><circle cx="573.66" cy="1511.97" r="4.9"/><circle cx="574.24" cy="1514.15" r="4.9"/><circle cx="574.83" cy="1512.59" r="4.9"/><circle cx="575.42" cy="1512.59" r="4.9"/><circle cx="576.01" cy="1513.08" r="4.9"/><circle cx="576.59" cy="1513.82" r="4.9"/><circle cx="577.18" cy="1514.14" r="4.9"/><circle cx="577.77" cy="1513.82" r="4.9"/><circle cx="578.35" cy="1513.19" r="4.9"/><circle cx="578.94" cy="1515.91" r="4.9"/><circle cx="579.53" cy="1516.3" r="4.9"/><circle cx="580.12" cy="1514.33" r="4.9"/><circle cx="580.7" cy="1513.98" r="4.9"/><circle cx="581.29" cy="1515.54" r="4.9"/><circle cx="581.88" cy="1516" r="4.9"/><circle cx="582.47" cy="1515.29" r="4.9"/><circle cx="583.05" cy="1517.29" r="4.9"/><circle cx="583.64" cy="1517.23" r="4.9"/><circle cx="584.23" cy="1517.68" r="4.9"/><circle cx="584.81" cy="1516.59" r="4.9"/><circle cx="585.4" cy="1517.68" r="4.9"/><circle cx="585.99" cy="1518.13" r="4.9"/><circle cx="586.58" cy="1516.77" r="4.9"/><circle cx="587.16" cy="1516.07" r="4.9"/><circle cx="587.75" cy="1518.45" r="4.9"/><circle cx="588.34" cy="1517.26" r="4.9"/><circle cx="588.93" cy="1518.42" r="4.9"/><circle cx="589.51" cy="1517.12" r="4.9"/><circle cx="590.1" cy="1518.2" r="4.9"/><circle cx="590.69" cy="1519.44" r="4.9"/><circle cx="591.28" cy="1519.78" r="4.9"/><circle cx="591.86" cy="1520.61" r="4.9"/><circle cx="592.45" cy="1519.26" r="4.9"/><circle cx="593.04" cy="1519.76" r="4.9"/><circle cx="593.62" cy="1520.64" r="4.9"/><circle cx="594.21" cy="1520.19" r="4.9"/><circle cx="594.8" cy="1520.5" r="4.9"/><circle cx="595.39" cy="1519.16" r="4.9"/><circle cx="595.97" cy="1521.45" r="4.9"/><circle cx="596.56" cy="1518.79" r="4.9"/><circle cx="597.15" cy="1520.68" r="4.9"/><circle cx="597.74" cy="1520.46" r="4.9"/><circle cx="598.32" cy="1521.08" r="4.9"/><circle cx="598.91" cy="1520.03" r="4.9"/><circle cx="599.5" cy="1520.25" r="4.9"/><circle cx="600.08" cy="1521.31" r="4.9"/><circle cx="600.67" cy="1521.74" r="4.9"/><circle cx="601.26" cy="1521.12" r="4.9"/><circle cx="601.85" cy="1520.84" r="4.9"/><circle cx="602.43" cy="1522.55" r="4.9"/><circle cx="603.02" cy="1521.61" r="4.9"/><circle cx="603.61" cy="1521.03" r="4.9"/><circle cx="604.2" cy="1522.85" r="4.9"/><circle cx="604.78" cy="1523.83" r="4.9"/><circle cx="605.37" cy="1523.99" r="4.9"/><circle cx="605.96" cy="1522.55" r="4.9"/><circle cx="606.55" cy="1522.87" r="4.9"/><circle cx="607.13" cy="1522.1" r="4.9"/><circle cx="607.72" cy="1522.63" r="4.9"/><circle cx="608.31" cy="1524.85" r="4.9"/><circle cx="608.89" cy="1525.21" r="4.9"/><circle cx="609.48" cy="1525.15" r="4.9"/><circle cx="610.07" cy="1525.55" r="4.9"/><circle cx="610.66" cy="1523.92" r="4.9"/><circle cx="611.24" cy="1523.5" r="4.9"/><circle cx="611.83" cy="1523.47" r="4.9"/><circle cx="612.42" cy="1525.73" r="4.9"/><circle cx="613.01" cy="1523.79" r="4.9"/><circle cx="613.59" cy="1525.73" r="4.9"/><circle cx="614.18" cy="1525.47" r="4.9"/><circle cx="614.77" cy="1524.55" r="4.9"/><circle cx="615.35" cy="1526.8" r="4.9"/><circle cx="615.94" cy="1526.88" r="4.9"/><circle cx="616.53" cy="1524.5" r="4.9"/><circle cx="617.12" cy="1526.42" r="4.9"/><circle cx="617.7" cy="1526.3" r="4.9"/><circle cx="618.29" cy="1525.65" r="4.9"/><circle cx="618.88" cy="1525.44" r="4.9"/><circle cx="619.47" cy="1527.78" r="4.9"/><circle cx="620.05" cy="1526.78" r="4.9"/><circle cx="620.64" cy="1526.54" r="4.9"/><circle cx="621.23" cy="1526.48" r="4.9"/><circle cx="621.81" cy="1527.5" r="4.9"/><circle cx="622.4" cy="1526.35" r="4.9"/><circle cx="622.99" cy="1525.21" r="4.9"/><circle cx="623.58" cy="1527.2" r="4.9"/><circle cx="624.16" cy="1526.79" r="4.9"/><circle cx="624.75" cy="1528.31" r="4.9"/><circle cx="625.34" cy="1527.89" r="4.9"/><circle cx="625.93" cy="1526.69" r="4.9"/><circle cx="626.51" cy="1528.64" r="4.9"/><circle cx="627.1" cy="1526.15" r="4.9"/><circle cx="627.69" cy="1526.18" r="4.9"/><circle cx="628.28" cy="1529" r="4.9"/><circle cx="628.86" cy="1526.27" r="4.9"/><circle cx="629.45" cy="1528.27" r="4.9"/><circle cx="630.04" cy="1527.04" r="4.9"/><circle cx="630.62" cy="1527.19" r="4.9"/><circle cx="631.21" cy="1528.84" r="4.9"/><circle cx="631.8" cy="1527.67" r="4.9"/><circle cx="632.39" cy="1527.84" r="4.9"/><circle cx="632.97" cy="1527.43" r="4.9"/><circle cx="633.56" cy="1529.34" r="4.9"/><circle cx="634.15" cy="1527.81" r="4.9"/><circle cx="634.74" cy="1527.22" r="4.9"/><circle cx="635.32" cy="1528.29" r="4.9"/><circle cx="635.91" cy="1528.84" r="4.9"/><circle cx="636.5" cy="1530.36" r="4.9"/><circle cx="637.08" cy="1529.19" r="4.9"/><circle cx="637.67" cy="1529.76" r="4.9"/><circle cx="638.26" cy="1528.64" r="4.9"/><circle cx="638.85" cy="1528.87" r="4.9"/><circle cx="639.43" cy="1529.35" r="4.9"/><circle cx="640.02" cy="1530.74" r="4.9"/><circle cx="640.61" cy="1529.29" r="4.9"/><circle cx="641.2" cy="1529.44" r="4.9"/><circle cx="641.78" cy="1531.05" r="4.9"/><circle cx="642.37" cy="1528.78" r="4.9"/><circle cx="642.96" cy="1529.66" r="4.9"/><circle cx="643.54" cy="1531.55" r="4.9"/><circle cx="644.3" cy="1530.41" r="4.9"/></g>
<line x1="396.3" y1="1397.3" x2="521.5" y2="1397.3" stroke="#231815" stroke-width="1.6"/>
<line x1="437.9" y1="1450.6" x2="480" y2="1450.6" stroke="#231815" stroke-width="1.6"/>
<line x1="403.6" y1="1405" x2="403.6" y2="1540.8" stroke="#231815" stroke-width="1.6"/>
<polygon points="403.6,1398 400.4,1407 406.8,1407" fill="#231815"/>
<polygon points="403.6,1547.8 400.4,1538.8 406.8,1538.8" fill="#231815"/>
<line x1="444.6" y1="1458.2" x2="444.6" y2="1540.8" stroke="#231815" stroke-width="1.6"/>
<polygon points="444.6,1451.2 441.4,1460.2 447.8,1460.2" fill="#231815"/>
<polygon points="444.6,1547.8 441.4,1538.8 447.8,1538.8" fill="#231815"/>
<text transform="translate(408 1510.6) scale(1 1.045)">A</text>
<text transform="translate(429.2 1520.7) scale(1 1.045)" font-size="23">2</text>
<text transform="translate(448 1510.6) scale(1 1.045)">A</text>
<text transform="translate(467.6 1520.7) scale(1 1.045)" font-size="23">1</text>
<text transform="translate(808.7 1280.6) scale(1 1.045)" font-weight="bold" font-size="46">f</text>
<line x1="927.5" y1="1305" x2="1470.8" y2="1305" stroke="#000" stroke-width="1.85"/>
<line x1="927.5" y1="1742.8" x2="1470.8" y2="1742.8" stroke="#000" stroke-width="1.85"/>
<line x1="927.5" y1="1304" x2="927.5" y2="1743.8" stroke="#000" stroke-width="1.85"/>
<line x1="1470.8" y1="1304" x2="1470.8" y2="1743.8" stroke="#000" stroke-width="1.85"/>
<line x1="927.5" y1="1729.5" x2="919.1" y2="1729.5" stroke="#000" stroke-width="1.85"/>
<line x1="927.5" y1="1694.12" x2="923.5" y2="1694.12" stroke="#000" stroke-width="1.85"/>
<line x1="927.5" y1="1658.74" x2="923.5" y2="1658.74" stroke="#000" stroke-width="1.85"/>
<line x1="927.5" y1="1623.36" x2="919.1" y2="1623.36" stroke="#000" stroke-width="1.85"/>
<line x1="927.5" y1="1587.98" x2="923.5" y2="1587.98" stroke="#000" stroke-width="1.85"/>
<line x1="927.5" y1="1552.6" x2="923.5" y2="1552.6" stroke="#000" stroke-width="1.85"/>
<line x1="927.5" y1="1517.22" x2="919.1" y2="1517.22" stroke="#000" stroke-width="1.85"/>
<line x1="927.5" y1="1481.84" x2="923.5" y2="1481.84" stroke="#000" stroke-width="1.85"/>
<line x1="927.5" y1="1446.46" x2="923.5" y2="1446.46" stroke="#000" stroke-width="1.85"/>
<line x1="927.5" y1="1411.08" x2="919.1" y2="1411.08" stroke="#000" stroke-width="1.85"/>
<line x1="927.5" y1="1375.7" x2="923.5" y2="1375.7" stroke="#000" stroke-width="1.85"/>
<line x1="927.5" y1="1340.32" x2="923.5" y2="1340.32" stroke="#000" stroke-width="1.85"/>
<line x1="927.5" y1="1304.94" x2="919.1" y2="1304.94" stroke="#000" stroke-width="1.85"/>
<line x1="927.5" y1="1742.8" x2="927.5" y2="1751" stroke="#000" stroke-width="1.85"/>
<line x1="1036.16" y1="1742.8" x2="1036.16" y2="1751" stroke="#000" stroke-width="1.85"/>
<line x1="1144.82" y1="1742.8" x2="1144.82" y2="1751" stroke="#000" stroke-width="1.85"/>
<line x1="1253.48" y1="1742.8" x2="1253.48" y2="1751" stroke="#000" stroke-width="1.85"/>
<line x1="1362.14" y1="1742.8" x2="1362.14" y2="1751" stroke="#000" stroke-width="1.85"/>
<line x1="1470.8" y1="1742.8" x2="1470.8" y2="1751" stroke="#000" stroke-width="1.85"/>
<text transform="translate(914.2 1316.54) scale(1 1.045)" text-anchor="end">8</text>
<text transform="translate(914.2 1422.68) scale(1 1.045)" text-anchor="end">6</text>
<text transform="translate(914.2 1528.82) scale(1 1.045)" text-anchor="end">4</text>
<text transform="translate(914.2 1634.96) scale(1 1.045)" text-anchor="end">2</text>
<text transform="translate(914.2 1741.1) scale(1 1.045)" text-anchor="end">0</text>
<text transform="translate(927.5 1783.1) scale(1 1.045)" text-anchor="middle">0</text>
<text transform="translate(1036.16 1783.1) scale(1 1.045)" text-anchor="middle">100</text>
<text transform="translate(1144.82 1783.1) scale(1 1.045)" text-anchor="middle">200</text>
<text transform="translate(1253.48 1783.1) scale(1 1.045)" text-anchor="middle">300</text>
<text transform="translate(1362.14 1783.1) scale(1 1.045)" text-anchor="middle">400</text>
<text transform="translate(1470.8 1783.1) scale(1 1.045)" text-anchor="middle">500</text>
<text transform="translate(1094.7 1838.2) scale(1 1.045)">Pulse number</text>
<text transform="translate(841.4 1580) rotate(-90) scale(1 1.045)"><tspan font-style="italic">I</tspan><tspan font-size="23" dy="9.2">DS</tspan><tspan dy="-9.2"> (µA)</tspan></text>
<polyline points="927.5,1725.4 927.5,1722.91 928.59,1723.56 928.59,1720.4 929.67,1721.2 929.67,1717.27 930.76,1718.2 930.76,1713.57 931.85,1714.61 931.85,1709.2 932.93,1710.38 932.93,1704.18 934.02,1705.45 934.02,1698.64 935.11,1700.02 935.11,1692.43 936.19,1694.01 936.19,1685.77 937.28,1687.54 937.28,1678.7 938.37,1680.43 938.37,1671.56 939.45,1673.27 939.45,1663.96 940.54,1665.74 940.54,1656.36 941.63,1658.46 941.63,1648.32 942.71,1650.79 942.71,1640.58 943.8,1642.82 943.8,1633.13 944.89,1635.69 944.89,1624.88 945.97,1628.08 945.97,1617.16 947.06,1620.32 947.06,1609.65 948.15,1612.75 948.15,1602.04 949.23,1604.92 949.23,1594.79 950.32,1597.35 950.32,1587.42 951.41,1590.36 951.41,1579.64 952.49,1582.69 952.49,1572.76 953.58,1575.62 953.58,1565.54 954.66,1568.63 954.66,1558.57 955.75,1561.57 955.75,1552.04 956.84,1555.34 956.84,1545.13 957.92,1548.89 957.92,1538.91 959.01,1543.15 959.01,1532.52 960.1,1536.92 960.1,1527.21 961.18,1531.47 961.18,1521.72 962.27,1526.03 962.27,1516.84 963.36,1521.25 963.36,1511.91 964.44,1516.34 964.44,1507.69 965.53,1511.73 965.53,1503.72 966.62,1508.5 966.62,1498.87 967.7,1504.62 967.7,1495.11 968.79,1500.75 968.79,1491.72 969.88,1497.06 969.88,1488.44 970.96,1493.17 970.96,1485.62 972.05,1489.78 972.05,1482.47 973.14,1486.65 973.14,1479.18 974.22,1483.19 974.22,1476.31 975.31,1481.04 975.31,1472.19 976.4,1477.43 976.4,1469.57 977.48,1474.99 977.48,1465.82 978.57,1471.26 978.57,1463.42 979.66,1469.08 979.66,1459.57 980.74,1465.95 980.74,1456.79 981.83,1461.79 981.83,1455.21 982.92,1459.28 982.92,1452.14 984,1457.63 984,1448.41 985.09,1454.34 985.09,1446.54 986.18,1452.62 986.18,1443.29 987.26,1449.3 987.26,1441.85 988.35,1446.47 988.35,1440.1 989.44,1445.13 989.44,1437.03 990.52,1443.23 990.52,1434.68 991.61,1440.33 991.61,1433.46 992.7,1438.01 992.7,1431.77 993.78,1436.46 993.78,1429.42 994.87,1435.59 994.87,1426.48 995.96,1433.39 995.96,1424.96 997.04,1430.49 997.04,1424.2 998.13,1428.91 998.13,1422.2 999.22,1426.9 999.22,1420.69 1000.3,1425.09 1000.3,1419.04 1001.39,1424.66 1001.39,1416.09 1002.48,1421.93 1002.48,1415.5 1003.56,1420.96 1003.56,1413.23 1004.65,1419.17 1004.65,1411.85 1005.74,1417.17 1005.74,1410.78 1006.82,1416.62 1006.82,1408.35 1007.91,1414.1 1007.91,1407.98 1009,1413.6 1009,1405.69 1010.08,1411.3 1010.08,1405.3 1011.17,1410.54 1011.17,1403.49 1012.25,1408.91 1012.25,1402.64 1013.34,1407.8 1013.34,1401.36 1014.43,1407.92 1014.43,1398.97 1015.51,1406.5 1015.51,1398.19 1016.6,1404.53 1016.6,1398.05 1017.69,1404.56 1017.69,1395.98 1018.77,1402.34 1018.77,1396.25 1019.86,1401.72 1019.86,1394.97 1020.95,1401.65 1020.95,1393.22 1022.03,1400.36 1022.03,1392.73 1023.12,1398.5 1023.12,1392.88 1024.21,1399.31 1024.21,1390.4 1025.29,1397.05 1025.29,1391.04 1026.38,1396.34 1026.38,1390.18 1027.47,1396.54 1027.47,1388.46 1028.55,1394.96 1028.55,1388.55 1029.64,1394.17 1029.64,1387.89 1030.73,1393.04 1030.73,1387.6 1031.81,1392.37 1031.81,1386.88 1032.9,1392.62 1032.9,1385.28 1033.99,1391.32 1033.99,1385.27 1035.07,1391.35 1035.07,1383.94 1036.16,1390.28 1036.16,1383.75 1037.25,1389.82 1037.25,1382.98 1038.33,1390.18 1038.33,1381.42 1039.42,1388.68 1039.42,1381.74 1040.51,1388.28 1040.51,1381 1041.59,1388.28 1041.59,1379.89 1042.68,1386.43 1042.68,1380.68 1043.77,1385.85 1043.77,1380.22 1044.85,1386.8 1044.85,1378.27 1045.94,1386.14 1045.94,1377.97 1047.03,1384.57 1047.03,1378.61 1048.11,1384.01 1048.11,1378.29 1049.2,1384.64 1049.2,1376.8 1050.29,1384.61 1050.29,1376.01 1051.37,1382.77 1051.37,1377.06 1052.46,1383.85 1052.46,1375.22 1053.55,1383.35 1053.55,1374.99 1054.63,1382.45 1054.63,1375.18 1055.72,1381.76 1055.72,1375.2 1056.81,1380.8 1056.81,1375.49 1057.89,1380.35 1057.89,1375.3 1058.98,1381.84 1058.98,1373.18 1060.07,1380.12 1060.07,1374.29 1061.15,1380.73 1061.15,1373.09 1062.24,1379.57 1062.24,1373.68 1063.33,1380.4 1063.33,1372.29 1064.41,1379.67 1064.41,1372.46 1065.5,1378.81 1065.5,1372.79 1066.58,1378.32 1066.58,1372.76 1067.67,1379.13 1067.67,1371.43 1068.76,1377.6 1068.76,1372.46 1069.84,1377.66 1069.84,1371.9 1070.93,1378.08 1070.93,1371.01 1072.02,1378.42 1072.02,1370.2 1073.1,1377.71 1073.1,1370.43 1074.19,1376.83 1074.19,1370.86 1075.28,1377.86 1075.28,1369.38 1076.36,1376.23 1076.36,1370.56 1077.45,1375.64 1077.45,1370.72 1078.54,1375.92 1078.54,1370 1079.62,1376.06 1079.62,1369.44 1080.71,1375.08 1080.71,1369.99 1081.8,1375.11 1081.8,1369.55 1082.88,1375.28 1082.88,1368.96 1083.97,1375.48 1083.97,1368.36 1085.06,1374.41 1085.06,1369.03 1086.14,1374.67 1086.14,1368.37 1087.23,1375.52 1087.23,1367.13 1088.32,1375.51 1088.32,1366.75 1089.4,1374.68 1089.4,1367.21 1090.49,1374.56 1090.49,1366.95 1091.58,1374.16 1091.58,1366.97 1092.66,1373.09 1092.66,1367.67 1093.75,1372.7 1093.75,1367.7 1094.84,1372.48 1094.84,1367.55 1095.92,1374.08 1095.92,1365.59 1097.01,1373.49 1097.01,1365.83 1098.1,1373.84 1098.1,1365.14 1099.18,1371.79 1099.18,1366.85 1100.27,1372.85 1100.27,1365.44 1101.36,1372.37 1101.36,1365.58 1102.44,1372.7 1102.44,1364.92 1103.53,1371.71 1103.53,1365.58 1104.62,1372.91 1104.62,1364.05 1105.7,1370.9 1105.7,1365.74 1106.79,1371.68 1106.79,1364.63 1107.88,1371.91 1107.88,1364.09 1108.96,1372.08 1108.96,1363.6 1110.05,1371.59 1110.05,1363.77 1111.14,1371.37 1111.14,1363.68 1112.22,1371.4 1112.22,1363.35 1113.31,1371.49 1113.31,1362.95 1114.4,1370.21 1114.4,1363.93 1115.48,1370.73 1115.48,1363.11 1116.57,1371.02 1116.57,1362.53 1117.65,1370.81 1117.65,1362.44 1118.74,1369.75 1118.74,1363.21 1119.83,1370.36 1119.83,1362.31 1120.91,1370.37 1120.91,1362.02 1122,1369.64 1122,1362.46 1123.09,1369.6 1123.09,1362.21 1124.17,1368.97 1124.17,1362.56 1125.26,1369.24 1125.26,1362.02 1126.35,1369.15 1126.35,1361.82 1127.43,1367.95 1127.43,1362.75 1128.52,1368.94 1128.52,1361.48 1129.61,1369.52 1129.61,1360.63 1130.69,1369.16 1130.69,1360.73 1131.78,1368.72 1131.78,1360.9 1132.87,1367.9 1132.87,1361.45 1133.95,1368.47 1133.95,1360.62 1135.04,1368.03 1135.04,1360.8 1136.13,1367.62 1136.13,1360.95 1137.21,1368.29 1137.21,1360.02 1138.3,1366.64 1138.3,1361.42 1139.39,1367.86 1139.39,1359.94 1140.47,1366.27 1140.47,1361.28 1141.56,1367.31 1141.56,1359.99 1142.65,1366.94 1142.65,1360.11 1143.73,1366.31 1143.73,1360.5 1144.82,1367.14 1144.82,1359.43 1145.91,1366.62 1145.91,1359.71 1146.99,1366.74 1146.99,1359.36 1148.08,1367.24 1148.08,1358.61 1149.17,1365.77 1149.17,1359.85 1150.25,1365.16 1150.25,1360.23 1151.34,1365.63 1151.34,1359.53 1152.43,1366.29 1152.43,1358.64 1153.51,1365.21 1153.51,1359.5 1154.6,1365.03 1154.6,1359.46 1155.69,1366.42 1155.69,1357.84 1156.77,1365.81 1156.77,1358.23 1157.86,1365.26 1157.86,1358.57 1158.95,1366.07 1158.95,1357.54 1160.03,1364.81 1160.03,1358.59 1161.12,1365.4 1161.12,1357.79 1162.21,1364.34 1162.21,1358.64 1163.29,1364.71 1163.29,1358.07 1164.38,1365.38 1164.38,1357.2 1165.47,1365.5 1165.47,1356.88 1166.55,1365.33 1166.55,1356.84 1167.64,1364.22 1167.64,1357.76 1168.73,1364.53 1168.73,1357.26 1169.81,1363.88 1169.81,1357.7 1170.9,1363.42 1170.9,1357.98 1171.98,1364.06 1171.98,1357.15 1173.07,1364.67 1173.07,1356.35 1174.16,1364.6 1174.16,1356.24 1175.24,1364.23 1175.24,1356.42 1176.33,1364.62 1176.33,1355.84 1177.42,1363.15 1177.42,1357.13 1178.5,1362.84 1178.5,1357.26 1179.59,1363.33 1179.59,1356.6 1180.68,1362.88 1180.68,1356.87 1181.76,1362.67 1181.76,1356.91 1182.85,1363 1182.85,1356.41 1183.94,1363.35 1183.94,1355.89 1185.02,1362.99 1185.02,1356.08 1186.11,1362.55 1186.11,1356.37 1187.2,1363.54 1187.2,1355.21 1188.28,1363.76 1188.28,1354.84 1189.37,1362.59 1189.37,1355.85 1190.46,1361.74 1190.46,1356.55 1191.54,1361.58 1191.54,1356.57 1192.63,1363.23 1192.63,1354.76 1193.72,1361.45 1193.72,1356.4 1194.8,1362.76 1194.8,1354.96 1195.89,1362.4 1195.89,1355.18 1196.98,1361.8 1196.98,1355.65 1198.06,1362.73 1198.06,1354.6 1199.15,1361.08 1199.15,1356.13 1200.24,1361.26 1200.24,1355.82 1201.32,1361.85 1201.32,1355.11 1202.41,1360.91 1202.41,1355.94 1203.5,1362.51 1203.5,1354.22 1204.58,1361.24 1204.58,1355.39 1205.67,1360.98 1205.67,1355.53 1206.76,1360.74 1206.76,1355.67 1207.84,1361.88 1207.84,1354.42 1208.93,1361.46 1208.93,1354.75 1210.02,1361.78 1210.02,1354.32 1211.1,1361.79 1211.1,1354.21 1212.19,1362.05 1212.19,1353.85 1213.28,1362.31 1213.28,1353.49 1214.36,1361.7 1214.36,1354.01 1215.45,1360.65 1215.45,1354.96 1216.54,1361.17 1216.54,1354.34 1217.62,1360.52 1217.62,1354.91 1218.71,1360.12 1218.71,1355.21 1219.8,1361.03 1219.8,1354.21 1220.88,1361.49 1220.88,1353.67 1221.97,1360.34 1221.97,1354.73 1223.06,1360.49 1223.06,1354.49 1224.14,1360.6 1224.14,1354.3 1225.23,1361.28 1225.23,1353.53 1226.32,1360.87 1226.32,1353.85 1227.4,1361.03 1227.4,1353.62 1228.49,1361.28 1228.49,1353.28 1229.57,1360.49 1229.57,1353.99 1230.66,1361.27 1230.66,1353.13 1231.75,1361.47 1231.75,1352.85 1232.83,1359.74 1232.83,1354.51 1233.92,1361.45 1233.92,1352.72 1235.01,1360.97 1235.01,1353.12 1236.09,1359.71 1236.09,1354.3 1237.18,1360.34 1237.18,1353.59 1238.27,1360.66 1238.27,1353.2 1239.35,1361.21 1239.35,1352.57 1240.44,1360.07 1240.44,1353.64 1241.53,1360.43 1241.53,1353.2 1242.61,1361.04 1242.61,1352.52 1243.7,1360.83 1243.7,1352.66 1244.79,1361.1 1244.79,1352.32 1245.87,1360.07 1245.87,1353.27 1246.96,1360.42 1246.96,1352.85 1248.05,1359.46 1248.05,1353.74 1249.13,1360.49 1249.13,1352.63 1250.22,1360.66 1250.22,1352.39 1251.31,1360.26 1251.31,1352.72 1252.39,1360.38 1252.39,1352.53 1253.48,1359.3 1253.48,1353.54 1254.57,1360.69 1254.57,1352.08 1255.65,1360.82 1255.65,1351.88 1256.74,1360.78 1256.74,1351.85 1257.83,1359.83 1257.83,1352.73 1258.91,1360.32 1258.91,1352.17 1260,1359.31 1260,1353.11 1261.09,1360.5 1261.09,1351.85 1262.17,1360.35 1262.17,1351.93 1263.26,1359.27 1263.26,1352.95 1264.35,1358.68 1264.35,1353.46 1265.43,1359.39 1265.43,1352.69 1266.52,1359.59 1266.52,1352.43 1267.61,1360 1267.61,1351.94 1268.69,1359.39 1268.69,1352.49 1269.78,1358.4 1269.78,1353.41 1270.87,1359.99 1270.87,1351.76 1271.95,1358.41 1271.95,1353.27 1273.04,1359.91 1273.04,1351.71 1274.13,1358.57 1274.13,1352.98 1275.21,1358.88 1275.21,1352.61 1276.3,1359.79 1276.3,1351.64 1277.39,1358.41 1277.39,1352.95 1278.47,1358.4 1278.47,1352.9 1279.56,1359.13 1279.56,1352.11 1280.64,1359.53 1280.64,1351.64 1281.73,1359.74 1281.73,1351.37 1282.82,1359.4 1282.82,1351.65 1283.9,1359.9 1283.9,1351.09 1284.99,1358.93 1284.99,1352 1286.08,1359.85 1286.08,1351.02 1287.16,1358.02 1287.16,1352.78 1288.25,1358.27 1288.25,1352.47 1289.34,1358.88 1289.34,1351.81 1290.42,1358.36 1290.42,1352.27 1291.51,1359.24 1291.51,1351.33 1292.6,1359.02 1292.6,1351.49 1293.68,1358.75 1293.68,1351.7 1294.77,1359.39 1294.77,1351 1295.86,1358.77 1295.86,1351.56 1296.94,1358.23 1296.94,1352.05 1298.03,1358.34 1298.03,1351.87 1299.12,1359.28 1299.12,1350.88 1300.2,1359.37 1300.2,1350.74 1301.29,1357.9 1301.29,1352.15 1302.38,1359.21 1302.38,1350.78 1303.46,1359.42 1303.46,1350.51 1304.55,1358.47 1304.55,1351.41 1305.64,1358.54 1305.64,1351.28 1306.72,1357.74 1306.72,1352.02 1307.81,1358.41 1307.81,1351.3 1308.9,1358.32 1308.9,1351.34 1309.98,1358.5 1309.98,1351.1 1311.07,1357.27 1311.07,1352.27 1312.16,1359.21 1312.16,1350.28 1313.24,1358.23 1313.24,1351.2 1314.33,1357.97 1314.33,1351.41 1315.42,1358.77 1315.42,1350.55 1316.5,1358.25 1316.5,1351.02 1317.59,1358.07 1317.59,1351.14 1318.68,1358.46 1318.68,1350.7 1319.76,1357.14 1319.76,1351.97 1320.85,1358.09 1320.85,1350.96 1321.94,1357.81 1321.94,1351.2 1323.02,1358.91 1323.02,1350.04 1324.11,1358.82 1324.11,1350.08 1325.2,1357.43 1325.2,1351.42 1326.28,1357.83 1326.28,1350.96 1327.37,1357.08 1327.37,1351.66 1328.46,1357.69 1328.46,1350.99 1329.54,1358.46 1329.54,1350.17 1330.63,1358.61 1330.63,1349.97 1331.72,1357.7 1331.72,1350.83 1332.8,1357.34 1332.8,1351.13 1333.89,1357.06 1333.89,1351.37 1334.97,1357.92 1334.97,1350.45 1336.06,1358.54 1336.06,1349.79 1337.15,1356.85 1337.15,1351.42 1338.23,1358.18 1338.23,1350.04 1339.32,1356.58 1339.32,1351.59 1340.41,1356.91 1340.41,1351.21 1341.49,1356.95 1341.49,1351.11 1342.58,1357.88 1342.58,1350.13 1343.67,1357.1 1343.67,1350.86 1344.75,1357.14 1344.75,1350.77 1345.84,1357.67 1345.84,1350.19 1346.93,1356.57 1346.93,1351.24 1348.01,1357.85 1348.01,1349.9 1349.1,1356.56 1349.1,1351.15 1350.19,1357.34 1350.19,1350.31 1351.27,1356.77 1351.27,1350.83 1352.36,1356.64 1352.36,1350.91 1353.45,1357.31 1353.45,1350.2 1354.53,1357.09 1354.53,1350.36 1355.62,1356.93 1355.62,1350.47 1356.71,1356.99 1356.71,1350.36 1357.79,1357.2 1357.79,1350.1 1358.88,1356.41 1358.88,1350.84 1359.97,1356.48 1359.97,1350.72 1361.05,1357.34 1361.05,1349.81 1362.14,1357.33 1362.14,1349.77 1363.23,1357.08 1363.23,1349.97 1364.31,1357.73 1364.31,1349.27 1365.4,1357.2 1365.4,1349.75 1366.49,1357.69 1366.49,1349.21 1367.57,1356.36 1367.57,1350.49 1368.66,1357.4 1368.66,1349.4 1369.75,1357.52 1369.75,1349.23 1370.83,1357.69 1370.83,1349.02 1371.92,1356.44 1371.92,1350.22 1373.01,1356.41 1373.01,1350.19 1374.09,1357.66 1374.09,1348.9 1375.18,1356.16 1375.18,1350.35 1376.27,1357.77 1376.27,1348.69 1377.35,1357.51 1377.35,1348.9 1378.44,1355.91 1378.44,1350.45 1379.53,1356.11 1379.53,1350.21 1380.61,1357.1 1380.61,1349.16 1381.7,1356.1 1381.7,1350.12 1382.79,1355.74 1382.79,1350.43 1383.87,1357.25 1383.87,1348.87 1384.96,1356.37 1384.96,1349.7 1386.05,1357.12 1386.05,1348.91 1387.13,1355.71 1387.13,1350.27 1388.22,1356.26 1388.22,1349.67 1389.3,1356.83 1389.3,1349.06 1390.39,1355.41 1390.39,1350.43 1391.48,1355.77 1391.48,1350.02 1392.56,1356.75 1392.56,1348.99 1393.65,1357.21 1393.65,1348.49 1394.74,1357.31 1394.74,1348.35 1395.82,1355.5 1395.82,1350.11 1396.91,1356.29 1396.91,1349.27 1398,1356.8 1398,1348.72 1399.08,1356.24 1399.08,1349.23 1400.17,1356.6 1400.17,1348.82 1401.26,1355.54 1401.26,1349.84 1402.34,1355.27 1402.34,1350.06 1403.43,1355.32 1403.43,1349.97 1404.52,1355.15 1404.52,1350.09 1405.6,1356.21 1405.6,1348.99 1406.69,1356.11 1406.69,1349.04 1407.78,1356.2 1407.78,1348.91 1408.86,1355.29 1408.86,1349.77 1409.95,1355.35 1409.95,1349.67 1411.04,1355.37 1411.04,1349.6 1412.12,1356.68 1412.12,1348.25 1413.21,1356.97 1413.21,1347.91 1414.3,1356.82 1414.3,1348.02 1415.38,1355.05 1415.38,1349.74 1416.47,1354.96 1416.47,1349.79 1417.56,1356.8 1417.56,1347.9 1418.64,1355.75 1418.64,1348.91 1419.73,1356.37 1419.73,1348.25 1420.82,1355.43 1420.82,1349.15 1421.9,1355.7 1421.9,1348.83 1422.99,1355.78 1422.99,1348.71 1424.08,1355.58 1424.08,1348.87 1425.16,1355.92 1425.16,1348.49 1426.25,1354.66 1426.25,1349.7 1427.34,1356.08 1427.34,1348.23 1428.42,1356.36 1428.42,1347.91 1429.51,1354.95 1429.51,1349.28 1430.6,1355.5 1430.6,1348.69 1431.68,1356.08 1431.68,1348.07 1432.77,1355.36 1432.77,1348.75 1433.86,1354.9 1433.86,1349.17 1434.94,1354.82 1434.94,1349.21 1436.03,1355.52 1436.03,1348.46 1437.12,1354.46 1437.12,1349.48 1438.2,1356.28 1438.2,1347.62 1439.29,1356.07 1439.29,1347.79 1440.38,1355.85 1440.38,1347.98 1441.46,1356.15 1441.46,1347.63 1442.55,1355.65 1442.55,1348.09 1443.63,1355.16 1443.63,1348.54 1444.72,1355.55 1444.72,1348.11 1445.81,1355.33 1445.81,1348.29 1446.89,1356.31 1446.89,1347.27 1447.98,1355.92 1447.98,1347.62 1449.07,1354.75 1449.07,1348.75 1450.15,1356.1 1450.15,1347.36 1451.24,1355.73 1451.24,1347.69 1452.33,1355.78 1452.33,1347.6 1453.41,1355.84 1453.41,1347.51 1454.5,1354.96 1454.5,1348.34 1455.59,1355.98 1455.59,1347.3 1456.67,1355.92 1456.67,1347.31 1457.76,1355.51 1457.76,1347.68 1458.85,1355.65 1458.85,1347.51 1459.93,1355.62 1459.93,1347.49 1461.02,1354.85 1461.02,1348.23 1462.11,1355.5 1462.11,1347.55 1463.19,1354.11 1463.19,1348.9 1464.28,1354.66 1464.28,1348.31 1465.37,1354.91 1465.37,1348.02 1466.45,1353.93 1466.45,1348.97 1467.54,1354.64 1467.54,1348.22 1468.63,1355.21 1468.63,1347.61 1469.71,1355.16 1469.71,1347.62 1470.8,1354.32 1470.8,1348.43" fill="none" stroke="#ff4500" stroke-width="1.3" stroke-linejoin="round" stroke-linejoin="bevel"/>
<polyline points="927.5,1728.89 927.5,1728.57 928.59,1728.65 928.59,1728.27 929.67,1728.35 929.67,1727.92 930.76,1728.01 930.76,1727.52 931.85,1727.62 931.85,1727.09 932.93,1727.2 932.93,1726.62 934.02,1726.74 934.02,1726.12 935.11,1726.27 935.11,1725.59 936.19,1725.75 936.19,1725.05 937.28,1725.22 937.28,1724.47 938.37,1724.67 938.37,1723.86 939.45,1724.09 939.45,1723.19 940.54,1723.42 940.54,1722.51 941.63,1722.75 941.63,1721.69 942.71,1722 942.71,1720.79 943.8,1721.12 943.8,1719.83 944.89,1720.17 944.89,1718.72 945.97,1719.08 945.97,1717.53 947.06,1717.9 947.06,1716.18 948.15,1716.61 948.15,1714.71 949.23,1715.17 949.23,1713.19 950.32,1713.66 950.32,1711.53 951.41,1712.12 951.41,1709.74 952.49,1710.4 952.49,1707.98 953.58,1708.64 953.58,1706.14 954.66,1706.9 954.66,1704.15 955.75,1704.98 955.75,1702.23 956.84,1703.12 956.84,1700.1 957.92,1701.06 957.92,1698.02 959.01,1699.01 959.01,1695.74 960.1,1696.68 960.1,1693.54 961.18,1694.51 961.18,1690.97 962.27,1692.15 962.27,1688.35 963.36,1689.45 963.36,1685.83 964.44,1687.05 964.44,1682.79 965.53,1684.08 965.53,1680.1 966.62,1681.33 966.62,1677.01 967.7,1678.3 967.7,1674.04 968.79,1675.4 968.79,1670.81 969.88,1672.37 969.88,1667.59 970.96,1669.05 970.96,1664.59 972.05,1666.25 972.05,1661.01 973.14,1662.87 973.14,1657.98 974.22,1659.73 974.22,1654.69 975.31,1656.58 975.31,1651.41 976.4,1653.29 976.4,1648.3 977.48,1650.08 977.48,1645.13 978.57,1647.13 978.57,1641.76 979.66,1643.95 979.66,1638.65 980.74,1640.7 980.74,1635.66 981.83,1637.87 981.83,1632.3 982.92,1634.57 982.92,1629.46 984,1631.37 984,1626.56 985.09,1628.49 985.09,1623.37 986.18,1625.36 986.18,1620.45 987.26,1622.44 987.26,1617.34 988.35,1619.87 988.35,1613.89 989.44,1616.63 989.44,1611.09 990.52,1614.02 990.52,1607.67 991.61,1610.92 991.61,1604.73 992.7,1607.4 992.7,1602.22 993.78,1605.14 993.78,1598.47 994.87,1602.14 994.87,1595.51 995.96,1598.5 995.96,1593.29 997.04,1596.3 997.04,1589.73 998.13,1593.07 998.13,1587.35 999.22,1590.37 999.22,1584.62 1000.3,1588.17 1000.3,1581.6 1001.39,1584.98 1001.39,1579.77 1002.48,1582.8 1002.48,1577.14 1003.56,1580.86 1003.56,1574.48 1004.65,1578.42 1004.65,1572.47 1005.74,1576.02 1005.74,1570.58 1006.82,1574.43 1006.82,1568 1007.91,1572.24 1007.91,1566.1 1009,1570.03 1009,1564.28 1010.08,1567.55 1010.08,1562.76 1011.17,1566.1 1011.17,1560.23 1012.25,1563.95 1012.25,1558.39 1013.34,1561.72 1013.34,1556.65 1014.43,1559.58 1014.43,1554.81 1015.51,1558.12 1015.51,1552.31 1016.6,1555.72 1016.6,1550.77 1017.69,1554.12 1017.69,1548.48 1018.77,1552.45 1018.77,1546.31 1019.86,1550.33 1019.86,1544.67 1020.95,1548.27 1020.95,1543.05 1022.03,1546.83 1022.03,1540.9 1023.12,1544.89 1023.12,1539.35 1024.21,1543.6 1024.21,1537.25 1025.29,1541.65 1025.29,1535.89 1026.38,1540.59 1026.38,1533.73 1027.47,1538.97 1027.47,1532.22 1028.55,1537.18 1028.55,1530.95 1029.64,1535.08 1029.64,1530.05 1030.73,1533.46 1030.73,1528.74 1031.81,1532.97 1031.81,1526.33 1032.9,1531.42 1032.9,1525.03 1033.99,1529.83 1033.99,1523.82 1035.07,1528.11 1035.07,1522.76 1036.16,1526.63 1036.16,1521.49 1037.25,1525.8 1037.25,1519.59 1038.33,1524.3 1038.33,1518.38 1039.42,1523 1039.42,1516.99 1040.51,1521.73 1040.51,1515.6 1041.59,1520.58 1041.59,1514.11 1042.68,1518.53 1042.68,1513.53 1043.77,1517.31 1043.77,1512.14 1044.85,1517 1044.85,1509.87 1045.94,1515.65 1045.94,1508.67 1047.03,1514.34 1047.03,1507.45 1048.11,1511.96 1048.11,1507.33 1049.2,1510.75 1049.2,1506.07 1050.29,1509.82 1050.29,1504.56 1051.37,1508.84 1051.37,1503.15 1052.46,1507.93 1052.46,1501.69 1053.55,1506.05 1053.55,1501.26 1054.63,1505.52 1054.63,1499.5 1055.72,1503.74 1055.72,1499.04 1056.81,1502.66 1056.81,1497.93 1057.89,1502.41 1057.89,1496.02 1058.98,1501.18 1058.98,1495.14 1060.07,1500.26 1060.07,1493.99 1061.15,1498.88 1061.15,1493.35 1062.24,1498.04 1062.24,1492.21 1063.33,1496.67 1063.33,1491.63 1064.41,1495.91 1064.41,1490.48 1065.5,1495.56 1065.5,1488.95 1066.58,1494.78 1066.58,1487.89 1067.67,1492.75 1067.67,1488.11 1068.76,1491.93 1068.76,1487.15 1069.84,1492.07 1069.84,1485.25 1070.93,1490.93 1070.93,1484.65 1072.02,1490.3 1072.02,1483.58 1073.1,1488.62 1073.1,1483.56 1074.19,1488.1 1074.19,1482.4 1075.28,1487.03 1075.28,1481.82 1076.36,1487.05 1076.36,1480.15 1077.45,1485.57 1077.45,1480 1078.54,1485.19 1078.54,1478.75 1079.62,1484.91 1079.62,1477.42 1080.71,1483.09 1080.71,1477.62 1081.8,1482.64 1081.8,1476.47 1082.88,1482.15 1082.88,1475.36 1083.97,1481.64 1083.97,1474.29 1085.06,1480.08 1085.06,1474.25 1086.14,1479.21 1086.14,1473.55 1087.23,1478 1087.23,1473.18 1088.32,1478.44 1088.32,1471.17 1089.4,1476.41 1089.4,1471.63 1090.49,1475.65 1090.49,1470.85 1091.58,1475.64 1091.58,1469.31 1092.66,1474.75 1092.66,1468.66 1093.75,1474.31 1093.75,1467.57 1094.84,1472.94 1094.84,1467.43 1095.92,1472.96 1095.92,1465.91 1097.01,1471.1 1097.01,1466.29 1098.1,1470.58 1098.1,1465.33 1099.18,1470.58 1099.18,1463.87 1100.27,1468.92 1100.27,1464.09 1101.36,1468.57 1101.36,1463.01 1102.44,1468.55 1102.44,1461.62 1103.53,1467.81 1103.53,1460.97 1104.62,1466.45 1104.62,1460.96 1105.7,1465.55 1105.7,1460.51 1106.79,1465.23 1106.79,1459.49 1107.88,1465.18 1107.88,1458.22 1108.96,1463.94 1108.96,1458.16 1110.05,1462.89 1110.05,1457.93 1111.14,1463.24 1111.14,1456.31 1112.22,1462.38 1112.22,1455.92 1113.31,1462.35 1113.31,1454.71 1114.4,1461.78 1114.4,1454.06 1115.48,1461.14 1115.48,1453.5 1116.57,1459.75 1116.57,1453.7 1117.65,1459.77 1117.65,1452.49 1118.74,1458.35 1118.74,1452.74 1119.83,1457.8 1119.83,1452.14 1120.91,1457.37 1120.91,1451.43 1122,1457.71 1122,1449.95 1123.09,1457.09 1123.09,1449.45 1124.17,1455.43 1124.17,1449.99 1125.26,1455.08 1125.26,1449.25 1126.35,1454.54 1126.35,1448.69 1127.43,1454 1127.43,1448.15 1128.52,1453.51 1128.52,1447.55 1129.61,1452.97 1129.61,1447.03 1130.69,1452.11 1130.69,1446.82 1131.78,1452.22 1131.78,1445.65 1132.87,1452.1 1132.87,1444.72 1133.95,1451.14 1133.95,1444.63 1135.04,1451.13 1135.04,1443.59 1136.13,1450.14 1136.13,1443.54 1137.21,1448.95 1137.21,1443.7 1138.3,1449.46 1138.3,1442.16 1139.39,1449.17 1139.39,1441.43 1140.47,1447.61 1140.47,1441.98 1141.56,1446.66 1141.56,1441.93 1142.65,1447.03 1142.65,1440.56 1143.73,1446.59 1143.73,1440.02 1144.82,1446.15 1144.82,1439.49 1145.91,1446.37 1145.91,1438.3 1146.99,1445.35 1146.99,1438.39 1148.08,1445.15 1148.08,1437.65 1149.17,1443.38 1149.17,1438.51 1150.25,1443.8 1150.25,1437.21 1151.34,1443.79 1151.34,1436.34 1152.43,1442.1 1152.43,1437.17 1153.51,1441.68 1153.51,1436.76 1154.6,1442.44 1154.6,1435.18 1155.69,1442.33 1155.69,1434.48 1156.77,1440.48 1156.77,1435.56 1157.86,1441.08 1157.86,1434.18 1158.95,1439.82 1158.95,1434.69 1160.03,1440.54 1160.03,1433.23 1161.12,1440 1161.12,1433.04 1162.21,1438.91 1162.21,1433.41 1163.29,1438.51 1163.29,1433.11 1164.38,1439.15 1164.38,1431.78 1165.47,1438.37 1165.47,1431.88 1166.55,1438.48 1166.55,1431.1 1167.64,1437.48 1167.64,1431.45 1168.73,1437.06 1168.73,1431.24 1169.81,1437.9 1169.81,1429.78 1170.9,1437.05 1170.9,1430.01 1171.98,1436.43 1171.98,1430.04 1173.07,1436.22 1173.07,1429.68 1174.16,1436.27 1174.16,1429.06 1175.24,1435.98 1175.24,1428.82 1176.33,1436.09 1176.33,1428.18 1177.42,1434.91 1177.42,1428.85 1178.5,1435.43 1178.5,1427.84 1179.59,1434.89 1179.59,1427.89 1180.68,1435 1180.68,1427.32 1181.76,1434.68 1181.76,1427.18 1182.85,1434.51 1182.85,1426.9 1183.94,1434.4 1183.94,1426.58 1185.02,1434.31 1185.02,1426.24 1186.11,1433.51 1186.11,1426.61 1187.2,1433.09 1187.2,1426.62 1188.28,1433.23 1188.28,1426.07 1189.37,1433.2 1189.37,1425.69 1190.46,1432.29 1190.46,1426.2 1191.54,1432.1 1191.54,1426 1192.63,1431.39 1192.63,1426.31 1193.72,1432.3 1193.72,1425.01 1194.8,1432.58 1194.8,1424.36 1195.89,1431.24 1195.89,1425.31 1196.98,1430.67 1196.98,1425.51 1198.06,1430.56 1198.06,1425.25 1199.15,1430.78 1199.15,1424.66 1200.24,1430.36 1200.24,1424.73 1201.32,1431.44 1201.32,1423.28 1202.41,1429.57 1202.41,1424.8 1203.5,1429.86 1203.5,1424.16 1204.58,1429.32 1204.58,1424.35 1205.67,1430.15 1205.67,1423.19 1206.76,1430.22 1206.76,1422.78 1207.84,1428.94 1207.84,1423.72 1208.93,1428.55 1208.93,1423.78 1210.02,1429.13 1210.02,1422.87 1211.1,1429.21 1211.1,1422.47 1212.19,1429.66 1212.19,1421.7 1213.28,1427.86 1213.28,1423.18 1214.36,1427.84 1214.36,1422.89 1215.45,1427.83 1215.45,1422.59 1216.54,1427.74 1216.54,1422.38 1217.62,1427.62 1217.62,1422.19 1218.71,1428.38 1218.71,1421.13 1219.8,1428 1219.8,1421.22 1220.88,1427.16 1220.88,1421.77 1221.97,1426.94 1221.97,1421.69 1223.06,1426.98 1223.06,1421.37 1224.14,1426.63 1224.14,1421.43 1225.23,1427.59 1225.23,1420.19 1226.32,1426.61 1226.32,1420.89 1227.4,1426.92 1227.4,1420.3 1228.49,1427.29 1228.49,1419.66 1229.57,1426.52 1229.57,1420.16 1230.66,1425.97 1230.66,1420.44 1231.75,1427.03 1231.75,1419.12 1232.83,1426.95 1232.83,1418.94 1233.92,1425.73 1233.92,1419.89 1235.01,1425.99 1235.01,1419.37 1236.09,1426.64 1236.09,1418.46 1237.18,1425.62 1237.18,1419.23 1238.27,1425 1238.27,1419.6 1239.35,1424.55 1239.35,1419.8 1240.44,1426.13 1240.44,1417.98 1241.53,1425.73 1241.53,1418.13 1242.61,1424.82 1242.61,1418.8 1243.7,1424.97 1243.7,1418.4 1244.79,1424.83 1244.79,1418.31 1245.87,1424.25 1245.87,1418.64 1246.96,1425.49 1246.96,1417.17 1248.05,1424.74 1248.05,1417.68 1249.13,1423.83 1249.13,1418.36 1250.22,1423.28 1250.22,1418.68 1251.31,1424.05 1251.31,1417.68 1252.39,1423.74 1252.39,1417.76 1253.48,1424.44 1253.48,1416.84 1254.57,1424.17 1254.57,1416.88 1255.65,1423.85 1255.65,1416.97 1256.74,1422.89 1256.74,1417.72 1257.83,1422.78 1257.83,1417.61 1258.91,1422.98 1258.91,1417.18 1260,1422.76 1260,1417.19 1261.09,1423.81 1261.09,1415.92 1262.17,1423.03 1262.17,1416.49 1263.26,1423.16 1263.26,1416.15 1264.35,1423.73 1264.35,1415.36 1265.43,1422.24 1265.43,1416.64 1266.52,1422.65 1266.52,1416.02 1267.61,1421.81 1267.61,1416.65 1268.69,1422.89 1268.69,1415.36 1269.78,1421.32 1269.78,1416.73 1270.87,1422.79 1270.87,1415.06 1271.95,1422.73 1271.95,1414.91 1273.04,1422.59 1273.04,1414.86 1274.13,1421.07 1274.13,1416.17 1275.21,1421.33 1275.21,1415.72 1276.3,1422.09 1276.3,1414.76 1277.39,1420.81 1277.39,1415.85 1278.47,1421.45 1278.47,1415.02 1279.56,1421.33 1279.56,1414.94 1280.64,1422.17 1280.64,1413.91 1281.73,1421.37 1281.73,1414.52 1282.82,1421.79 1282.82,1413.91 1283.9,1420.64 1283.9,1414.88 1284.99,1421.48 1284.99,1413.85 1286.08,1420.67 1286.08,1414.48 1287.16,1421.54 1287.16,1413.42 1288.25,1419.86 1288.25,1414.92 1289.34,1421.19 1289.34,1413.42 1290.42,1419.91 1290.42,1414.52 1291.51,1420.47 1291.51,1413.78 1292.6,1420.35 1292.6,1413.73 1293.68,1419.55 1293.68,1414.35 1294.77,1420.76 1294.77,1412.96 1295.86,1419.68 1295.86,1413.88 1296.94,1419.59 1296.94,1413.8 1298.03,1419.05 1298.03,1414.17 1299.12,1419.41 1299.12,1413.64 1300.2,1419.64 1300.2,1413.24 1301.29,1420.04 1301.29,1412.68 1302.38,1419.27 1302.38,1413.29 1303.46,1419.82 1303.46,1412.57 1304.55,1418.62 1304.55,1413.62 1305.64,1419.1 1305.64,1412.98 1306.72,1419.15 1306.72,1412.77 1307.81,1420.05 1307.81,1411.72 1308.9,1419.71 1308.9,1411.9 1309.98,1419.3 1309.98,1412.17 1311.07,1417.98 1311.07,1413.33 1312.16,1418.61 1312.16,1412.55 1313.24,1419.18 1313.24,1411.83 1314.33,1418.19 1314.33,1412.67 1315.42,1418.75 1315.42,1411.97 1316.5,1418.48 1316.5,1412.1 1317.59,1417.54 1317.59,1412.9 1318.68,1419.37 1318.68,1410.92 1319.76,1418.93 1319.76,1411.23 1320.85,1417.71 1320.85,1412.31 1321.94,1418.43 1321.94,1411.44 1323.02,1417.73 1323.02,1412.01 1324.11,1417.83 1324.11,1411.77 1325.2,1418.09 1325.2,1411.39 1326.28,1417.55 1326.28,1411.79 1327.37,1417.56 1327.37,1411.65 1328.46,1417.6 1328.46,1411.48 1329.54,1418.07 1329.54,1410.88 1330.63,1417.21 1330.63,1411.61 1331.72,1417.04 1331.72,1411.66 1332.8,1418.01 1332.8,1410.56 1333.89,1417.17 1333.89,1411.28 1334.97,1418.3 1334.97,1410.02 1336.06,1417.5 1336.06,1410.7 1337.15,1417.75 1337.15,1410.33 1338.23,1416.93 1338.23,1411.03 1339.32,1417.83 1339.32,1410 1340.41,1416.34 1340.41,1411.37 1341.49,1416.37 1341.49,1411.21 1342.58,1416.22 1342.58,1411.24 1343.67,1417.29 1343.67,1410.04 1344.75,1417.29 1344.75,1409.92 1345.84,1416.2 1345.84,1410.89 1346.93,1416.58 1346.93,1410.39 1348.01,1417.36 1348.01,1409.49 1349.1,1416.83 1349.1,1409.9 1350.19,1415.79 1350.19,1410.82 1351.27,1415.99 1351.27,1410.49 1352.36,1415.8 1352.36,1410.57 1353.45,1415.67 1353.45,1410.57 1354.53,1416.17 1354.53,1409.96 1355.62,1415.46 1355.62,1410.55 1356.71,1417.05 1356.71,1408.84 1357.79,1416.03 1357.79,1409.74 1358.88,1416.14 1358.88,1409.52 1359.97,1416.34 1359.97,1409.19 1361.05,1416.52 1361.05,1408.9 1362.14,1416.57 1362.14,1408.73 1363.23,1415.66 1363.23,1409.53 1364.31,1415.49 1364.31,1409.57 1365.4,1415.59 1365.4,1409.36 1366.49,1414.76 1366.49,1410.08 1367.57,1415.46 1367.57,1409.26 1368.66,1415.99 1368.66,1408.62 1369.75,1416.48 1369.75,1408.01 1370.83,1416.05 1370.83,1408.33 1371.92,1415.74 1371.92,1408.53 1373.01,1415.58 1373.01,1408.57 1374.09,1414.37 1374.09,1409.67 1375.18,1414.93 1375.18,1409 1376.27,1414.9 1376.27,1408.92 1377.35,1415.44 1377.35,1408.26 1378.44,1414.32 1378.44,1409.28 1379.53,1414.8 1379.53,1408.69 1380.61,1415 1380.61,1408.38 1381.7,1415.5 1381.7,1407.77 1382.79,1415.52 1382.79,1407.65 1383.87,1415.04 1383.87,1408.01 1384.96,1414.1 1384.96,1408.85 1386.05,1415.24 1386.05,1407.6 1387.13,1415.46 1387.13,1407.28 1388.22,1414.71 1388.22,1407.92 1389.3,1414.27 1389.3,1408.25 1390.39,1414.51 1390.39,1407.91 1391.48,1413.76 1391.48,1408.56 1392.56,1414.83 1392.56,1407.39 1393.65,1415.31 1393.65,1406.8 1394.74,1414.34 1394.74,1407.67 1395.82,1414.68 1395.82,1407.23 1396.91,1414.87 1396.91,1406.94 1398,1413.56 1398,1408.15 1399.08,1414.98 1399.08,1406.63 1400.17,1414.31 1400.17,1407.2 1401.26,1413.42 1401.26,1408 1402.34,1413.14 1402.34,1408.17 1403.43,1413.41 1403.43,1407.81 1404.52,1414.02 1404.52,1407.11 1405.6,1414.21 1405.6,1406.82 1406.69,1413.44 1406.69,1407.5 1407.78,1414.57 1407.78,1406.27 1408.86,1413.41 1408.86,1407.34 1409.95,1413.56 1409.95,1407.09 1411.04,1412.85 1411.04,1407.72 1412.12,1414.47 1412.12,1406 1413.21,1412.78 1413.21,1407.6 1414.3,1414.25 1414.3,1406.04 1415.38,1413.49 1415.38,1406.71 1416.47,1413.48 1416.47,1406.63 1417.56,1413.44 1417.56,1406.59 1418.64,1412.81 1418.64,1407.13 1419.73,1414.04 1419.73,1405.81 1420.82,1414.16 1420.82,1405.61 1421.9,1413.78 1421.9,1405.91 1422.99,1413.31 1422.99,1406.29 1424.08,1412.33 1424.08,1407.2 1425.16,1413.67 1425.16,1405.77 1426.25,1412.57 1426.25,1406.79 1427.34,1413.73 1427.34,1405.55 1428.42,1412.4 1428.42,1406.8 1429.51,1413.02 1429.51,1406.11 1430.6,1413.49 1430.6,1405.56 1431.68,1412.17 1431.68,1406.8 1432.77,1412.85 1432.77,1406.04 1433.86,1411.88 1433.86,1406.94 1434.94,1411.76 1434.94,1406.99 1436.03,1412.01 1436.03,1406.66 1437.12,1413.57 1437.12,1405.03 1438.2,1413.44 1438.2,1405.09 1439.29,1412.85 1439.29,1405.61 1440.38,1412.13 1440.38,1406.26 1441.46,1412.81 1441.46,1405.51 1442.55,1412.91 1442.55,1405.35 1443.63,1412.17 1443.63,1406.02 1444.72,1412.55 1444.72,1405.57 1445.81,1412.94 1445.81,1405.12 1446.89,1411.35 1446.89,1406.64 1447.98,1411.68 1447.98,1406.25 1449.07,1412.18 1449.07,1405.69 1450.15,1411.51 1450.15,1406.3 1451.24,1411.96 1451.24,1405.79 1452.33,1412.3 1452.33,1405.4 1453.41,1411.48 1453.41,1406.15 1454.5,1412.14 1454.5,1405.44 1455.59,1411.61 1455.59,1405.92 1456.67,1412.18 1456.67,1405.29 1457.76,1411.69 1457.76,1405.73 1458.85,1412.27 1458.85,1405.09 1459.93,1411.05 1459.93,1406.26 1461.02,1412.28 1461.02,1404.98 1462.11,1411.22 1462.11,1406 1463.19,1412.8 1463.19,1404.36 1464.28,1412.07 1464.28,1405.05 1465.37,1411.79 1465.37,1405.28 1466.45,1411.65 1466.45,1405.38 1467.54,1412.05 1467.54,1404.93 1468.63,1412.16 1468.63,1404.78 1469.71,1412.27 1469.71,1404.62 1470.8,1412.23 1470.8,1404.61" fill="none" stroke="#e8f000" stroke-width="1.3" stroke-linejoin="round" stroke-linejoin="bevel"/>
<polyline points="927.5,1729.33 927.5,1729.26 928.59,1729.28 928.59,1729.2 929.67,1729.22 929.67,1729.12 930.76,1729.15 930.76,1729.02 931.85,1729.06 931.85,1728.92 932.93,1728.95 932.93,1728.78 934.02,1728.83 934.02,1728.63 935.11,1728.69 935.11,1728.45 936.19,1728.51 936.19,1728.25 937.28,1728.32 937.28,1728.01 938.37,1728.09 938.37,1727.73 939.45,1727.83 939.45,1727.41 940.54,1727.53 940.54,1727.07 941.63,1727.18 941.63,1726.67 942.71,1726.8 942.71,1726.19 943.8,1726.37 943.8,1725.67 944.89,1725.87 944.89,1725.1 945.97,1725.31 945.97,1724.46 947.06,1724.7 947.06,1723.74 948.15,1724 948.15,1722.98 949.23,1723.26 949.23,1722.11 950.32,1722.4 950.32,1721.2 951.41,1721.5 951.41,1720.19 952.49,1720.54 952.49,1719.07 953.58,1719.48 953.58,1717.89 954.66,1718.33 954.66,1716.64 955.75,1717.07 955.75,1715.33 956.84,1715.84 956.84,1713.83 957.92,1714.43 957.92,1712.34 959.01,1712.93 959.01,1710.77 960.1,1711.38 960.1,1709.08 961.18,1709.76 961.18,1707.3 962.27,1708.01 962.27,1705.48 963.36,1706.18 963.36,1703.59 964.44,1704.47 964.44,1701.43 965.53,1702.54 965.53,1699.33 966.62,1700.45 966.62,1697.24 967.7,1698.42 967.7,1694.98 968.79,1696.15 968.79,1692.82 969.88,1694.04 969.88,1690.38 970.96,1691.61 970.96,1688.17 972.05,1689.45 972.05,1685.59 973.14,1687.03 973.14,1683.18 974.22,1684.75 974.22,1680.56 975.31,1682.02 975.31,1678.33 976.4,1679.82 976.4,1675.52 977.48,1677.06 977.48,1673.22 978.57,1674.73 978.57,1670.48 979.66,1672.4 979.66,1667.72 980.74,1669.45 980.74,1665.58 981.83,1667.05 981.83,1662.91 982.92,1664.57 982.92,1660.34 984,1662.09 984,1657.81 985.09,1659.48 985.09,1655.45 986.18,1657.5 986.18,1652.52 987.26,1655.04 987.26,1650.12 988.35,1652.41 988.35,1647.95 989.44,1650.03 989.44,1645.59 990.52,1647.84 990.52,1643.09 991.61,1645.2 991.61,1641.11 992.7,1642.91 992.7,1638.83 993.78,1641.25 993.78,1635.96 994.87,1638.61 994.87,1634.1 995.96,1636.54 995.96,1631.72 997.04,1634.66 997.04,1629.17 998.13,1632.52 998.13,1626.9 999.22,1629.97 999.22,1625.06 1000.3,1627.6 1000.3,1623.05 1001.39,1625.51 1001.39,1620.78 1002.48,1623.86 1002.48,1618.06 1003.56,1621.69 1003.56,1615.88 1004.65,1618.96 1004.65,1614.27 1005.74,1617.36 1005.74,1611.54 1006.82,1614.81 1006.82,1609.78 1007.91,1612.79 1007.91,1607.53 1009,1610.41 1009,1605.67 1010.08,1608.98 1010.08,1602.91 1011.17,1607.03 1011.17,1600.72 1012.25,1604.25 1012.25,1599.43 1013.34,1602.67 1013.34,1597.01 1014.43,1600.27 1014.43,1595.48 1015.51,1599.04 1015.51,1592.88 1016.6,1596.33 1016.6,1591.86 1017.69,1594.55 1017.69,1589.99 1018.77,1593.42 1018.77,1587.58 1019.86,1591.26 1019.86,1586.3 1020.95,1590.21 1020.95,1584.01 1022.03,1588.55 1022.03,1582.44 1023.12,1586.81 1023.12,1581.05 1024.21,1584.66 1024.21,1580.18 1025.29,1583.81 1025.29,1578.11 1026.38,1582.67 1026.38,1576.44 1027.47,1580.74 1027.47,1575.64 1028.55,1579 1028.55,1574.75 1029.64,1577.88 1029.64,1573.32 1030.73,1576.74 1030.73,1572 1031.81,1576.01 1031.81,1570.34 1032.9,1574.25 1032.9,1569.79 1033.99,1573.1 1033.99,1568.68 1035.07,1572.06 1035.07,1567.52 1036.16,1571.51 1036.16,1565.94 1037.25,1570.61 1037.25,1564.73 1038.33,1569.08 1038.33,1564.21 1039.42,1568.43 1039.42,1562.84 1040.51,1567.71 1040.51,1561.56 1041.59,1566.37 1041.59,1560.93 1042.68,1564.95 1042.68,1560.4 1043.77,1564.09 1043.77,1559.34 1044.85,1563.93 1044.85,1557.59 1045.94,1562.66 1045.94,1556.96 1047.03,1561.23 1047.03,1556.51 1048.11,1560.77 1048.11,1555.1 1049.2,1559.14 1049.2,1554.87 1050.29,1559.38 1050.29,1552.78 1051.37,1557.76 1051.37,1552.55 1052.46,1556.97 1052.46,1551.51 1053.55,1556.07 1053.55,1550.59 1054.63,1554.53 1054.63,1550.31 1055.72,1554.37 1055.72,1548.66 1056.81,1553.05 1056.81,1548.17 1057.89,1552.12 1057.89,1547.31 1058.98,1551.98 1058.98,1545.66 1060.07,1550.12 1060.07,1545.73 1061.15,1549.51 1061.15,1544.57 1062.24,1549.28 1062.24,1543.03 1063.33,1547.71 1063.33,1542.83 1064.41,1546.88 1064.41,1541.9 1065.5,1546.38 1065.5,1540.64 1066.58,1545.01 1066.58,1540.26 1067.67,1545.14 1067.67,1538.38 1068.76,1544.41 1068.76,1537.36 1069.84,1542.2 1069.84,1537.84 1070.93,1541.95 1070.93,1536.35 1072.02,1541.51 1072.02,1535.07 1073.1,1540.13 1073.1,1534.72 1074.19,1540.07 1074.19,1533.07 1075.28,1538.61 1075.28,1532.83 1076.36,1537.3 1076.36,1532.45 1077.45,1537.02 1077.45,1531.06 1078.54,1536.33 1078.54,1530.09 1079.62,1535.09 1079.62,1529.69 1080.71,1534.73 1080.71,1528.43 1081.8,1534.12 1081.8,1527.44 1082.88,1532.94 1082.88,1527.05 1083.97,1532.15 1083.97,1526.29 1085.06,1531.91 1085.06,1525.02 1086.14,1530.92 1086.14,1524.52 1087.23,1529.95 1087.23,1524.04 1088.32,1529.89 1088.32,1522.68 1089.4,1528.01 1089.4,1523.17 1090.49,1528.26 1090.49,1521.57 1091.58,1526.66 1091.58,1521.85 1092.66,1526.69 1092.66,1520.52 1093.75,1525.49 1093.75,1520.47 1094.84,1525.19 1094.84,1519.54 1095.92,1525.11 1095.92,1518.43 1097.01,1524.55 1097.01,1517.82 1098.1,1523.99 1098.1,1517.24 1099.18,1522.56 1099.18,1517.56 1100.27,1522.41 1100.27,1516.61 1101.36,1521.46 1101.36,1516.5 1102.44,1521.5 1102.44,1515.41 1103.53,1520.86 1103.53,1515.02 1104.62,1519.62 1104.62,1515.25 1105.7,1520.02 1105.7,1513.86 1106.79,1519.72 1106.79,1513.18 1107.88,1519.02 1107.88,1512.93 1108.96,1519.03 1108.96,1511.97 1110.05,1517.45 1110.05,1512.61 1111.14,1516.94 1111.14,1512.19 1112.22,1516.27 1112.22,1511.95 1113.31,1516.6 1113.31,1510.72 1114.4,1516.05 1114.4,1510.37 1115.48,1515.62 1115.48,1509.92 1116.57,1514.9 1116.57,1509.77 1117.65,1515.34 1117.65,1508.46 1118.74,1513.73 1118.74,1509.21 1119.83,1514.67 1119.83,1507.41 1120.91,1513.7 1120.91,1507.54 1122,1513.24 1122,1507.17 1123.09,1513.24 1123.09,1506.34 1124.17,1511.93 1124.17,1506.85 1125.26,1511.37 1125.26,1506.6 1126.35,1511.25 1126.35,1505.93 1127.43,1510.42 1127.43,1505.98 1128.52,1510.48 1128.52,1505.14 1129.61,1510.62 1129.61,1504.25 1130.69,1510.09 1130.69,1504.04 1131.78,1509.29 1131.78,1504.11 1132.87,1509.47 1132.87,1503.21 1133.95,1508.28 1133.95,1503.7 1135.04,1509.16 1135.04,1502.12 1136.13,1507.74 1136.13,1502.88 1137.21,1507.55 1137.21,1502.41 1138.3,1507.07 1138.3,1502.25 1139.39,1507.65 1139.39,1501.04 1140.47,1507.58 1140.47,1500.5 1141.56,1507.21 1141.56,1500.27 1142.65,1505.69 1142.65,1501.21 1143.73,1505.99 1143.73,1500.33 1144.82,1505.64 1144.82,1500.13 1145.91,1505.11 1145.91,1500.11 1146.99,1506.13 1146.99,1498.56 1148.08,1504.29 1148.08,1499.88 1149.17,1504.8 1149.17,1498.87 1150.25,1505.01 1150.25,1498.15 1151.34,1505.15 1151.34,1497.52 1152.43,1503.47 1152.43,1498.72 1153.51,1503.76 1153.51,1497.95 1154.6,1504.03 1154.6,1497.22 1155.69,1502.59 1155.69,1498.2 1156.77,1502.71 1156.77,1497.63 1157.86,1503.61 1157.86,1496.28 1158.95,1502.1 1158.95,1497.35 1160.03,1502.32 1160.03,1496.7 1161.12,1501.94 1161.12,1496.65 1162.21,1501.95 1162.21,1496.22 1163.29,1501.14 1163.29,1496.62 1164.38,1500.86 1164.38,1496.49 1165.47,1502.33 1165.47,1494.62 1166.55,1501.73 1166.55,1494.82 1167.64,1501.48 1167.64,1494.67 1168.73,1500.42 1168.73,1495.36 1169.81,1500.27 1169.81,1495.12 1170.9,1500.6 1170.9,1494.42 1171.98,1499.87 1171.98,1494.77 1173.07,1500.08 1173.07,1494.2 1174.16,1500.72 1174.16,1493.2 1175.24,1499.55 1175.24,1494.01 1176.33,1499.33 1176.33,1493.88 1177.42,1500.28 1177.42,1492.58 1178.5,1499.46 1178.5,1493.06 1179.59,1498.29 1179.59,1493.88 1180.68,1498.76 1180.68,1493.08 1181.76,1499.03 1181.76,1492.48 1182.85,1497.83 1182.85,1493.35 1183.94,1498.16 1183.94,1492.68 1185.02,1498.62 1185.02,1491.9 1186.11,1498.76 1186.11,1491.44 1187.2,1498.11 1187.2,1491.76 1188.28,1498.48 1188.28,1491.07 1189.37,1497.57 1189.37,1491.66 1190.46,1497.29 1190.46,1491.62 1191.54,1497.93 1191.54,1490.67 1192.63,1496.96 1192.63,1491.32 1193.72,1497.51 1193.72,1490.46 1194.8,1496.36 1194.8,1491.3 1195.89,1496.44 1195.89,1490.91 1196.98,1495.99 1196.98,1491.04 1198.06,1496.49 1198.06,1490.24 1199.15,1495.65 1199.15,1490.77 1200.24,1495.57 1200.24,1490.55 1201.32,1495.44 1201.32,1490.37 1202.41,1495.74 1202.41,1489.77 1203.5,1495.31 1203.5,1489.9 1204.58,1495.4 1204.58,1489.5 1205.67,1496.23 1205.67,1488.38 1206.76,1495.52 1206.76,1488.79 1207.84,1495.7 1207.84,1488.31 1208.93,1494.38 1208.93,1489.34 1210.02,1494.56 1210.02,1488.87 1211.1,1493.86 1211.1,1489.28 1212.19,1494.82 1212.19,1488.03 1213.28,1494.09 1213.28,1488.47 1214.36,1493.79 1214.36,1488.48 1215.45,1493.19 1215.45,1488.79 1216.54,1493.34 1216.54,1488.36 1217.62,1493.34 1217.62,1488.07 1218.71,1493.44 1218.71,1487.69 1219.8,1494.25 1219.8,1486.6 1220.88,1493.74 1220.88,1486.83 1221.97,1492.8 1221.97,1487.49 1223.06,1492.83 1223.06,1487.19 1224.14,1492.32 1224.14,1487.42 1225.23,1493.59 1225.23,1485.88 1226.32,1492.42 1226.32,1486.78 1227.4,1493.01 1227.4,1485.91 1228.49,1492.81 1228.49,1485.85 1229.57,1493 1229.57,1485.38 1230.66,1491.27 1230.66,1486.85 1231.75,1491.69 1231.75,1486.17 1232.83,1491.67 1232.83,1485.93 1233.92,1491 1233.92,1486.34 1235.01,1492.31 1235.01,1484.76 1236.09,1491.18 1236.09,1485.64 1237.18,1491.86 1237.18,1484.71 1238.27,1491.27 1238.27,1485.03 1239.35,1490.31 1239.35,1485.75 1240.44,1490.8 1240.44,1485.01 1241.53,1490.39 1241.53,1485.16 1242.61,1489.91 1242.61,1485.39 1243.7,1489.99 1243.7,1485.07 1244.79,1490.67 1244.79,1484.14 1245.87,1489.53 1245.87,1485.04 1246.96,1489.92 1246.96,1484.41 1248.05,1490 1248.05,1484.08 1249.13,1490.1 1249.13,1483.74 1250.22,1489.24 1250.22,1484.37 1251.31,1490.16 1251.31,1483.21 1252.39,1489.23 1252.39,1483.9 1253.48,1489.96 1253.48,1482.94 1254.57,1489.74 1254.57,1482.93 1255.65,1488.68 1255.65,1483.76 1256.74,1488.67 1256.74,1483.53 1257.83,1488.69 1257.83,1483.28 1258.91,1489.37 1258.91,1482.37 1260,1488.69 1260,1482.82 1261.09,1488.54 1261.09,1482.74 1262.17,1489.31 1262.17,1481.75 1263.26,1488.02 1263.26,1482.8 1264.35,1488.03 1264.35,1482.57 1265.43,1488.02 1265.43,1482.35 1266.52,1487.67 1266.52,1482.48 1267.61,1487.24 1267.61,1482.69 1268.69,1487.1 1268.69,1482.6 1269.78,1488.1 1269.78,1481.38 1270.87,1487.87 1270.87,1481.38 1271.95,1488.2 1271.95,1480.83 1273.04,1488.4 1273.04,1480.41 1274.13,1487.05 1274.13,1481.54 1275.21,1487.62 1275.21,1480.75 1276.3,1487.97 1276.3,1480.18 1277.39,1486.57 1277.39,1481.36 1278.47,1487.34 1278.47,1480.38 1279.56,1487.19 1279.56,1480.31 1280.64,1487.61 1280.64,1479.67 1281.73,1487.35 1281.73,1479.73 1282.82,1486.07 1282.82,1480.79 1283.9,1486.7 1283.9,1479.95 1284.99,1485.6 1284.99,1480.84 1286.08,1486.12 1286.08,1480.11 1287.16,1485.95 1287.16,1480.07 1288.25,1485.23 1288.25,1480.58 1289.34,1485.73 1289.34,1479.88 1290.42,1485.53 1290.42,1479.88 1291.51,1485.74 1291.51,1479.47 1292.6,1485.24 1292.6,1479.77 1293.68,1484.91 1293.68,1479.89 1294.77,1485.27 1294.77,1479.34 1295.86,1485.3 1295.86,1479.11 1296.94,1484.64 1296.94,1479.58 1298.03,1485.46 1298.03,1478.56 1299.12,1484.58 1299.12,1479.25 1300.2,1484.21 1300.2,1479.43 1301.29,1484.58 1301.29,1478.87 1302.38,1484.64 1302.38,1478.63 1303.46,1484.04 1303.46,1479.04 1304.55,1484.75 1304.55,1478.15 1305.64,1484.88 1305.64,1477.83 1306.72,1484.52 1306.72,1478.02 1307.81,1484.7 1307.81,1477.65 1308.9,1483.35 1308.9,1478.83 1309.98,1483.95 1309.98,1478.05 1311.07,1483.82 1311.07,1478.02 1312.16,1483.17 1312.16,1478.49 1313.24,1483.72 1313.24,1477.77 1314.33,1482.99 1314.33,1478.34 1315.42,1483.73 1315.42,1477.44 1316.5,1483.82 1316.5,1477.19 1317.59,1483.52 1317.59,1477.32 1318.68,1483.17 1318.68,1477.51 1319.76,1482.96 1319.76,1477.57 1320.85,1482.45 1320.85,1477.92 1321.94,1482.98 1321.94,1477.24 1323.02,1483.93 1323.02,1476.15 1324.11,1483.25 1324.11,1476.68 1325.2,1482.6 1325.2,1477.18 1326.28,1483.29 1326.28,1476.34 1327.37,1482.32 1327.37,1477.18 1328.46,1482.78 1328.46,1476.57 1329.54,1482.98 1329.54,1476.23 1330.63,1483.55 1330.63,1475.53 1331.72,1482.37 1331.72,1476.57 1332.8,1482.71 1332.8,1476.1 1333.89,1483.33 1333.89,1475.34 1334.97,1482.94 1334.97,1475.6 1336.06,1482.61 1336.06,1475.8 1337.15,1482.53 1337.15,1475.75 1338.23,1482.07 1338.23,1476.07 1339.32,1482.01 1339.32,1476 1340.41,1481.69 1340.41,1476.19 1341.49,1482.66 1341.49,1475.09 1342.58,1482.69 1342.58,1474.93 1343.67,1481.69 1343.67,1475.8 1344.75,1482.62 1344.75,1474.74 1345.84,1480.92 1345.84,1476.32 1346.93,1481.04 1346.93,1476.07 1348.01,1481.67 1348.01,1475.3 1349.1,1481.24 1349.1,1475.61 1350.19,1481.27 1350.19,1475.45 1351.27,1482.37 1351.27,1474.23 1352.36,1480.75 1352.36,1475.72 1353.45,1480.77 1353.45,1475.58 1354.53,1480.77 1354.53,1475.44 1355.62,1481.56 1355.62,1474.53 1356.71,1480.66 1356.71,1475.31 1357.79,1480.16 1357.79,1475.68 1358.88,1481.12 1358.88,1474.6 1359.97,1480.78 1359.97,1474.82 1361.05,1480.42 1361.05,1475.05 1362.14,1480.84 1362.14,1474.51 1363.23,1481.08 1363.23,1474.15 1364.31,1480.82 1364.31,1474.28 1365.4,1480.91 1365.4,1474.07 1366.49,1480.73 1366.49,1474.13 1367.57,1481.18 1367.57,1473.56 1368.66,1481.38 1368.66,1473.24 1369.75,1480.12 1369.75,1474.38 1370.83,1480.09 1370.83,1474.29 1371.92,1481.05 1371.92,1473.21 1373.01,1479.9 1373.01,1474.24 1374.09,1480.61 1374.09,1473.42 1375.18,1480.51 1375.18,1473.4 1376.27,1480.44 1376.27,1473.35 1377.35,1480.91 1377.35,1472.77 1378.44,1480.58 1378.44,1472.97 1379.53,1479.27 1379.53,1474.18 1380.61,1480.09 1380.61,1473.24 1381.7,1479.78 1381.7,1473.43 1382.79,1479.86 1382.79,1473.24 1383.87,1479.44 1383.87,1473.55 1384.96,1479.23 1384.96,1473.65 1386.05,1480.05 1386.05,1472.72 1387.13,1479.59 1387.13,1473.07 1388.22,1478.97 1388.22,1473.58 1389.3,1478.94 1389.3,1473.5 1390.39,1479.03 1390.39,1473.3 1391.48,1478.69 1391.48,1473.53 1392.56,1479.28 1392.56,1472.83 1393.65,1478.49 1393.65,1473.52 1394.74,1478.32 1394.74,1473.58 1395.82,1478.28 1395.82,1473.52 1396.91,1478.29 1396.91,1473.4 1398,1479.38 1398,1472.21 1399.08,1478.21 1399.08,1473.28 1400.17,1478.8 1400.17,1472.58 1401.26,1479.36 1401.26,1471.92 1402.34,1478.75 1402.34,1472.43 1403.43,1478.1 1403.43,1472.98 1404.52,1479.39 1404.52,1471.59 1405.6,1479.35 1405.6,1471.54 1406.69,1477.75 1406.69,1473.04 1407.78,1478.08 1407.78,1472.61 1408.86,1478.52 1408.86,1472.08 1409.95,1479.02 1409.95,1471.48 1411.04,1478.2 1411.04,1472.21 1412.12,1478.77 1412.12,1471.54 1413.21,1477.84 1413.21,1472.38 1414.3,1478.68 1414.3,1471.45 1415.38,1477.9 1415.38,1472.15 1416.47,1477.87 1416.47,1472.09 1417.56,1478.63 1417.56,1471.23 1418.64,1478.75 1418.64,1471.03 1419.73,1478.68 1419.73,1471.01 1420.82,1478.14 1420.82,1471.47 1421.9,1477.82 1421.9,1471.71 1422.99,1478.32 1422.99,1471.12 1424.08,1478.12 1424.08,1471.24 1425.16,1478.48 1425.16,1470.8 1426.25,1478.38 1426.25,1470.82 1427.34,1477.05 1427.34,1472.07 1428.42,1477.49 1428.42,1471.55 1429.51,1478.01 1429.51,1470.95 1430.6,1477.14 1430.6,1471.75 1431.68,1477.01 1431.68,1471.8 1432.77,1476.65 1432.77,1472.09 1433.86,1477.7 1433.86,1470.96 1434.94,1478.35 1434.94,1470.24 1436.03,1478.37 1436.03,1470.15 1437.12,1476.73 1437.12,1471.72 1438.2,1477.76 1438.2,1470.62 1439.29,1477.21 1439.29,1471.1 1440.38,1477.59 1440.38,1470.66 1441.46,1477.1 1441.46,1471.08 1442.55,1478.1 1442.55,1470.02 1443.63,1478.18 1443.63,1469.88 1444.72,1476.34 1444.72,1471.65 1445.81,1477.59 1445.81,1470.35 1446.89,1476.42 1446.89,1471.46 1447.98,1476.24 1447.98,1471.58 1449.07,1476.68 1449.07,1471.08 1450.15,1477.51 1450.15,1470.2 1451.24,1477.98 1451.24,1469.67 1452.33,1476.28 1452.33,1471.32 1453.41,1476.66 1453.41,1470.89 1454.5,1476.05 1454.5,1471.45 1455.59,1477.02 1455.59,1470.43 1456.67,1476.88 1456.67,1470.52 1457.76,1476.64 1457.76,1470.71 1458.85,1476.5 1458.85,1470.81 1459.93,1477.42 1459.93,1469.85 1461.02,1477.47 1461.02,1469.75 1462.11,1476.38 1462.11,1470.8 1463.19,1476.57 1463.19,1470.57 1464.28,1476.98 1464.28,1470.11 1465.37,1477.25 1465.37,1469.81 1466.45,1477.64 1466.45,1469.38 1467.54,1476.49 1467.54,1470.49 1468.63,1477.05 1468.63,1469.89 1469.71,1476.75 1469.71,1470.16 1470.8,1477.22 1470.8,1469.65" fill="none" stroke="#00ff78" stroke-width="1.3" stroke-linejoin="round" stroke-linejoin="bevel"/>
<polyline points="927.5,1729.5 927.5,1729.5 928.59,1729.5 928.59,1729.5 929.67,1729.5 929.67,1729.5 930.76,1729.5 930.76,1729.5 931.85,1729.5 931.85,1729.5 932.93,1729.5 932.93,1729.5 934.02,1729.5 934.02,1729.5 935.11,1729.5 935.11,1729.5 936.19,1729.5 936.19,1729.5 937.28,1729.5 937.28,1729.5 938.37,1729.5 938.37,1729.5 939.45,1729.5 939.45,1729.49 940.54,1729.49 940.54,1729.49 941.63,1729.49 941.63,1729.48 942.71,1729.48 942.71,1729.47 943.8,1729.47 943.8,1729.46 944.89,1729.46 944.89,1729.44 945.97,1729.45 945.97,1729.42 947.06,1729.43 947.06,1729.39 948.15,1729.4 948.15,1729.36 949.23,1729.37 949.23,1729.32 950.32,1729.33 950.32,1729.27 951.41,1729.28 951.41,1729.21 952.49,1729.23 952.49,1729.14 953.58,1729.17 953.58,1729.06 954.66,1729.09 954.66,1728.97 955.75,1729 955.75,1728.86 956.84,1728.9 956.84,1728.74 957.92,1728.78 957.92,1728.6 959.01,1728.65 959.01,1728.44 960.1,1728.5 960.1,1728.27 961.18,1728.32 961.18,1728.07 962.27,1728.14 962.27,1727.85 963.36,1727.93 963.36,1727.6 964.44,1727.69 964.44,1727.33 965.53,1727.43 965.53,1727.04 966.62,1727.15 966.62,1726.7 967.7,1726.84 967.7,1726.34 968.79,1726.5 968.79,1725.96 969.88,1726.12 969.88,1725.56 970.96,1725.74 970.96,1725.11 972.05,1725.31 972.05,1724.64 973.14,1724.83 973.14,1724.17 974.22,1724.35 974.22,1723.67 975.31,1723.85 975.31,1723.12 976.4,1723.32 976.4,1722.56 977.48,1722.77 977.48,1721.98 978.57,1722.22 978.57,1721.36 979.66,1721.66 979.66,1720.71 980.74,1721.03 980.74,1720.1 981.83,1720.42 981.83,1719.42 982.92,1719.73 982.92,1718.79 984,1719.09 984,1718.08 985.09,1718.49 985.09,1717.29 986.18,1717.71 986.18,1716.66 987.26,1717.05 987.26,1715.86 988.35,1716.36 988.35,1715.06 989.44,1715.62 989.44,1714.28 990.52,1714.85 990.52,1713.48 991.61,1714.03 991.61,1712.7 992.7,1713.29 992.7,1711.8 993.78,1712.48 993.78,1710.93 994.87,1711.63 994.87,1710.05 995.96,1710.81 995.96,1709.11 997.04,1709.79 997.04,1708.33 998.13,1709.04 998.13,1707.24 999.22,1708.02 999.22,1706.37 1000.3,1707.14 1000.3,1705.32 1001.39,1706.09 1001.39,1704.4 1002.48,1705.24 1002.48,1703.23 1003.56,1704.05 1003.56,1702.37 1004.65,1703.15 1004.65,1701.17 1005.74,1702.02 1005.74,1700.16 1006.82,1701 1006.82,1699 1007.91,1699.91 1007.91,1697.87 1009,1698.88 1009,1696.64 1010.08,1697.8 1010.08,1695.42 1011.17,1696.53 1011.17,1694.34 1012.25,1695.45 1012.25,1693.04 1013.34,1694.17 1013.34,1691.88 1014.43,1692.94 1014.43,1690.64 1015.51,1691.92 1015.51,1689.15 1016.6,1690.48 1016.6,1688.04 1017.69,1689.13 1017.69,1686.8 1018.77,1687.93 1018.77,1685.37 1019.86,1686.77 1019.86,1683.86 1020.95,1685.25 1020.95,1682.68 1022.03,1684.11 1022.03,1681.08 1023.12,1682.68 1023.12,1679.74 1024.21,1681.36 1024.21,1678.26 1025.29,1679.76 1025.29,1677.04 1026.38,1678.33 1026.38,1675.63 1027.47,1676.93 1027.47,1674.16 1028.55,1675.61 1028.55,1672.6 1029.64,1674.22 1029.64,1671.1 1030.73,1672.59 1030.73,1669.83 1031.81,1671.4 1031.81,1668.12 1032.9,1669.91 1032.9,1666.7 1033.99,1668.44 1033.99,1665.27 1035.07,1667.12 1035.07,1663.68 1036.16,1665.92 1036.16,1661.98 1037.25,1664.07 1037.25,1660.93 1038.33,1663.03 1038.33,1659.09 1039.42,1661.29 1039.42,1657.96 1040.51,1660.13 1040.51,1656.26 1041.59,1658.34 1041.59,1655.22 1042.68,1657.49 1042.68,1653.26 1043.77,1655.75 1043.77,1652.2 1044.85,1654.73 1044.85,1650.46 1045.94,1652.89 1045.94,1649.57 1047.03,1651.67 1047.03,1648.09 1048.11,1650.55 1048.11,1646.55 1049.2,1648.88 1049.2,1645.59 1050.29,1647.66 1050.29,1644.23 1051.37,1646.68 1051.37,1642.68 1052.46,1645.64 1052.46,1641.23 1053.55,1643.97 1053.55,1640.46 1054.63,1642.67 1054.63,1639.37 1055.72,1641.63 1055.72,1638.07 1056.81,1640.98 1056.81,1636.45 1057.89,1639.21 1057.89,1635.98 1058.98,1638.5 1058.98,1634.5 1060.07,1637.24 1060.07,1633.64 1061.15,1636.41 1061.15,1632.38 1062.24,1635.04 1062.24,1631.71 1063.33,1634.38 1063.33,1630.38 1064.41,1633.63 1064.41,1629.18 1065.5,1632.65 1065.5,1628.25 1066.58,1631.53 1066.58,1627.5 1067.67,1630.52 1067.67,1626.68 1068.76,1629.67 1068.76,1625.72 1069.84,1628.4 1069.84,1625.23 1070.93,1628.17 1070.93,1623.73 1072.02,1627.19 1072.02,1623 1073.1,1626.15 1073.1,1622.37 1074.19,1625.52 1074.19,1621.35 1075.28,1624.49 1075.28,1620.75 1076.36,1623.66 1076.36,1619.98 1077.45,1622.74 1077.45,1619.33 1078.54,1622.3 1078.54,1618.2 1079.62,1621.52 1079.62,1617.46 1080.71,1620.71 1080.71,1616.75 1081.8,1619.52 1081.8,1616.45 1082.88,1619.35 1082.88,1615.15 1083.97,1618.46 1083.97,1614.59 1085.06,1617.88 1085.06,1613.73 1086.14,1617.18 1086.14,1613.02 1087.23,1616.82 1087.23,1611.98 1088.32,1615.37 1088.32,1612.05 1089.4,1615 1089.4,1611.05 1090.49,1614.85 1090.49,1609.86 1091.58,1613.94 1091.58,1609.44 1092.66,1612.87 1092.66,1609.2 1093.75,1612.65 1093.75,1608.12 1094.84,1612.27 1094.84,1607.22 1095.92,1611.05 1095.92,1607.17 1097.01,1610.9 1097.01,1606.07 1098.1,1609.53 1098.1,1606.21 1099.18,1609.81 1099.18,1604.7 1100.27,1608.7 1100.27,1604.61 1101.36,1607.84 1101.36,1604.27 1102.44,1607.89 1102.44,1603.04 1103.53,1607.11 1103.53,1602.65 1104.62,1606.84 1104.62,1601.76 1105.7,1606.15 1105.7,1601.29 1106.79,1605.56 1106.79,1600.75 1107.88,1604.69 1107.88,1600.48 1108.96,1604.66 1108.96,1599.4 1110.05,1603.1 1110.05,1599.84 1111.14,1603.43 1111.14,1598.4 1112.22,1602.71 1112.22,1598.02 1113.31,1601.67 1113.31,1597.97 1114.4,1601.74 1114.4,1596.81 1115.48,1600.81 1115.48,1596.65 1116.57,1600.37 1116.57,1596.01 1117.65,1600.21 1117.65,1595.1 1118.74,1598.93 1118.74,1595.3 1119.83,1598.5 1119.83,1594.67 1120.91,1598.38 1120.91,1593.72 1122,1597.21 1122,1593.83 1123.09,1597.24 1123.09,1592.75 1124.17,1596.98 1124.17,1591.96 1125.26,1596.13 1125.26,1591.77 1126.35,1595.33 1126.35,1591.53 1127.43,1595.46 1127.43,1590.37 1128.52,1595.02 1128.52,1589.78 1129.61,1594.42 1129.61,1589.37 1130.69,1593.66 1130.69,1589.11 1131.78,1593.58 1131.78,1588.19 1132.87,1592.96 1132.87,1587.81 1133.95,1591.72 1133.95,1588.08 1135.04,1591.48 1135.04,1587.33 1136.13,1590.69 1136.13,1587.16 1137.21,1590.14 1137.21,1586.76 1138.3,1590.04 1138.3,1585.91 1139.39,1590.2 1139.39,1584.82 1140.47,1589.7 1140.47,1584.4 1141.56,1588.39 1141.56,1584.8 1142.65,1588.02 1142.65,1584.28 1143.73,1587.83 1143.73,1583.58 1144.82,1587.96 1144.82,1582.59 1145.91,1587.25 1145.91,1582.44 1146.99,1587.18 1146.99,1581.66 1148.08,1585.75 1148.08,1582.26 1149.17,1586.47 1149.17,1580.72 1150.25,1585.11 1150.25,1581.28 1151.34,1585.23 1151.34,1580.36 1152.43,1585.15 1152.43,1579.65 1153.51,1584.58 1153.51,1579.45 1154.6,1583.54 1154.6,1579.73 1155.69,1583.75 1155.69,1578.76 1156.77,1583.09 1156.77,1578.68 1157.86,1582.2 1157.86,1578.83 1158.95,1582.25 1158.95,1578.06 1160.03,1581.86 1160.03,1577.73 1161.12,1581.91 1161.12,1576.97 1162.21,1581.11 1162.21,1577.06 1163.29,1581.18 1163.29,1576.3 1164.38,1580.95 1164.38,1575.83 1165.47,1579.96 1165.47,1576.14 1166.55,1579.55 1166.55,1575.87 1167.64,1579.94 1167.64,1574.8 1168.73,1579.32 1168.73,1574.76 1169.81,1578.56 1169.81,1574.85 1170.9,1578.21 1170.9,1574.54 1171.98,1578.95 1171.98,1573.14 1173.07,1578.2 1173.07,1573.24 1174.16,1577.55 1174.16,1573.23 1175.24,1577.02 1175.24,1573.12 1176.33,1577.74 1176.33,1571.75 1177.42,1577.03 1177.42,1571.82 1178.5,1576.77 1178.5,1571.43 1179.59,1575.96 1179.59,1571.6 1180.68,1575.58 1180.68,1571.35 1181.76,1575.4 1181.76,1570.9 1182.85,1574.74 1182.85,1570.93 1183.94,1575.07 1183.94,1569.97 1185.02,1574.49 1185.02,1569.93 1186.11,1574.71 1186.11,1569.09 1187.2,1573.86 1187.2,1569.33 1188.28,1573.62 1188.28,1568.95 1189.37,1573.38 1189.37,1568.58 1190.46,1573.67 1190.46,1567.69 1191.54,1572.58 1191.54,1568.19 1192.63,1572.76 1192.63,1567.41 1193.72,1571.84 1193.72,1567.75 1194.8,1572.02 1194.8,1566.99 1195.89,1571.34 1195.89,1567.1 1196.98,1571.85 1196.98,1566.02 1198.06,1570.78 1198.06,1566.54 1199.15,1571.28 1199.15,1565.49 1200.24,1570.77 1200.24,1565.46 1201.32,1570.2 1201.32,1565.49 1202.41,1570.6 1202.41,1564.58 1203.5,1569.59 1203.5,1565.06 1204.58,1569.83 1204.58,1564.32 1205.67,1569.38 1205.67,1564.26 1206.76,1568.93 1206.76,1564.22 1207.84,1568.15 1207.84,1564.5 1208.93,1568.4 1208.93,1563.77 1210.02,1567.98 1210.02,1563.72 1211.1,1567.97 1211.1,1563.27 1212.19,1568.45 1212.19,1562.32 1213.28,1567.3 1213.28,1563.01 1214.36,1567.64 1214.36,1562.23 1215.45,1567.38 1215.45,1562.03 1216.54,1566.57 1216.54,1562.4 1217.62,1566.59 1217.62,1561.95 1218.71,1565.98 1218.71,1562.12 1219.8,1566.84 1219.8,1560.84 1220.88,1565.73 1220.88,1561.53 1221.97,1565.76 1221.97,1561.08 1223.06,1565.44 1223.06,1560.98 1224.14,1565.91 1224.14,1560.1 1225.23,1565.75 1225.23,1559.86 1226.32,1565.18 1226.32,1560.02 1227.4,1564.92 1227.4,1559.88 1228.49,1564.1 1228.49,1560.31 1229.57,1565.03 1229.57,1558.99 1230.66,1563.69 1230.66,1559.93 1231.75,1563.89 1231.75,1559.35 1232.83,1563.72 1232.83,1559.14 1233.92,1564.03 1233.92,1558.46 1235.01,1563.77 1235.01,1558.35 1236.09,1563.12 1236.09,1558.62 1237.18,1563.73 1237.18,1557.65 1238.27,1563.62 1238.27,1557.39 1239.35,1562.12 1239.35,1558.53 1240.44,1562.81 1240.44,1557.48 1241.53,1562.4 1241.53,1557.53 1242.61,1562.08 1242.61,1557.51 1243.7,1562.05 1243.7,1557.19 1244.79,1561.67 1244.79,1557.23 1245.87,1562.01 1245.87,1556.54 1246.96,1561.74 1246.96,1556.47 1248.05,1562.1 1248.05,1555.77 1249.13,1561.95 1249.13,1555.59 1250.22,1561.8 1250.22,1555.4 1251.31,1560.78 1251.31,1556.09 1252.39,1561.24 1252.39,1555.3 1253.48,1560.82 1253.48,1555.39 1254.57,1560.74 1254.57,1555.16 1255.65,1561.01 1255.65,1554.56 1256.74,1559.5 1256.74,1555.75 1257.83,1559.91 1257.83,1555.01 1258.91,1559.67 1258.91,1554.94 1260,1559.88 1260,1554.41 1261.09,1559.09 1261.09,1554.89 1262.17,1560.06 1262.17,1553.61 1263.26,1558.77 1263.26,1554.59 1264.35,1558.85 1264.35,1554.2 1265.43,1558.36 1265.43,1554.37 1266.52,1558.58 1266.52,1553.85 1267.61,1558.94 1267.61,1553.19 1268.69,1557.82 1268.69,1554 1269.78,1557.8 1269.78,1553.72 1270.87,1558.35 1270.87,1552.86 1271.95,1558.17 1271.95,1552.75 1273.04,1558.2 1273.04,1552.43 1274.13,1557.33 1274.13,1552.99 1275.21,1558.01 1275.21,1552.02 1276.3,1557.74 1276.3,1551.99 1277.39,1557.67 1277.39,1551.78 1278.47,1556.56 1278.47,1552.6 1279.56,1556.93 1279.56,1551.94 1280.64,1556.12 1280.64,1552.47 1281.73,1557.22 1281.73,1551.07 1282.82,1557.21 1282.82,1550.8 1283.9,1557 1283.9,1550.73 1284.99,1555.57 1284.99,1551.88 1286.08,1555.91 1286.08,1551.26 1287.16,1556.05 1287.16,1550.84 1288.25,1555.91 1288.25,1550.71 1289.34,1555.15 1289.34,1551.2 1290.42,1556.02 1290.42,1550.05 1291.51,1555.16 1291.51,1550.64 1292.6,1555.33 1292.6,1550.2 1293.68,1554.63 1293.68,1550.63 1294.77,1555.16 1294.77,1549.83 1295.86,1554.37 1295.86,1550.35 1296.94,1554.18 1296.94,1550.28 1298.03,1554.68 1298.03,1549.52 1299.12,1554.23 1299.12,1549.71 1300.2,1554.82 1300.2,1548.86 1301.29,1553.9 1301.29,1549.52 1302.38,1554.03 1302.38,1549.14 1303.46,1553.36 1303.46,1549.55 1304.55,1553.48 1304.55,1549.18 1305.64,1553.71 1305.64,1548.7 1306.72,1553.74 1306.72,1548.42 1307.81,1553.47 1307.81,1548.44 1308.9,1553.94 1308.9,1547.72 1309.98,1552.69 1309.98,1548.73 1311.07,1553.7 1311.07,1547.48 1312.16,1552.53 1312.16,1548.4 1313.24,1553.64 1313.24,1547.05 1314.33,1552.85 1314.33,1547.6 1315.42,1552.55 1315.42,1547.66 1316.5,1552.75 1316.5,1547.23 1317.59,1553.01 1317.59,1546.73 1318.68,1553.05 1318.68,1546.46 1319.76,1552.1 1319.76,1547.18 1320.85,1551.37 1320.85,1547.67 1321.94,1551.48 1321.94,1547.34 1323.02,1552.37 1323.02,1546.22 1324.11,1552.14 1324.11,1546.23 1325.2,1551.99 1325.2,1546.15 1326.28,1551.03 1326.28,1546.88 1327.37,1551.5 1327.37,1546.2 1328.46,1550.62 1328.46,1546.86 1329.54,1550.64 1329.54,1546.62 1330.63,1550.82 1330.63,1546.22 1331.72,1551.73 1331.72,1545.09 1332.8,1551.13 1332.8,1545.48 1333.89,1551.33 1333.89,1545.05 1334.97,1550 1334.97,1546.17 1336.06,1550.46 1336.06,1545.5 1337.15,1549.84 1337.15,1545.91 1338.23,1550.01 1338.23,1545.52 1339.32,1549.68 1339.32,1545.64 1340.41,1550.81 1340.41,1544.29 1341.49,1549.8 1341.49,1545.09 1342.58,1549.94 1342.58,1544.74 1343.67,1550.09 1343.67,1544.38 1344.75,1550.34 1344.75,1543.91 1345.84,1550.33 1345.84,1543.71 1346.93,1549.65 1346.93,1544.19 1348.01,1549.44 1348.01,1544.19 1349.1,1549.96 1349.1,1543.46 1350.19,1549.07 1350.19,1544.14 1351.27,1548.82 1351.27,1544.18 1352.36,1549.4 1352.36,1543.4 1353.45,1548.55 1353.45,1544.04 1354.53,1548.62 1354.53,1543.76 1355.62,1548.61 1355.62,1543.56 1356.71,1548.59 1356.71,1543.39 1357.79,1548.3 1357.79,1543.47 1358.88,1548.31 1358.88,1543.25 1359.97,1548.24 1359.97,1543.12 1361.05,1547.52 1361.05,1543.64 1362.14,1548.64 1362.14,1542.32 1363.23,1547.34 1363.23,1543.41 1364.31,1547.96 1364.31,1542.59 1365.4,1547.9 1365.4,1542.46 1366.49,1547.57 1366.49,1542.59 1367.57,1547.19 1367.57,1542.76 1368.66,1546.9 1368.66,1542.85 1369.75,1547.23 1369.75,1542.33 1370.83,1547.04 1370.83,1542.32 1371.92,1547.21 1371.92,1541.95 1373.01,1546.72 1373.01,1542.25 1374.09,1547.43 1374.09,1541.34 1375.18,1546.92 1375.18,1541.65 1376.27,1546.08 1376.27,1542.3 1377.35,1546.61 1377.35,1541.58 1378.44,1547.39 1378.44,1540.61 1379.53,1545.79 1379.53,1542.01 1380.61,1546.61 1380.61,1541 1381.7,1547.09 1381.7,1540.32 1382.79,1546.07 1382.79,1541.16 1383.87,1546.34 1383.87,1540.7 1384.96,1545.88 1384.96,1540.96 1386.05,1545.69 1386.05,1540.97 1387.13,1546.08 1387.13,1540.4 1388.22,1545.95 1388.22,1540.33 1389.3,1545.43 1389.3,1540.67 1390.39,1545.63 1390.39,1540.29 1391.48,1545.56 1391.48,1540.17 1392.56,1545.85 1392.56,1539.7 1393.65,1544.65 1393.65,1540.71 1394.74,1544.62 1394.74,1540.55 1395.82,1544.79 1395.82,1540.21 1396.91,1544.73 1396.91,1540.09 1398,1545.47 1398,1539.17 1399.08,1544.79 1399.08,1539.67 1400.17,1545.39 1400.17,1538.89 1401.26,1544.58 1401.26,1539.52 1402.34,1544.31 1402.34,1539.62 1403.43,1544.85 1403.43,1538.91 1404.52,1543.82 1404.52,1539.76 1405.6,1545.15 1405.6,1538.25 1406.69,1544.83 1406.69,1538.4 1407.78,1543.94 1407.78,1539.11 1408.86,1543.84 1408.86,1539.04 1409.95,1544.55 1409.95,1538.16 1411.04,1544.42 1411.04,1538.12 1412.12,1544.11 1412.12,1538.27 1413.21,1543.09 1413.21,1539.11 1414.3,1544.13 1414.3,1537.91 1415.38,1542.91 1415.38,1538.96 1416.47,1543.75 1416.47,1537.96 1417.56,1543.55 1417.56,1537.99 1418.64,1544.07 1418.64,1537.31 1419.73,1543.53 1419.73,1537.69 1420.82,1542.47 1420.82,1538.59 1421.9,1543.84 1421.9,1537.06 1422.99,1543.47 1422.99,1537.26 1424.08,1543.12 1424.08,1537.46 1425.16,1542.13 1425.16,1538.3 1426.25,1543.22 1426.25,1537.05 1427.34,1542.63 1427.34,1537.48 1428.42,1542.97 1428.42,1536.99 1429.51,1543.38 1429.51,1536.42 1430.6,1543.2 1430.6,1536.45 1431.68,1541.78 1431.68,1537.72 1432.77,1542.83 1432.77,1536.52 1433.86,1542.21 1433.86,1536.99 1434.94,1542.64 1434.94,1536.41 1436.03,1541.97 1436.03,1536.94 1437.12,1542.01 1437.12,1536.75 1438.2,1541.92 1438.2,1536.7 1439.29,1541.34 1439.29,1537.13 1440.38,1541.59 1440.38,1536.74 1441.46,1542.18 1441.46,1536 1442.55,1541.05 1442.55,1537 1443.63,1541.05 1443.63,1536.85 1444.72,1542.14 1444.72,1535.63 1445.81,1541.8 1445.81,1535.83 1446.89,1541.54 1446.89,1535.95 1447.98,1540.78 1447.98,1536.58 1449.07,1540.72 1449.07,1536.51 1450.15,1540.96 1450.15,1536.13 1451.24,1541.93 1451.24,1535.03 1452.33,1541.23 1452.33,1535.6 1453.41,1541.75 1453.41,1534.95 1454.5,1540.54 1454.5,1536.03 1455.59,1540.81 1455.59,1535.64 1456.67,1540.94 1456.67,1535.38 1457.76,1541.37 1457.76,1534.83 1458.85,1540.15 1458.85,1535.92 1459.93,1541.3 1459.93,1534.65 1461.02,1540.59 1461.02,1535.23 1462.11,1539.82 1462.11,1535.88 1463.19,1540.41 1463.19,1535.18 1464.28,1540.26 1464.28,1535.2 1465.37,1540.69 1465.37,1534.67 1466.45,1541.04 1466.45,1534.19 1467.54,1540.28 1467.54,1534.84 1468.63,1540.54 1468.63,1534.46 1469.71,1539.99 1469.71,1534.89 1470.8,1540.57 1470.8,1534.2" fill="none" stroke="#0088ff" stroke-width="1.3" stroke-linejoin="round" stroke-linejoin="bevel"/>
<polyline points="927.5,1729.5 927.5,1729.5 928.59,1729.5 928.59,1729.5 929.67,1729.5 929.67,1729.5 930.76,1729.5 930.76,1729.5 931.85,1729.5 931.85,1729.5 932.93,1729.5 932.93,1729.5 934.02,1729.5 934.02,1729.5 935.11,1729.5 935.11,1729.5 936.19,1729.5 936.19,1729.5 937.28,1729.5 937.28,1729.5 938.37,1729.5 938.37,1729.5 939.45,1729.5 939.45,1729.5 940.54,1729.5 940.54,1729.5 941.63,1729.5 941.63,1729.5 942.71,1729.5 942.71,1729.5 943.8,1729.5 943.8,1729.5 944.89,1729.5 944.89,1729.5 945.97,1729.5 945.97,1729.5 947.06,1729.5 947.06,1729.5 948.15,1729.5 948.15,1729.5 949.23,1729.5 949.23,1729.5 950.32,1729.5 950.32,1729.49 951.41,1729.49 951.41,1729.49 952.49,1729.49 952.49,1729.48 953.58,1729.48 953.58,1729.47 954.66,1729.47 954.66,1729.45 955.75,1729.46 955.75,1729.44 956.84,1729.44 956.84,1729.41 957.92,1729.42 957.92,1729.38 959.01,1729.4 959.01,1729.35 960.1,1729.36 960.1,1729.31 961.18,1729.32 961.18,1729.25 962.27,1729.27 962.27,1729.19 963.36,1729.21 963.36,1729.12 964.44,1729.15 964.44,1729.04 965.53,1729.07 965.53,1728.95 966.62,1728.99 966.62,1728.85 967.7,1728.89 967.7,1728.74 968.79,1728.78 968.79,1728.62 969.88,1728.67 969.88,1728.48 970.96,1728.53 970.96,1728.34 972.05,1728.4 972.05,1728.18 973.14,1728.25 973.14,1728.01 974.22,1728.08 974.22,1727.83 975.31,1727.91 975.31,1727.65 976.4,1727.72 976.4,1727.45 977.48,1727.55 977.48,1727.22 978.57,1727.34 978.57,1726.99 979.66,1727.12 979.66,1726.75 980.74,1726.88 980.74,1726.52 981.83,1726.65 981.83,1726.24 982.92,1726.38 982.92,1725.98 984,1726.11 984,1725.68 985.09,1725.84 985.09,1725.36 986.18,1725.55 986.18,1725.04 987.26,1725.22 987.26,1724.72 988.35,1724.92 988.35,1724.34 989.44,1724.57 989.44,1723.98 990.52,1724.24 990.52,1723.58 991.61,1723.87 991.61,1723.18 992.7,1723.48 992.7,1722.78 993.78,1723.06 993.78,1722.38 994.87,1722.7 994.87,1721.9 995.96,1722.26 995.96,1721.47 997.04,1721.79 997.04,1721.04 998.13,1721.4 998.13,1720.52 999.22,1720.93 999.22,1720.04 1000.3,1720.42 1000.3,1719.59 1001.39,1719.93 1001.39,1719.09 1002.48,1719.42 1002.48,1718.59 1003.56,1718.97 1003.56,1718.01 1004.65,1718.43 1004.65,1717.5 1005.74,1717.92 1005.74,1716.95 1006.82,1717.38 1006.82,1716.4 1007.91,1716.83 1007.91,1715.86 1009,1716.33 1009,1715.24 1010.08,1715.74 1010.08,1714.69 1011.17,1715.19 1011.17,1714.1 1012.25,1714.62 1012.25,1713.51 1013.34,1714.08 1013.34,1712.87 1014.43,1713.56 1014.43,1712.2 1015.51,1712.85 1015.51,1711.72 1016.6,1712.39 1016.6,1710.98 1017.69,1711.8 1017.69,1710.35 1018.77,1711.15 1018.77,1709.78 1019.86,1710.54 1019.86,1709.16 1020.95,1709.98 1020.95,1708.5 1022.03,1709.33 1022.03,1707.91 1023.12,1708.75 1023.12,1707.25 1024.21,1708.2 1024.21,1706.56 1025.29,1707.56 1025.29,1705.96 1026.38,1706.82 1026.38,1705.45 1027.47,1706.16 1027.47,1704.87 1028.55,1705.77 1028.55,1704.02 1029.64,1705.02 1029.64,1703.53 1030.73,1704.52 1030.73,1702.79 1031.81,1703.76 1031.81,1702.32 1032.9,1703.22 1032.9,1701.63 1033.99,1702.59 1033.99,1701.03 1035.07,1702.09 1035.07,1700.3 1036.16,1701.56 1036.16,1699.61 1037.25,1700.82 1037.25,1699.12 1038.33,1700.24 1038.33,1698.48 1039.42,1699.57 1039.42,1697.92 1040.51,1698.92 1040.51,1697.33 1041.59,1698.55 1041.59,1696.46 1042.68,1697.66 1042.68,1696.11 1043.77,1697.34 1043.77,1695.19 1044.85,1696.63 1044.85,1694.65 1045.94,1695.8 1045.94,1694.22 1047.03,1695.48 1047.03,1693.28 1048.11,1694.57 1048.11,1692.93 1049.2,1694.12 1049.2,1692.11 1050.29,1693.32 1050.29,1691.63 1051.37,1693.03 1051.37,1690.64 1052.46,1692.13 1052.46,1690.25 1053.55,1691.72 1053.55,1689.37 1054.63,1690.76 1054.63,1689.04 1055.72,1690.38 1055.72,1688.13 1056.81,1689.49 1056.81,1687.73 1057.89,1688.83 1057.89,1687.09 1058.98,1688.43 1058.98,1686.19 1060.07,1687.97 1060.07,1685.35 1061.15,1687.21 1061.15,1684.82 1062.24,1686.65 1062.24,1684.08 1063.33,1685.98 1063.33,1683.45 1064.41,1685.22 1064.41,1682.92 1065.5,1684.37 1065.5,1682.47 1066.58,1683.95 1066.58,1681.6 1067.67,1683.15 1067.67,1681.11 1068.76,1682.68 1068.76,1680.29 1069.84,1681.96 1069.84,1679.72 1070.93,1681.4 1070.93,1678.99 1072.02,1680.62 1072.02,1678.5 1073.1,1680.25 1073.1,1677.59 1074.19,1679.47 1074.19,1677.09 1075.28,1678.89 1075.28,1676.42 1076.36,1678.04 1076.36,1676 1077.45,1677.65 1077.45,1675.14 1078.54,1677.08 1078.54,1674.47 1079.62,1676.7 1079.62,1673.61 1080.71,1675.86 1080.71,1673.22 1081.8,1675.02 1081.8,1672.85 1082.88,1674.52 1082.88,1672.15 1083.97,1673.95 1083.97,1671.53 1085.06,1673.58 1085.06,1670.71 1086.14,1673.14 1086.14,1669.97 1087.23,1672.6 1087.23,1669.36 1088.32,1672.02 1088.32,1668.79 1089.4,1671.44 1089.4,1668.23 1090.49,1670.84 1090.49,1667.7 1091.58,1670.34 1091.58,1667.08 1092.66,1669.22 1092.66,1667.1 1093.75,1668.97 1093.75,1666.25 1094.84,1668.5 1094.84,1665.63 1095.92,1668.03 1095.92,1665.03 1097.01,1667.46 1097.01,1664.53 1098.1,1666.94 1098.1,1663.99 1099.18,1666.64 1099.18,1663.25 1100.27,1665.55 1100.27,1663.29 1101.36,1665.33 1101.36,1662.47 1102.44,1665.13 1102.44,1661.65 1103.53,1663.99 1103.53,1661.77 1104.62,1663.54 1104.62,1661.21 1105.7,1663.58 1105.7,1660.17 1106.79,1663.15 1106.79,1659.6 1107.88,1662 1107.88,1659.76 1108.96,1661.51 1108.96,1659.25 1110.05,1661.6 1110.05,1658.18 1111.14,1661.02 1111.14,1657.79 1112.22,1660.42 1112.22,1657.42 1113.31,1659.99 1113.31,1656.89 1114.4,1659.65 1114.4,1656.27 1115.48,1659.22 1115.48,1655.75 1116.57,1658.15 1116.57,1655.87 1117.65,1657.73 1117.65,1655.34 1118.74,1657.82 1118.74,1654.32 1119.83,1657.5 1119.83,1653.7 1120.91,1656.93 1120.91,1653.34 1122,1656.15 1122,1653.2 1123.09,1655.64 1123.09,1652.78 1124.17,1655.19 1124.17,1652.31 1125.26,1654.48 1125.26,1652.11 1126.35,1654.63 1126.35,1651.05 1127.43,1653.78 1127.43,1651 1128.52,1653.6 1128.52,1650.29 1129.61,1653.11 1129.61,1649.88 1130.69,1652.52 1130.69,1649.59 1131.78,1652.36 1131.78,1648.87 1132.87,1651.75 1132.87,1648.61 1133.95,1651.14 1133.95,1648.35 1135.04,1651.26 1135.04,1647.38 1136.13,1650.25 1136.13,1647.54 1137.21,1649.81 1137.21,1647.13 1138.3,1649.48 1138.3,1646.63 1139.39,1649.26 1139.39,1646.02 1140.47,1649.12 1140.47,1645.34 1141.56,1648.33 1141.56,1645.32 1142.65,1647.85 1142.65,1644.99 1143.73,1647.82 1143.73,1644.23 1144.82,1647.09 1144.82,1644.18 1145.91,1646.93 1145.91,1643.56 1146.99,1646.32 1146.99,1643.4 1148.08,1646.49 1148.08,1642.47 1149.17,1645.51 1149.17,1642.7 1150.25,1645.18 1150.25,1642.29 1151.34,1644.88 1151.34,1641.86 1152.43,1644.55 1152.43,1641.46 1153.51,1644.55 1153.51,1640.74 1154.6,1644.15 1154.6,1640.43 1155.69,1643.91 1155.69,1639.97 1156.77,1643.33 1156.77,1639.84 1157.86,1642.57 1157.86,1639.91 1158.95,1642.86 1158.95,1638.94 1160.03,1642.05 1160.03,1639.07 1161.12,1641.69 1161.12,1638.76 1162.21,1641.54 1162.21,1638.24 1163.29,1641.75 1163.29,1637.37 1164.38,1640.85 1164.38,1637.61 1165.47,1640.52 1165.47,1637.3 1166.55,1640.72 1166.55,1636.45 1167.64,1640.48 1167.64,1636.05 1168.73,1639.6 1168.73,1636.29 1169.81,1639.04 1169.81,1636.21 1170.9,1639.36 1170.9,1635.27 1171.98,1639.05 1171.98,1634.96 1173.07,1638.31 1173.07,1635.08 1174.16,1638.45 1174.16,1634.33 1175.24,1637.75 1175.24,1634.41 1176.33,1637.36 1176.33,1634.2 1177.42,1637.36 1177.42,1633.59 1178.5,1637.21 1178.5,1633.14 1179.59,1636.65 1179.59,1633.1 1180.68,1636.7 1180.68,1632.46 1181.76,1635.61 1181.76,1632.95 1182.85,1635.8 1182.85,1632.18 1183.94,1635.39 1183.94,1632 1185.02,1634.79 1185.02,1632.02 1186.11,1635.36 1186.11,1630.88 1187.2,1634.3 1187.2,1631.36 1188.28,1634.08 1188.28,1631.01 1189.37,1634.48 1189.37,1630.05 1190.46,1634.29 1190.46,1629.68 1191.54,1633.99 1191.54,1629.43 1192.63,1633.12 1192.63,1629.75 1193.72,1633.45 1193.72,1628.87 1194.8,1632.38 1194.8,1629.41 1195.89,1632.7 1195.89,1628.55 1196.98,1632.68 1196.98,1628.05 1198.06,1631.65 1198.06,1628.56 1199.15,1631.33 1199.15,1628.36 1200.24,1631.64 1200.24,1627.54 1201.32,1631.6 1201.32,1627.07 1202.41,1631.2 1202.41,1626.98 1203.5,1631.19 1203.5,1626.5 1204.58,1630.43 1204.58,1626.77 1205.67,1630.11 1205.67,1626.62 1206.76,1629.61 1206.76,1626.64 1207.84,1629.54 1207.84,1626.25 1208.93,1630.01 1208.93,1625.31 1210.02,1628.87 1210.02,1626 1211.1,1628.77 1211.1,1625.66 1212.19,1628.72 1212.19,1625.26 1213.28,1628.19 1213.28,1625.36 1214.36,1628.25 1214.36,1624.86 1215.45,1627.9 1215.45,1624.78 1216.54,1627.63 1216.54,1624.63 1217.62,1627.86 1217.62,1623.99 1218.71,1627.67 1218.71,1623.76 1219.8,1627.49 1219.8,1623.52 1220.88,1627.5 1220.88,1623.11 1221.97,1627.05 1221.97,1623.16 1223.06,1627.31 1223.06,1622.5 1224.14,1626.17 1224.14,1623.24 1225.23,1626.13 1225.23,1622.88 1226.32,1625.77 1226.32,1622.84 1227.4,1625.83 1227.4,1622.39 1228.49,1626.14 1228.49,1621.7 1229.57,1626.13 1229.57,1621.32 1230.66,1625.48 1230.66,1621.59 1231.75,1624.91 1231.75,1621.78 1232.83,1624.91 1232.83,1621.4 1233.92,1624.99 1233.92,1620.94 1235.01,1624.5 1235.01,1621.05 1236.09,1624.86 1236.09,1620.31 1237.18,1624.88 1237.18,1619.91 1238.27,1624.12 1238.27,1620.29 1239.35,1624.1 1239.35,1619.94 1240.44,1624.18 1240.44,1619.48 1241.53,1623.57 1241.53,1619.71 1242.61,1623.08 1242.61,1619.83 1243.7,1623.74 1243.7,1618.79 1244.79,1623.59 1244.79,1618.56 1245.87,1622.33 1245.87,1619.44 1246.96,1622.98 1246.96,1618.41 1248.05,1622.38 1248.05,1618.63 1249.13,1621.8 1249.13,1618.83 1250.22,1621.74 1250.22,1618.5 1251.31,1621.56 1251.31,1618.3 1252.39,1622.01 1252.39,1617.46 1253.48,1621.22 1253.48,1617.86 1254.57,1620.81 1254.57,1617.88 1255.65,1620.84 1255.65,1617.45 1256.74,1621.31 1256.74,1616.58 1257.83,1620.77 1257.83,1616.72 1258.91,1620.76 1258.91,1616.34 1260,1620.34 1260,1616.36 1261.09,1619.82 1261.09,1616.48 1262.17,1619.43 1262.17,1616.47 1263.26,1619.56 1263.26,1615.93 1264.35,1619.06 1264.35,1616.03 1265.43,1619.11 1265.43,1615.57 1266.52,1619.33 1266.52,1614.94 1267.61,1618.84 1267.61,1615.03 1268.69,1618.76 1268.69,1614.7 1269.78,1618.74 1269.78,1614.31 1270.87,1618.17 1270.87,1614.46 1271.95,1618.02 1271.95,1614.21 1273.04,1618.44 1273.04,1613.38 1274.13,1617.88 1274.13,1613.53 1275.21,1617.49 1275.21,1613.51 1276.3,1617.43 1276.3,1613.16 1277.39,1617.13 1277.39,1613.04 1278.47,1616.78 1278.47,1612.99 1279.56,1617.27 1279.56,1612.09 1280.64,1616.26 1280.64,1612.69 1281.73,1616.9 1281.73,1611.65 1282.82,1616.6 1282.82,1611.54 1283.9,1616.44 1283.9,1611.3 1284.99,1615.38 1284.99,1611.96 1286.08,1615.59 1286.08,1611.34 1287.16,1615.97 1287.16,1610.56 1288.25,1614.94 1288.25,1611.2 1289.34,1614.6 1289.34,1611.14 1290.42,1615.07 1290.42,1610.27 1291.51,1614.29 1291.51,1610.67 1292.6,1614.52 1292.6,1610.04 1293.68,1613.81 1293.68,1610.37 1294.77,1614.58 1294.77,1609.21 1295.86,1613.58 1295.86,1609.82 1296.94,1613.16 1296.94,1609.86 1298.03,1613.7 1298.03,1608.95 1299.12,1613.1 1299.12,1609.18 1300.2,1613.18 1300.2,1608.73 1301.29,1612.92 1301.29,1608.62 1302.38,1613.27 1302.38,1607.91 1303.46,1612.58 1303.46,1608.23 1304.55,1612.24 1304.55,1608.22 1305.64,1611.6 1305.64,1608.51 1306.72,1612.04 1306.72,1607.72 1307.81,1611.59 1307.81,1607.83 1308.9,1611.8 1308.9,1607.28 1309.98,1611.7 1309.98,1607.03 1311.07,1611.33 1311.07,1607.08 1312.16,1610.7 1312.16,1607.38 1313.24,1611.05 1313.24,1606.71 1314.33,1610.87 1314.33,1606.57 1315.42,1610.92 1315.42,1606.21 1316.5,1611.18 1316.5,1605.64 1317.59,1610.16 1317.59,1606.36 1318.68,1610.22 1318.68,1606 1319.76,1609.62 1319.76,1606.31 1320.85,1610.39 1320.85,1605.26 1321.94,1609.53 1321.94,1605.84 1323.02,1610.15 1323.02,1604.95 1324.11,1609.97 1324.11,1604.85 1325.2,1609.15 1325.2,1605.41 1326.28,1609.85 1326.28,1604.45 1327.37,1609.22 1327.37,1604.83 1328.46,1608.99 1328.46,1604.8 1329.54,1609.03 1329.54,1604.51 1330.63,1609.41 1330.63,1603.89 1331.72,1608.71 1331.72,1604.35 1332.8,1608.58 1332.8,1604.24 1333.89,1608.22 1333.89,1604.37 1334.97,1608.81 1334.97,1603.54 1336.06,1608.26 1336.06,1603.86 1337.15,1607.95 1337.15,1603.95 1338.23,1607.65 1338.23,1604.02 1339.32,1607.56 1339.32,1603.88 1340.41,1608.24 1340.41,1602.97 1341.49,1608.09 1341.49,1602.9 1342.58,1608.21 1342.58,1602.56 1343.67,1608.02 1343.67,1602.52 1344.75,1607.61 1344.75,1602.71 1345.84,1607.65 1345.84,1602.45 1346.93,1607.43 1346.93,1602.45 1348.01,1607.44 1348.01,1602.21 1349.1,1607.32 1349.1,1602.1 1350.19,1606.41 1350.19,1602.8 1351.27,1607.13 1351.27,1601.86 1352.36,1606.35 1352.36,1602.41 1353.45,1606.17 1353.45,1602.38 1354.53,1606.94 1354.53,1601.39 1355.62,1605.67 1355.62,1602.45 1356.71,1606.19 1356.71,1601.7 1357.79,1605.87 1357.79,1601.81 1358.88,1606.35 1358.88,1601.12 1359.97,1606.01 1359.97,1601.24 1361.05,1606.29 1361.05,1600.74 1362.14,1606.22 1362.14,1600.6 1363.23,1605.73 1363.23,1600.87 1364.31,1604.87 1364.31,1601.53 1365.4,1605.56 1365.4,1600.63 1366.49,1604.72 1366.49,1601.25 1367.57,1605.76 1367.57,1600 1368.66,1605.52 1368.66,1600.04 1369.75,1604.68 1369.75,1600.67 1370.83,1604.41 1370.83,1600.73 1371.92,1604.98 1371.92,1599.96 1373.01,1604.96 1373.01,1599.77 1374.09,1605.16 1374.09,1599.37 1375.18,1604.58 1375.18,1599.74 1376.27,1603.83 1376.27,1600.3 1377.35,1604.52 1377.35,1599.4 1378.44,1603.54 1378.44,1600.18 1379.53,1604.51 1379.53,1599.01 1380.61,1604.29 1380.61,1599.04 1381.7,1604.21 1381.7,1598.92 1382.79,1604.23 1382.79,1598.7 1383.87,1603.73 1383.87,1599.01 1384.96,1604.14 1384.96,1598.41 1386.05,1603.64 1386.05,1598.72 1387.13,1603.35 1387.13,1598.82 1388.22,1603.11 1388.22,1598.87 1389.3,1602.98 1389.3,1598.82 1390.39,1602.44 1390.39,1599.16 1391.48,1602.54 1391.48,1598.89 1392.56,1603.3 1392.56,1597.95 1393.65,1602.45 1393.65,1598.61 1394.74,1602.93 1394.74,1597.95 1395.82,1603 1395.82,1597.7 1396.91,1602.81 1396.91,1597.72 1398,1602.48 1398,1597.87 1399.08,1602.13 1399.08,1598.05 1400.17,1601.98 1400.17,1598.02 1401.26,1601.78 1401.26,1598.05 1402.34,1602.32 1402.34,1597.34 1403.43,1602.29 1403.43,1597.21 1404.52,1602.55 1404.52,1596.78 1405.6,1601.65 1405.6,1597.52 1406.69,1602.37 1406.69,1596.63 1407.78,1602.27 1407.78,1596.57 1408.86,1601.35 1408.86,1597.33 1409.95,1602.17 1409.95,1596.35 1411.04,1601.64 1411.04,1596.72 1412.12,1602.03 1412.12,1596.18 1413.21,1601.7 1413.21,1596.36 1414.3,1601.03 1414.3,1596.88 1415.38,1600.88 1415.38,1596.88 1416.47,1601.14 1416.47,1596.47 1417.56,1601.02 1417.56,1596.45 1418.64,1600.33 1418.64,1596.99 1419.73,1601.39 1419.73,1595.8 1420.82,1600.87 1420.82,1596.17 1421.9,1600.72 1421.9,1596.19 1422.99,1601.02 1422.99,1595.75 1424.08,1600.29 1424.08,1596.36 1425.16,1600.15 1425.16,1596.36 1426.25,1600.61 1426.25,1595.77 1427.34,1600.08 1427.34,1596.17 1428.42,1600.14 1428.42,1595.99 1429.51,1599.72 1429.51,1596.28 1430.6,1599.64 1430.6,1596.25 1431.68,1600 1431.68,1595.77 1432.77,1600.17 1432.77,1595.48 1433.86,1600.69 1433.86,1594.85 1434.94,1600.22 1434.94,1595.21 1436.03,1599.85 1436.03,1595.47 1437.12,1599.79 1437.12,1595.42 1438.2,1599.5 1438.2,1595.61 1439.29,1599.78 1439.29,1595.23 1440.38,1600.39 1440.38,1594.51 1441.46,1599.2 1441.46,1595.61 1442.55,1599.58 1442.55,1595.14 1443.63,1599.88 1443.63,1594.75 1444.72,1599.94 1444.72,1594.59 1445.81,1599.61 1445.81,1594.84 1446.89,1599.69 1446.89,1594.67 1447.98,1600.05 1447.98,1594.23 1449.07,1599.96 1449.07,1594.23 1450.15,1599.03 1450.15,1595.09 1451.24,1599.39 1451.24,1594.66 1452.33,1599.98 1452.33,1593.99 1453.41,1599.3 1453.41,1594.6 1454.5,1598.8 1454.5,1595.04 1455.59,1599.57 1455.59,1594.21 1456.67,1598.56 1456.67,1595.16 1457.76,1598.66 1457.76,1595 1458.85,1599.18 1458.85,1594.42 1459.93,1598.77 1459.93,1594.78 1461.02,1599.36 1461.02,1594.13 1462.11,1599.34 1462.11,1594.1 1463.19,1598.76 1463.19,1594.64 1464.28,1599.35 1464.28,1594 1465.37,1599.17 1465.37,1594.14 1466.45,1599.23 1466.45,1594.04 1467.54,1598.86 1467.54,1594.36 1468.63,1598.81 1468.63,1594.38 1469.71,1598.34 1469.71,1594.81 1470.8,1598.83 1470.8,1594.28" fill="none" stroke="#6400ff" stroke-width="1.3" stroke-linejoin="round" stroke-linejoin="bevel"/>
<text transform="translate(1295.7 1390.4) scale(1 1.045)">74.5</text>
<text transform="translate(1295.7 1450.3) scale(1 1.045)">25.2</text>
<text transform="translate(1295.7 1516.3) scale(1 1.045)">15</text>
<text transform="translate(1295.7 1584.5) scale(1 1.045)">7.4</text>
<text transform="translate(1295.8 1643.4) scale(1 1.045)">4.9 µW/cm</text>
<text transform="translate(1454.16 1629.2) scale(1 1.045)" font-size="22">2</text>
</svg>
</body></html>
